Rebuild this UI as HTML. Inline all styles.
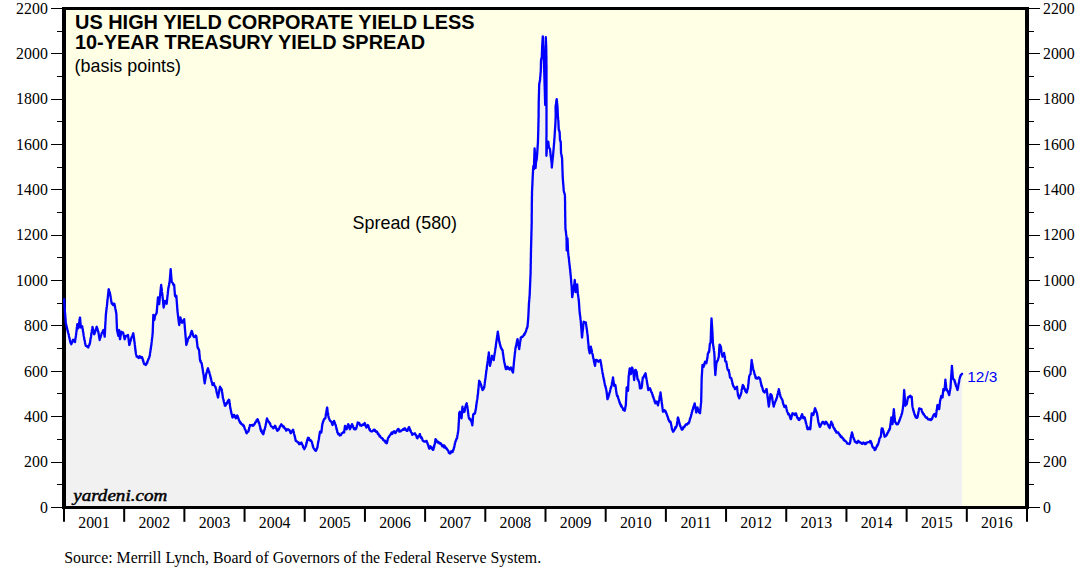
<!DOCTYPE html>
<html><head><meta charset="utf-8"><title>US High Yield Corporate Yield Less 10-Year Treasury Yield Spread</title>
<style>
html,body{margin:0;padding:0;background:#fff;}
body{width:1081px;height:571px;overflow:hidden;position:relative;}
svg text{font-kerning:normal;}
.ax{font-family:"Liberation Serif",serif;font-size:15.85px;fill:#000;}
.tt{font-family:"Liberation Sans",sans-serif;font-weight:bold;font-size:20.1px;fill:#000;}
.sub{font-family:"Liberation Sans",sans-serif;font-size:17.9px;fill:#000;}
.lab{font-family:"Liberation Sans",sans-serif;font-size:15.4px;fill:#0000ff;}
.yd{font-family:"Liberation Serif",serif;font-style:italic;font-weight:normal;font-size:15.8px;fill:#000;stroke:#000;stroke-width:0.45px;}
.src{font-family:"Liberation Serif",serif;font-size:15.85px;fill:#000;}
</style></head><body>
<svg width="1081" height="571" viewBox="0 0 1081 571" style="position:absolute;left:0;top:0">
<rect x="0" y="0" width="1081" height="571" fill="#fff"/>
<rect x="64" y="8.5" width="963" height="498.7" fill="#ffffe6"/>
<polygon points="64.2,507 64.2,299.2 64.2,299.6 64.2,300.1 64.3,301.1 64.3,301.2 64.3,302.3 64.4,302.7 64.4,303.1 64.4,304.1 64.5,304.3 64.5,305.2 64.5,305.5 64.6,306.1 64.6,307.0 64.6,308.0 64.7,308.3 64.7,308.6 64.8,309.3 64.8,310.3 64.9,311.1 64.9,311.4 64.9,311.8 65.0,313.0 65.0,312.7 65.1,314.1 65.1,314.1 65.2,314.6 65.2,315.2 65.3,316.0 65.3,317.0 65.4,317.0 65.4,318.0 65.5,318.7 65.5,319.0 65.6,319.8 65.6,319.9 65.6,320.5 65.7,321.3 65.7,322.3 65.8,322.7 65.8,323.3 66.0,323.7 66.1,324.6 66.3,325.0 66.4,325.5 66.6,326.6 66.7,327.1 66.9,327.2 67.0,328.1 67.2,328.7 67.3,329.7 67.5,330.1 67.6,330.1 67.7,331.5 67.9,331.1 68.0,332.1 68.2,333.0 68.3,333.3 68.5,333.5 68.6,334.5 68.8,334.6 68.9,335.9 69.0,336.6 69.2,337.0 69.3,337.9 69.5,337.9 69.6,338.9 69.8,339.4 69.9,340.0 70.0,340.4 70.2,341.5 70.3,341.7 70.6,342.9 70.8,342.9 71.1,343.8 71.3,344.2 71.6,342.9 71.8,343.1 72.0,342.4 72.3,342.2 72.5,341.4 72.8,340.0 73.0,339.7 73.4,339.9 73.8,340.9 74.2,340.2 74.6,341.5 75.0,342.0 75.1,341.1 75.2,340.4 75.2,339.8 75.3,339.9 75.4,338.6 75.5,338.1 75.6,337.7 75.7,337.6 75.8,336.2 75.8,335.9 75.9,335.4 76.0,335.2 76.1,334.5 76.2,334.0 76.2,332.8 76.3,332.3 76.4,331.7 76.5,331.6 76.6,331.1 76.7,330.0 76.7,329.0 76.8,328.4 76.9,327.8 77.0,327.1 77.0,326.7 77.1,326.2 77.2,325.2 77.3,324.3 77.3,324.2 77.5,324.7 77.6,325.2 77.8,326.0 77.9,327.1 78.0,327.4 78.2,327.8 78.3,328.3 78.4,327.9 78.5,327.3 78.6,326.1 78.7,326.3 78.8,325.6 78.9,325.1 79.0,324.4 79.1,323.4 79.2,322.8 79.3,321.9 79.4,321.9 79.4,320.7 79.5,320.1 79.6,319.6 79.7,319.0 79.8,318.5 79.9,317.6 80.0,317.5 80.1,317.7 80.1,318.4 80.2,319.0 80.2,319.9 80.3,320.2 80.3,321.6 80.4,322.0 80.4,322.2 80.5,322.9 80.5,323.6 80.6,324.2 80.6,324.6 80.7,325.9 80.7,326.7 80.8,326.8 80.8,327.5 81.5,326.9 82.2,326.3 82.3,326.5 82.4,327.1 82.5,328.0 82.6,328.5 82.7,329.7 82.8,329.6 82.9,330.0 83.0,331.6 83.1,331.8 83.2,332.0 83.3,333.0 83.4,333.0 83.5,334.2 83.6,335.2 83.7,335.7 83.8,336.1 83.9,336.3 84.0,337.0 84.1,337.4 84.2,338.3 84.3,339.3 84.4,339.6 84.6,340.5 84.7,340.6 84.9,341.1 85.0,342.4 85.1,343.3 85.3,343.7 85.4,344.3 85.6,344.9 85.7,345.5 85.8,345.8 86.3,345.6 86.8,346.5 87.3,346.5 87.8,346.2 88.3,347.5 88.5,346.3 88.8,346.0 89.0,345.3 89.2,345.2 89.4,345.0 89.6,343.7 89.8,343.7 90.0,342.5 90.1,342.4 90.2,341.8 90.3,340.6 90.4,339.8 90.5,339.2 90.6,338.6 90.7,338.0 90.8,337.9 90.9,337.6 91.0,336.9 91.1,335.9 91.2,335.5 91.2,335.1 91.3,333.7 91.4,333.7 91.5,333.4 91.6,332.7 91.7,332.0 91.8,331.2 91.9,330.2 92.0,330.3 92.1,329.2 92.2,329.1 92.3,328.7 92.4,327.5 92.5,327.0 92.6,327.5 92.8,328.7 92.9,329.0 93.1,329.0 93.2,329.6 93.3,330.2 93.5,331.6 93.6,332.1 93.8,332.0 93.9,333.3 94.0,334.1 94.2,334.2 94.5,333.8 94.8,332.7 95.0,332.4 95.3,331.7 95.5,330.6 95.7,329.8 95.8,330.4 96.0,329.3 96.2,328.6 96.3,328.4 96.5,327.2 96.7,326.7 96.9,327.8 97.1,328.3 97.3,328.2 97.5,328.8 97.7,329.5 97.9,330.1 98.1,331.2 98.3,331.7 98.4,332.0 98.5,332.8 98.6,333.1 98.7,334.5 98.8,334.5 98.9,335.2 99.0,335.9 99.1,336.8 99.2,336.9 99.3,338.1 99.4,338.2 99.5,338.8 99.6,339.4 99.7,340.0 99.8,338.8 100.0,338.7 100.2,337.8 100.4,337.0 100.6,337.3 100.8,336.0 100.9,335.7 101.1,335.4 101.3,334.6 101.5,333.7 101.7,333.3 102.0,332.8 102.3,332.3 102.7,332.1 103.0,330.5 103.3,330.7 103.7,330.0 103.8,330.3 103.8,331.0 103.9,332.1 104.0,332.4 104.1,333.1 104.2,333.9 104.3,334.7 104.4,334.8 104.5,335.6 104.6,336.1 104.7,336.7 104.7,336.1 104.7,335.6 104.8,334.8 104.8,334.3 104.8,333.6 104.9,333.4 104.9,332.6 104.9,332.2 105.0,331.6 105.0,330.4 105.0,330.1 105.1,329.8 105.1,329.1 105.1,327.9 105.2,327.3 105.2,327.0 105.2,326.1 105.2,325.6 105.3,324.9 105.3,324.8 105.3,324.3 105.4,323.8 105.4,322.5 105.4,322.4 105.5,321.8 105.5,320.7 105.5,320.8 105.6,320.2 105.6,319.0 105.6,319.0 105.7,317.9 105.7,317.4 105.7,317.2 105.8,316.5 105.8,315.3 105.8,315.0 105.9,314.3 106.0,313.8 106.1,313.0 106.1,312.2 106.2,311.7 106.3,311.5 106.3,310.2 106.4,310.1 106.5,309.3 106.6,308.3 106.6,308.0 106.7,307.6 106.8,306.9 106.9,305.8 106.9,306.1 107.0,305.0 107.1,304.7 107.1,304.2 107.2,302.8 107.3,302.3 107.3,301.5 107.4,301.6 107.4,300.5 107.5,299.8 107.6,299.4 107.6,299.3 107.7,298.6 107.8,297.5 107.8,296.7 107.9,296.9 108.0,295.9 108.0,295.4 108.1,294.3 108.2,293.6 108.2,293.6 108.3,292.7 108.3,291.8 108.4,292.0 108.5,291.1 108.5,290.7 108.6,289.4 108.7,289.2 108.9,290.2 109.0,289.8 109.2,291.4 109.4,291.5 109.6,291.9 109.8,292.8 110.0,293.3 110.1,294.4 110.2,294.3 110.3,294.8 110.4,295.8 110.5,296.1 110.6,296.6 110.7,297.2 110.8,297.7 110.9,298.5 111.0,299.2 111.1,299.8 111.2,300.9 111.3,301.0 111.4,301.8 111.5,302.1 111.6,302.9 111.7,303.7 112.1,303.2 112.6,304.1 113.0,305.0 113.4,303.7 113.9,304.5 114.3,303.7 114.5,304.3 114.6,304.5 114.7,305.5 114.8,306.6 115.0,306.3 115.1,307.6 115.2,307.8 115.3,308.5 115.5,309.5 115.6,309.6 115.7,310.3 115.8,311.1 116.0,312.1 116.1,312.0 116.2,313.1 116.3,313.3 116.4,314.1 116.4,314.7 116.4,315.1 116.4,315.7 116.5,316.0 116.5,316.7 116.5,317.3 116.5,318.5 116.6,318.7 116.6,319.2 116.6,319.8 116.6,321.0 116.7,321.7 116.7,322.1 116.7,322.4 116.7,323.0 116.8,323.6 116.8,324.4 116.8,324.8 116.8,325.6 116.9,326.1 116.9,327.3 116.9,327.9 116.9,328.2 117.0,328.5 117.0,329.8 117.0,330.0 117.1,330.4 117.3,331.1 117.4,331.4 117.6,332.5 117.7,333.2 117.9,333.9 118.0,334.2 118.2,335.2 118.3,335.8 118.4,334.7 118.5,334.3 118.6,333.5 118.7,333.1 118.8,332.1 118.9,331.5 119.0,331.1 119.1,330.4 119.2,330.0 119.2,330.7 119.3,331.2 119.3,332.1 119.4,332.6 119.4,333.3 119.5,334.0 119.6,334.2 119.6,334.7 119.7,336.0 119.7,335.8 119.8,336.9 119.8,337.5 119.9,337.5 119.9,338.9 120.0,339.2 120.1,339.0 120.2,338.1 120.3,337.5 120.4,337.0 120.6,335.7 120.7,335.4 120.8,334.8 120.9,334.5 121.0,333.9 121.1,333.3 121.2,332.4 121.3,331.7 121.9,332.8 122.4,332.6 123.0,332.5 123.2,333.3 123.3,333.4 123.5,333.8 123.6,334.5 123.8,335.4 123.9,335.7 124.1,337.1 124.2,337.4 124.4,338.1 124.5,338.7 124.7,339.2 124.9,338.7 125.1,337.8 125.4,336.5 125.6,336.9 125.8,335.8 126.6,336.1 127.3,335.3 128.0,335.0 128.1,335.7 128.2,336.4 128.2,336.4 128.3,337.7 128.4,337.9 128.5,338.3 128.6,339.1 128.7,340.2 128.8,340.3 128.8,341.5 128.9,342.4 129.0,342.5 129.1,343.0 129.2,343.7 129.2,344.6 129.3,345.0 129.5,344.7 129.7,343.9 129.9,343.4 130.1,342.1 130.2,341.5 130.4,341.1 130.6,341.1 130.8,339.9 131.0,339.6 131.2,338.3 131.3,338.3 131.6,337.1 131.8,336.8 132.1,336.7 132.3,336.1 132.6,335.4 132.8,334.3 133.1,334.0 133.3,333.3 133.4,333.9 133.5,334.5 133.6,334.8 133.7,336.2 133.8,336.2 133.8,337.6 133.9,338.1 134.0,337.8 134.1,338.9 134.2,339.9 134.2,340.7 134.3,340.8 134.4,341.2 134.5,341.8 134.6,343.2 134.7,343.3 134.7,343.7 134.8,344.7 134.9,344.9 135.0,345.9 135.0,346.9 135.1,346.7 135.2,348.0 135.2,348.3 135.3,349.3 135.4,349.8 135.5,349.9 135.5,351.2 135.6,351.4 135.7,351.6 135.8,352.2 135.8,353.3 136.0,354.0 136.2,354.6 136.3,355.1 136.5,355.6 136.7,356.7 137.3,356.5 137.9,356.7 138.5,358.0 139.2,357.5 139.7,356.2 140.3,357.5 140.8,356.7 141.4,357.9 141.9,357.1 142.5,358.3 142.7,359.4 142.8,359.8 143.0,360.6 143.2,360.4 143.3,361.1 143.5,361.7 143.7,363.0 143.8,363.1 144.0,363.4 144.2,364.2 144.7,364.3 145.3,364.2 145.8,365.0 146.1,363.8 146.4,363.3 146.7,363.8 146.9,362.5 147.2,362.9 147.5,361.7 147.7,360.8 147.9,360.2 148.2,359.9 148.4,358.9 148.6,358.6 148.8,358.8 149.0,358.1 149.2,357.4 149.4,356.6 149.7,355.8 149.8,355.7 149.9,355.1 149.9,354.1 150.0,353.7 150.1,352.4 150.2,352.5 150.3,351.6 150.4,351.3 150.5,350.6 150.6,349.6 150.7,348.7 150.8,349.1 150.9,347.6 151.0,347.4 151.1,346.6 151.1,346.0 151.2,345.8 151.3,345.0 151.4,344.9 151.5,343.5 151.5,343.3 151.6,342.3 151.7,342.0 151.8,341.2 151.8,340.4 151.9,339.8 152.0,339.2 152.0,339.3 152.1,338.2 152.2,337.4 152.2,337.4 152.3,336.9 152.4,335.7 152.5,334.8 152.5,334.3 152.6,333.5 152.7,333.3 152.7,332.6 152.7,331.8 152.7,331.3 152.8,330.7 152.8,330.3 152.8,330.0 152.8,329.3 152.8,328.4 152.9,327.8 152.9,327.2 152.9,326.5 152.9,325.9 153.0,325.0 153.0,324.6 153.0,324.6 153.0,323.2 153.0,322.9 153.1,322.4 153.1,322.0 153.1,320.9 153.1,320.3 153.2,319.7 153.2,319.2 153.2,318.6 153.2,318.4 153.2,317.7 153.3,317.2 153.3,315.8 153.3,315.2 153.3,315.0 153.4,315.8 153.5,316.7 153.6,316.8 153.8,317.6 153.9,317.6 154.0,318.6 154.1,319.8 154.2,320.0 154.3,319.7 154.5,319.2 154.6,318.7 154.8,317.2 154.9,316.4 155.0,315.9 155.2,315.7 155.3,315.0 155.7,314.6 156.0,314.4 156.3,313.5 156.7,312.5 156.7,312.0 156.8,311.5 156.8,310.7 156.9,310.1 156.9,309.1 157.0,309.2 157.0,308.0 157.1,308.1 157.1,307.2 157.2,306.3 157.3,305.6 157.3,305.1 157.4,304.8 157.4,304.3 157.5,303.1 157.5,302.5 157.6,302.3 157.6,301.8 157.7,301.0 157.7,300.2 157.8,300.0 157.8,298.8 157.9,298.5 157.9,298.1 158.0,297.5 158.1,298.6 158.2,298.9 158.3,299.7 158.4,299.9 158.5,300.2 158.6,300.9 158.7,302.2 158.8,302.6 159.0,302.7 159.1,303.1 159.2,304.2 159.2,303.5 159.3,303.1 159.4,302.2 159.4,301.4 159.5,301.1 159.6,300.7 159.6,299.4 159.7,298.6 159.7,298.2 159.8,297.7 159.9,297.3 159.9,296.2 160.0,295.8 160.1,295.5 160.1,294.9 160.2,294.0 160.3,293.1 160.3,293.3 160.4,292.0 160.5,291.9 160.5,290.8 160.6,290.1 160.6,290.1 160.7,289.0 160.8,289.0 160.8,288.0 160.9,287.1 161.0,286.5 161.0,286.1 161.1,285.8 161.2,285.0 161.2,286.0 161.3,285.9 161.4,286.7 161.5,287.1 161.5,288.5 161.6,288.3 161.7,288.8 161.8,289.4 161.8,290.3 161.9,291.4 162.0,292.0 162.1,292.5 162.1,293.3 162.2,293.9 162.3,293.9 162.4,294.3 162.4,295.7 162.5,295.8 162.6,296.7 162.6,296.6 162.7,297.8 162.7,298.2 162.8,298.8 162.9,299.4 162.9,299.8 163.0,300.3 163.1,301.1 163.1,301.8 163.2,303.0 163.2,302.8 163.3,304.3 163.4,304.2 163.4,304.9 163.5,306.0 163.5,306.6 163.6,306.8 163.7,307.5 163.8,306.4 163.9,306.3 164.0,305.5 164.2,305.5 164.3,304.1 164.4,303.7 164.5,303.7 164.6,302.1 164.8,301.9 164.9,301.8 165.0,300.8 165.3,301.8 165.7,301.2 166.0,301.8 166.3,302.4 166.7,303.7 166.7,303.5 166.8,302.2 166.9,302.1 166.9,301.6 167.0,300.4 167.1,299.8 167.1,299.8 167.2,298.9 167.3,297.9 167.3,297.7 167.4,296.7 167.5,296.1 167.5,295.2 167.6,295.3 167.7,294.9 167.7,294.0 167.8,293.7 167.9,292.2 167.9,291.8 168.0,291.4 168.1,291.2 168.1,290.6 168.2,289.5 168.3,288.7 168.3,288.3 168.5,287.7 168.6,287.1 168.7,287.0 168.8,285.6 168.9,285.6 169.1,285.0 169.2,284.4 169.3,283.8 169.4,283.0 169.5,282.1 169.7,281.7 169.7,280.9 169.8,280.3 169.8,280.1 169.9,278.8 169.9,278.3 170.0,278.2 170.0,277.1 170.1,276.3 170.1,275.6 170.2,275.5 170.2,274.6 170.3,274.6 170.3,273.9 170.4,273.4 170.4,272.1 170.5,271.3 170.5,270.7 170.6,270.4 170.6,270.0 170.7,269.2 170.7,269.7 170.8,270.2 170.8,271.0 170.9,271.8 170.9,272.5 171.0,273.1 171.0,273.9 171.1,274.3 171.1,274.4 171.2,275.7 171.2,275.9 171.3,276.7 171.3,277.2 171.4,278.1 171.4,278.3 171.5,278.9 171.5,279.6 171.6,280.1 171.6,281.4 171.7,281.7 172.1,282.4 172.5,282.5 172.9,283.2 173.3,284.7 173.8,284.5 174.2,285.0 174.2,285.4 174.3,286.5 174.3,286.9 174.4,287.9 174.4,287.6 174.4,288.6 174.5,289.5 174.5,290.1 174.6,290.8 174.6,290.6 174.7,291.4 174.7,291.9 174.8,292.5 174.8,293.9 174.9,294.1 174.9,295.0 175.0,295.1 175.0,295.8 175.7,296.7 176.3,295.8 176.4,296.4 176.4,296.8 176.5,297.9 176.5,298.7 176.6,298.5 176.6,299.6 176.6,300.2 176.7,300.4 176.7,301.2 176.8,301.6 176.8,302.3 176.9,302.9 176.9,303.8 177.0,304.5 177.0,304.7 177.1,305.1 177.1,306.0 177.1,307.0 177.2,307.1 177.2,307.8 177.3,308.4 177.3,309.5 177.4,309.9 177.4,310.0 177.5,310.7 177.5,311.7 177.6,312.2 177.7,312.9 177.7,313.6 177.8,313.7 177.9,314.4 178.0,315.5 178.0,315.8 178.1,316.3 178.2,316.9 178.3,318.2 178.3,318.1 178.4,319.0 178.5,319.4 178.6,320.1 178.6,321.1 178.7,321.9 178.8,321.8 178.9,322.3 178.9,323.4 179.0,323.5 179.1,323.9 179.2,325.0 179.3,324.8 179.4,323.7 179.5,323.5 179.6,322.4 179.7,322.3 179.8,321.2 179.8,320.3 179.9,319.5 180.0,319.4 180.1,318.9 180.2,318.5 180.3,317.5 180.5,317.6 180.7,318.9 180.8,319.2 181.0,320.0 181.2,320.2 181.3,321.0 181.5,321.9 181.7,322.5 182.1,322.7 182.5,320.7 182.9,320.8 183.3,320.8 183.8,320.5 184.2,319.2 184.2,319.5 184.3,320.1 184.3,321.4 184.4,322.1 184.4,322.2 184.5,322.4 184.5,323.9 184.6,324.0 184.6,325.1 184.7,325.4 184.7,326.2 184.8,326.2 184.8,327.4 184.9,327.5 184.9,328.3 185.0,329.3 185.0,329.9 185.1,330.0 185.1,330.6 185.2,331.4 185.2,332.1 185.3,332.6 185.3,333.3 185.4,333.6 185.4,334.3 185.5,335.4 185.5,336.2 185.6,336.0 185.6,337.1 185.7,337.9 185.8,337.8 185.8,339.2 185.9,339.1 185.9,340.2 186.0,340.7 186.0,341.4 186.1,341.7 186.1,342.5 186.2,343.2 186.2,343.7 186.3,344.5 186.3,345.0 186.5,344.4 186.7,343.8 186.8,342.7 187.0,342.8 187.2,342.1 187.3,341.2 187.5,341.2 187.7,340.7 187.8,339.7 188.0,339.2 188.4,338.1 188.8,338.1 189.2,337.0 189.6,336.5 190.0,336.7 190.2,336.0 190.3,335.0 190.5,334.8 190.7,334.3 190.8,333.2 191.0,333.3 191.2,332.1 191.3,332.3 191.5,331.8 191.7,330.8 191.9,331.5 192.1,331.5 192.3,332.7 192.5,333.2 192.7,334.5 192.9,334.1 193.1,335.7 193.3,335.8 193.9,337.1 194.5,336.6 195.1,336.9 195.7,335.5 196.3,336.3 196.4,337.4 196.5,337.5 196.5,338.6 196.6,339.2 196.7,339.0 196.7,340.3 196.8,341.0 196.9,340.8 197.0,341.7 197.0,342.7 197.1,342.7 197.2,344.0 197.2,344.0 197.3,345.2 197.4,345.1 197.4,346.1 197.5,346.7 197.7,347.8 198.0,347.5 198.2,348.1 198.5,349.1 198.7,349.4 198.9,349.6 199.2,350.8 199.2,351.1 199.3,351.7 199.3,353.1 199.4,353.4 199.4,354.3 199.5,354.2 199.6,355.4 199.6,355.4 199.7,356.4 199.7,357.1 199.8,357.4 199.8,358.5 199.9,358.8 199.9,359.5 200.0,360.0 200.3,361.1 200.6,360.5 200.8,362.4 201.1,362.4 201.4,362.6 201.7,363.3 201.8,364.3 201.9,364.3 202.0,365.7 202.1,365.9 202.2,366.3 202.3,367.4 202.4,367.6 202.5,368.0 202.6,369.2 202.7,369.1 202.8,370.5 202.9,370.6 203.0,371.6 203.1,372.6 203.2,372.8 203.3,373.3 203.4,374.1 203.5,374.4 203.6,374.7 203.7,375.4 203.8,376.1 203.8,377.2 203.9,377.6 204.0,378.3 204.1,379.4 204.2,379.2 204.2,379.9 204.3,381.0 204.4,381.0 204.5,381.6 204.6,382.6 204.7,383.3 204.8,382.3 204.9,381.9 205.0,381.2 205.1,380.9 205.2,380.3 205.3,379.3 205.4,379.1 205.5,378.3 205.6,377.3 205.7,377.5 205.8,376.2 205.9,375.5 206.0,374.8 206.1,374.7 206.2,374.3 206.3,373.3 206.5,373.1 206.8,372.0 207.0,371.2 207.2,370.2 207.4,370.4 207.6,369.7 207.8,368.8 208.0,368.3 208.2,369.1 208.4,369.5 208.5,370.7 208.7,371.0 208.9,371.1 209.1,372.5 209.3,372.0 209.5,373.2 209.6,373.7 209.8,374.1 210.0,375.0 210.1,375.1 210.3,376.5 210.4,376.2 210.6,377.4 210.7,378.5 210.9,378.1 211.0,378.8 211.2,379.8 211.3,380.3 211.5,381.0 211.6,381.8 211.8,381.7 211.9,382.4 212.1,383.0 212.2,383.3 212.4,384.9 212.5,385.0 212.9,384.9 213.3,384.2 213.7,383.3 213.9,383.2 214.1,384.9 214.4,385.3 214.6,385.5 214.9,386.4 215.1,386.6 215.4,386.8 215.6,387.2 215.8,388.3 216.0,388.6 216.1,389.0 216.3,390.0 216.4,391.1 216.6,391.6 216.7,392.4 216.8,392.9 217.0,393.0 217.1,393.9 217.3,394.4 217.4,395.4 217.6,395.7 217.7,396.0 217.9,397.1 218.0,397.5 218.1,397.4 218.2,396.0 218.3,396.1 218.4,394.6 218.6,394.2 218.7,393.6 218.8,393.5 218.9,393.2 219.0,392.3 219.1,391.3 219.2,391.3 219.3,390.1 219.4,389.4 219.6,389.5 219.7,388.6 219.8,388.1 219.9,387.4 220.0,386.7 220.3,387.9 220.7,387.6 221.0,388.7 221.3,389.0 221.7,389.2 221.8,390.1 221.8,390.3 221.9,391.2 222.0,391.7 222.1,392.0 222.2,392.5 222.3,393.6 222.4,393.6 222.5,395.1 222.6,394.9 222.6,395.4 222.7,396.1 222.8,397.5 222.9,397.6 223.0,398.3 223.2,398.5 223.3,399.0 223.5,399.7 223.7,401.1 223.8,401.6 224.0,402.3 224.2,403.0 224.3,402.8 224.5,404.1 224.7,404.4 224.8,405.6 225.0,405.8 225.3,405.8 225.7,405.3 226.0,403.5 226.3,404.2 226.7,403.7 227.0,402.5 227.4,402.8 227.9,400.8 228.3,400.5 228.7,399.8 229.2,400.0 229.3,400.1 229.3,401.5 229.4,402.1 229.5,402.5 229.6,403.3 229.7,403.7 229.8,404.0 229.8,404.4 229.9,405.0 230.0,406.2 230.1,406.2 230.2,407.0 230.2,407.7 230.3,408.3 230.5,408.4 230.6,409.3 230.8,409.9 230.9,411.0 231.1,411.2 231.2,411.8 231.3,413.1 231.5,413.2 231.6,414.2 231.8,414.6 231.9,414.5 232.1,415.6 232.2,416.2 232.4,417.2 232.5,417.5 232.8,416.7 233.2,416.8 233.5,416.1 233.8,415.0 234.2,415.0 234.4,416.1 234.7,415.5 235.0,417.1 235.3,416.7 235.6,417.0 235.8,418.3 236.2,417.3 236.5,417.8 236.8,417.6 237.2,415.5 237.5,415.8 237.7,416.4 237.9,417.1 238.1,418.1 238.3,417.9 238.5,419.0 238.8,419.4 239.0,420.6 239.2,420.8 239.6,421.0 240.0,422.7 240.4,422.1 240.8,422.6 241.3,424.0 241.7,424.2 242.2,424.7 242.7,424.4 243.2,425.9 243.7,425.4 244.2,426.7 244.4,427.7 244.6,428.1 244.8,428.9 245.1,429.3 245.3,429.5 245.5,430.2 245.8,430.8 246.0,432.0 246.2,431.6 246.4,433.2 246.7,433.3 247.2,431.9 247.8,431.7 248.3,431.7 248.5,430.8 248.6,430.9 248.8,429.8 248.9,429.1 249.1,429.1 249.2,427.7 249.4,427.4 249.5,426.9 249.7,426.5 249.8,425.9 250.0,425.0 250.6,425.5 251.2,425.1 251.9,425.2 252.5,425.8 253.0,424.7 253.5,425.5 254.0,424.6 254.5,424.3 255.0,423.3 255.3,422.3 255.6,422.2 255.9,422.2 256.2,421.4 256.6,420.1 256.9,420.1 257.2,420.3 257.5,419.2 257.7,419.4 258.0,419.9 258.2,420.7 258.5,421.8 258.7,422.6 258.9,422.3 259.2,423.3 259.3,423.5 259.5,424.3 259.6,424.9 259.8,425.8 259.9,426.0 260.1,426.8 260.2,427.2 260.4,428.7 260.5,429.1 260.7,428.9 260.8,430.0 261.1,431.2 261.5,430.4 261.8,431.4 262.1,432.8 262.4,433.1 262.7,433.5 263.0,433.5 263.3,434.2 263.5,433.2 263.7,433.1 263.8,431.8 264.0,431.3 264.2,430.9 264.3,429.9 264.5,429.7 264.7,429.5 264.8,428.8 265.0,427.9 265.2,427.4 265.3,426.7 265.5,426.0 265.6,425.1 265.7,425.0 265.8,424.2 265.9,424.0 266.0,423.5 266.2,422.4 266.3,422.0 266.4,421.6 266.5,420.6 266.6,419.8 266.8,419.8 266.9,419.3 267.0,418.3 267.3,419.3 267.6,419.8 267.9,420.6 268.2,421.0 268.5,421.5 268.9,421.8 269.2,422.5 269.5,422.7 269.8,423.7 270.1,423.4 270.4,424.5 270.7,425.5 271.0,426.0 271.4,426.3 271.7,426.7 272.2,426.8 272.8,427.6 273.3,428.3 273.7,427.8 274.0,427.5 274.3,426.7 274.7,426.6 275.0,425.8 275.3,427.0 275.6,426.5 275.8,427.7 276.1,428.5 276.4,428.4 276.7,429.2 276.9,430.4 277.2,429.6 277.5,430.8 277.8,430.4 278.2,429.3 278.5,429.8 278.8,429.6 279.2,428.3 279.5,427.8 279.8,426.5 280.1,426.7 280.4,426.0 280.7,425.7 281.0,424.8 281.3,424.2 281.7,424.9 282.1,425.7 282.5,425.6 283.0,425.9 283.4,427.3 283.8,426.5 284.2,427.5 284.6,428.3 285.0,428.3 285.4,429.4 285.8,428.7 286.2,430.7 286.7,430.3 287.3,429.9 287.9,429.2 288.5,429.6 289.2,430.0 289.4,430.4 289.7,430.4 290.0,431.5 290.3,432.1 290.6,433.1 290.8,433.3 291.1,432.6 291.5,431.9 291.8,431.3 292.1,431.6 292.4,431.4 292.7,430.2 293.0,429.7 293.2,429.9 293.3,431.3 293.5,431.4 293.7,431.8 293.8,432.3 294.0,433.7 294.2,434.4 294.3,434.8 294.5,435.2 294.7,435.8 294.8,436.5 295.0,436.8 295.1,438.2 295.2,438.2 295.4,439.1 295.5,439.9 295.7,440.6 295.8,440.8 296.4,441.2 296.9,441.3 297.5,442.2 298.0,442.5 298.6,442.4 299.1,444.2 299.7,444.2 300.2,443.3 300.8,443.7 301.3,442.5 301.6,442.8 301.8,443.5 302.0,444.0 302.3,444.8 302.5,445.0 302.8,445.4 303.0,446.7 303.3,447.6 303.7,447.6 304.0,448.2 304.3,449.2 304.6,448.3 304.8,448.0 305.1,447.4 305.3,447.1 305.6,446.6 305.8,445.8 306.0,445.1 306.1,445.1 306.3,444.4 306.4,442.9 306.6,443.2 306.7,442.7 306.9,441.9 307.0,440.6 307.2,440.8 307.3,439.9 307.5,439.2 308.1,437.8 308.7,438.3 309.0,438.0 309.3,440.1 309.7,440.1 310.0,439.9 310.3,440.8 311.0,440.4 311.7,441.7 311.8,441.8 312.0,442.5 312.2,443.8 312.3,443.8 312.5,444.2 312.7,445.7 312.8,446.1 313.0,445.9 313.2,447.4 313.3,447.5 313.7,448.2 314.1,448.9 314.5,449.2 314.9,450.1 315.2,450.4 315.6,450.9 316.0,450.8 316.2,449.8 316.4,449.9 316.6,449.1 316.9,448.8 317.1,447.8 317.3,447.8 317.5,446.7 317.6,446.1 317.7,445.2 317.8,444.6 317.9,443.9 318.0,443.6 318.1,442.6 318.2,442.4 318.3,441.4 318.5,441.2 318.6,440.6 318.7,440.0 318.8,439.4 318.9,439.2 319.0,437.7 319.0,438.0 319.1,437.0 319.2,436.5 319.3,436.0 319.4,435.6 319.5,434.5 319.6,434.0 319.7,433.9 319.8,432.4 319.9,432.4 320.0,431.7 320.7,432.4 321.3,432.5 321.4,431.4 321.5,431.3 321.6,430.8 321.6,430.4 321.7,429.1 321.8,429.1 321.9,428.0 321.9,427.4 322.0,427.1 322.1,425.6 322.2,425.7 322.3,424.9 322.3,424.2 322.5,423.4 322.7,423.4 322.9,422.2 323.1,421.8 323.3,421.2 323.5,420.9 323.7,420.0 324.2,418.9 324.8,418.8 325.3,418.3 325.4,417.6 325.5,417.1 325.6,416.7 325.7,415.5 325.8,415.4 325.9,414.3 326.0,413.8 326.1,412.9 326.2,412.5 326.3,411.9 326.4,411.8 326.5,410.8 326.7,410.3 326.8,409.2 326.9,408.5 327.0,407.9 327.2,407.5 327.2,408.2 327.3,408.8 327.4,409.6 327.5,409.4 327.6,410.7 327.7,411.5 327.8,411.7 327.8,411.8 327.9,412.7 328.0,413.0 328.1,413.7 328.2,415.1 328.2,415.3 328.3,415.8 328.5,416.6 328.7,417.4 328.9,418.1 329.1,418.4 329.3,419.0 329.5,419.6 329.7,420.0 330.2,420.9 330.8,421.3 331.3,421.7 331.6,422.6 331.8,422.6 332.0,423.9 332.3,424.3 332.5,425.0 332.7,424.7 332.9,423.3 333.1,422.8 333.4,422.0 333.6,422.4 333.8,422.0 334.0,420.8 334.2,421.7 334.5,421.9 334.7,423.1 334.9,423.7 335.1,424.0 335.4,424.3 335.6,424.9 335.8,425.8 336.0,426.3 336.1,426.8 336.3,427.6 336.4,428.4 336.6,429.4 336.7,428.9 336.9,430.2 337.0,430.1 337.2,430.8 337.3,432.3 337.5,432.5 337.9,433.1 338.2,434.2 338.6,433.9 338.9,433.7 339.3,434.8 339.7,435.5 340.2,435.1 340.7,435.2 341.2,434.7 341.7,433.3 342.3,433.1 342.9,432.7 343.5,431.8 344.2,432.5 344.2,432.0 344.3,431.0 344.4,430.3 344.5,429.6 344.5,429.0 344.6,429.0 344.7,427.9 344.8,428.1 344.8,426.6 344.9,426.8 345.0,425.8 345.3,425.8 345.6,426.2 345.8,427.8 346.1,427.7 346.4,429.0 346.7,429.2 346.9,428.1 347.1,427.3 347.3,427.6 347.5,426.9 347.7,426.5 347.9,425.7 348.1,424.3 348.3,424.2 348.5,425.0 348.8,425.7 349.0,426.0 349.2,427.2 349.4,427.0 349.6,428.5 349.8,428.8 350.0,429.2 350.2,427.9 350.5,427.3 350.8,427.5 351.0,427.1 351.2,425.5 351.5,425.2 351.8,425.1 352.0,424.2 352.2,424.3 352.5,425.8 352.7,425.8 353.0,425.8 353.2,426.8 353.4,427.6 353.7,428.0 353.9,428.9 354.2,429.2 354.9,428.1 355.6,429.3 356.3,428.3 356.5,427.5 356.6,427.2 356.8,426.5 356.9,425.6 357.1,425.0 357.2,424.8 357.4,424.3 357.5,423.5 357.7,422.5 358.2,423.0 358.7,422.9 359.2,422.9 359.7,424.2 360.2,425.5 360.8,425.2 361.4,425.7 362.0,425.3 362.5,424.5 363.1,424.6 363.6,424.9 364.1,424.1 364.7,423.0 364.9,423.8 365.1,424.0 365.4,424.8 365.6,426.1 365.9,426.1 366.1,427.1 366.3,427.5 366.7,427.0 367.1,426.9 367.5,426.1 367.8,425.0 368.1,425.3 368.3,425.5 368.6,426.5 368.8,427.3 369.0,428.1 369.3,429.0 369.5,429.7 369.8,429.1 370.0,430.3 370.6,431.2 371.2,431.3 371.9,431.5 372.5,430.8 373.0,430.7 373.6,429.8 374.1,430.7 374.7,429.7 375.1,430.7 375.5,430.9 375.9,431.8 376.3,431.3 376.7,432.0 377.1,431.8 377.5,433.1 377.9,434.0 378.3,433.5 378.8,434.9 379.2,435.0 379.6,436.3 380.0,435.7 380.4,436.8 380.8,437.5 381.2,437.7 381.7,438.3 382.2,438.2 382.7,438.6 383.2,440.0 383.7,440.5 384.2,440.3 384.6,440.8 385.0,440.6 385.4,442.4 385.8,442.8 386.2,442.4 386.7,443.3 386.8,442.8 387.0,442.6 387.2,442.1 387.3,441.0 387.5,440.4 387.7,439.9 387.8,438.9 388.0,438.3 388.2,437.7 388.3,437.5 388.8,437.3 389.2,436.2 389.6,435.9 390.0,435.1 390.4,434.8 390.8,434.2 391.3,433.1 391.8,432.4 392.3,433.8 392.8,432.2 393.3,432.0 394.0,431.2 394.6,432.6 395.2,433.0 395.8,432.5 396.2,431.4 396.5,431.5 396.8,430.6 397.2,430.3 397.5,429.7 398.1,428.9 398.8,429.2 399.4,431.6 400.0,430.8 400.6,431.4 401.2,430.4 401.9,430.4 402.5,430.0 403.0,429.2 403.5,429.9 404.0,428.8 404.5,429.6 405.0,428.3 405.5,429.3 406.0,429.9 406.5,430.7 407.0,429.9 407.5,430.8 407.8,429.6 408.1,429.2 408.3,428.5 408.6,427.8 408.9,427.1 409.2,427.2 409.4,427.9 409.6,428.9 409.9,429.0 410.1,430.3 410.4,430.9 410.6,430.4 410.8,431.7 411.2,432.4 411.5,432.7 411.8,432.9 412.2,434.8 412.5,434.7 413.1,433.8 413.8,434.1 414.4,434.0 415.0,433.3 415.3,434.6 415.6,434.7 415.8,434.8 416.1,435.5 416.4,435.6 416.7,437.4 416.9,437.9 417.2,437.4 417.5,438.3 417.8,437.0 418.1,436.8 418.4,436.3 418.7,436.6 419.0,436.0 419.4,435.3 419.7,434.2 420.0,434.1 420.2,435.8 420.5,436.3 420.8,436.8 421.1,437.8 421.4,437.1 421.7,438.3 422.1,438.3 422.5,439.9 422.9,440.7 423.3,440.9 423.7,440.8 424.2,441.7 424.9,441.6 425.6,441.7 426.3,440.8 426.6,440.9 426.8,441.8 427.1,442.4 427.3,442.8 427.6,443.9 427.8,444.1 428.1,444.9 428.3,445.8 428.5,446.1 428.8,447.5 429.0,447.4 429.2,448.7 429.6,448.5 430.0,447.1 430.4,446.3 430.8,446.7 431.3,447.9 431.7,447.2 432.1,448.9 432.5,449.3 432.9,449.9 433.3,449.7 433.5,448.6 433.6,448.4 433.8,447.4 433.9,447.7 434.1,447.0 434.2,446.1 434.4,445.3 434.5,444.6 434.7,444.2 434.8,443.9 434.9,442.9 435.0,442.4 435.1,441.3 435.2,440.7 435.3,440.0 435.4,440.0 435.5,439.2 435.8,439.8 436.2,439.7 436.5,441.4 436.8,441.0 437.2,441.8 437.5,442.5 438.1,441.8 438.8,442.2 439.4,443.6 440.0,443.0 440.4,443.2 440.8,443.3 441.2,444.4 441.7,444.6 442.1,446.1 442.5,445.8 443.1,445.2 443.8,447.3 444.4,445.5 445.0,446.7 445.4,447.9 445.8,448.1 446.2,447.8 446.7,448.9 447.1,449.1 447.5,450.0 447.8,450.1 448.2,450.5 448.5,451.3 448.8,452.8 449.2,452.5 449.8,453.5 450.5,453.3 451.2,451.3 451.8,451.6 452.5,452.0 452.7,451.9 453.0,450.1 453.2,450.4 453.5,449.2 453.7,449.4 453.9,447.5 454.2,447.5 454.3,447.2 454.4,446.0 454.6,445.2 454.7,444.4 454.8,444.6 454.9,443.6 455.1,442.6 455.2,442.2 455.3,441.7 455.6,441.7 455.9,440.1 456.2,440.1 456.4,438.9 456.7,438.4 457.0,438.3 457.1,438.0 457.2,437.4 457.3,436.2 457.4,435.5 457.5,434.9 457.6,434.9 457.7,434.2 457.8,433.3 457.9,432.7 458.0,432.5 458.0,432.0 458.1,431.5 458.2,430.7 458.3,430.0 458.4,429.1 458.4,428.4 458.4,428.4 458.5,427.5 458.5,427.2 458.6,426.0 458.6,426.1 458.6,425.0 458.7,424.9 458.7,424.3 458.7,423.4 458.8,422.3 458.8,422.5 458.9,421.6 458.9,421.3 458.9,420.2 459.0,419.5 459.0,419.2 459.0,418.8 459.0,417.8 459.1,417.0 459.1,416.6 459.1,416.1 459.1,415.0 459.1,414.8 459.1,414.1 459.2,413.6 459.2,412.9 459.8,411.7 460.4,412.1 460.5,412.9 460.6,413.7 460.7,414.3 460.9,414.4 461.0,415.4 461.1,415.7 461.2,416.7 461.3,416.6 461.4,418.1 461.5,418.3 461.6,418.1 461.6,417.1 461.7,416.5 461.7,415.9 461.8,415.3 461.8,414.2 461.9,414.5 461.9,413.2 462.0,412.5 462.0,411.8 462.1,411.3 462.1,411.3 462.2,409.9 462.2,409.4 462.3,409.3 462.3,408.2 462.4,407.4 462.4,407.4 462.5,406.7 462.6,407.4 462.7,407.9 462.8,408.7 462.9,408.6 463.1,410.1 463.2,410.5 463.3,410.4 463.4,411.1 463.5,412.1 464.6,411.7 464.7,411.0 464.8,410.4 464.9,409.6 465.0,408.8 465.1,408.4 465.2,407.5 465.3,407.4 465.4,406.7 465.7,406.5 465.9,404.9 466.2,404.8 466.4,404.3 466.7,403.3 466.8,403.6 466.9,404.9 467.0,405.6 467.1,405.6 467.3,406.2 467.4,407.3 467.5,407.5 467.6,408.2 467.7,408.6 467.7,409.8 467.8,410.3 467.9,410.5 468.0,411.0 468.0,411.7 468.1,412.4 468.2,413.6 468.3,414.1 468.4,414.8 468.4,415.3 468.5,416.0 468.6,415.8 468.7,416.9 468.8,417.5 469.4,419.0 470.0,418.8 470.3,420.0 470.6,419.4 470.9,420.2 471.2,420.8 471.4,421.6 471.6,422.0 471.7,422.8 471.9,423.0 472.0,424.0 472.2,424.8 472.3,425.4 472.4,424.4 472.4,423.9 472.5,424.0 472.5,423.3 472.6,422.8 472.6,421.9 472.7,421.5 472.7,421.0 472.8,420.4 472.8,419.0 472.8,418.9 472.9,418.0 472.9,417.8 473.0,416.8 473.0,416.4 473.1,416.2 473.1,415.3 473.2,414.6 473.8,413.7 474.4,413.8 475.0,413.3 475.1,412.7 475.2,412.6 475.3,411.3 475.4,410.7 475.6,410.5 475.7,409.3 475.8,409.2 475.9,409.0 476.0,407.9 476.1,407.3 476.2,406.5 476.2,406.1 476.3,405.5 476.4,404.5 476.5,403.9 476.6,403.3 476.7,402.8 476.8,402.3 476.8,401.6 476.9,401.0 477.0,400.2 477.1,400.0 477.2,399.4 477.3,399.0 477.4,398.2 477.5,397.5 477.5,396.9 477.6,395.8 477.7,395.7 477.8,394.8 477.9,394.2 478.0,393.6 478.0,393.1 478.1,392.3 478.1,391.6 478.2,390.9 478.3,390.3 478.3,389.9 478.4,389.2 478.4,388.8 478.5,387.6 478.5,387.4 478.6,387.2 478.7,386.0 478.7,385.7 478.8,385.1 478.8,384.3 478.9,384.3 478.9,383.1 479.0,382.9 479.1,381.7 479.1,381.0 479.2,380.8 479.4,381.9 479.7,381.9 480.0,381.9 480.3,382.9 480.6,383.5 480.8,384.2 481.0,385.0 481.2,384.9 481.3,385.6 481.5,387.1 481.7,387.4 481.8,387.2 482.0,388.1 482.2,388.7 482.3,389.6 482.5,390.0 482.8,389.7 483.2,389.6 483.5,389.0 483.8,388.0 484.2,387.5 484.2,387.1 484.3,386.6 484.4,386.0 484.5,385.1 484.6,384.8 484.6,384.1 484.7,383.7 484.8,382.4 484.9,382.5 485.0,381.1 485.0,381.2 485.1,380.4 485.2,379.8 485.3,379.6 485.4,378.6 485.4,377.9 485.5,377.7 485.6,377.2 485.7,376.3 485.8,375.5 485.8,375.0 485.9,374.3 486.0,373.7 486.1,373.3 486.2,372.3 486.2,371.8 486.3,371.3 486.4,370.5 486.5,369.8 486.6,369.7 486.7,369.1 486.8,368.1 486.8,367.4 486.9,366.6 487.0,366.1 487.1,365.3 487.2,365.0 487.2,364.5 487.3,363.9 487.4,362.8 487.5,363.0 487.6,361.8 487.6,361.8 487.7,361.2 487.8,360.7 487.9,359.3 488.0,359.0 488.0,358.9 488.1,357.4 488.2,356.8 488.3,356.7 488.4,356.1 488.4,355.9 488.5,355.2 488.6,354.3 488.7,354.2 488.8,353.1 488.8,352.5 488.9,353.1 488.9,353.9 489.0,354.2 489.0,354.8 489.1,355.6 489.2,356.0 489.2,357.2 489.3,357.5 489.3,358.0 489.4,358.2 489.4,359.0 489.5,359.7 489.5,360.4 489.6,361.1 489.6,361.9 489.7,362.6 489.7,362.8 489.8,363.4 489.8,364.1 489.9,365.1 489.9,365.1 490.0,365.8 490.1,365.2 490.2,364.9 490.4,363.6 490.5,363.1 490.6,363.2 490.8,362.4 490.9,361.5 491.0,360.4 491.1,360.6 491.2,359.8 491.4,359.3 491.5,358.9 491.6,358.1 491.8,357.0 491.9,356.1 492.0,355.8 492.2,356.1 492.5,357.0 492.7,357.6 493.0,357.8 493.2,358.4 493.4,359.6 493.7,360.0 493.8,359.5 493.9,358.6 493.9,358.7 494.0,357.7 494.1,356.5 494.2,356.3 494.3,356.1 494.4,355.0 494.5,354.8 494.6,353.5 494.7,353.2 494.8,353.1 494.9,352.3 495.0,351.7 495.1,350.7 495.1,350.4 495.2,349.8 495.3,349.2 495.4,348.3 495.5,348.1 495.6,347.4 495.7,347.3 495.8,346.2 495.9,345.5 495.9,344.6 496.0,344.0 496.1,344.0 496.2,342.7 496.3,342.1 496.4,341.6 496.5,341.3 496.5,341.0 496.6,340.2 496.7,339.8 496.8,338.5 496.9,337.8 497.0,338.0 497.1,336.9 497.1,336.7 497.2,335.7 497.3,335.0 497.4,334.4 497.5,333.7 497.6,333.9 497.7,333.0 497.7,332.1 497.8,331.7 497.9,332.2 498.0,332.8 498.1,333.0 498.2,334.5 498.3,334.8 498.4,335.8 498.5,335.9 498.5,336.7 498.6,336.9 498.7,337.3 498.8,338.8 498.9,339.4 499.0,339.4 499.1,340.6 499.2,340.8 499.3,341.8 499.5,341.8 499.6,342.8 499.8,343.8 499.9,343.9 500.1,345.0 500.2,344.8 500.4,345.6 500.5,346.5 500.7,346.6 500.8,347.5 501.2,347.7 501.5,349.1 501.8,349.0 502.2,350.0 502.5,350.0 502.6,350.4 502.7,350.9 502.8,351.7 502.9,352.1 502.9,353.5 503.0,353.5 503.1,354.4 503.2,354.5 503.3,355.6 503.4,356.0 503.5,356.7 503.6,356.9 503.6,357.6 503.7,358.9 503.8,359.1 503.9,359.6 504.0,360.1 504.1,360.8 504.2,361.7 504.3,362.0 504.4,362.4 504.6,363.7 504.7,364.0 504.9,364.4 505.0,365.6 505.1,365.6 505.3,366.4 505.4,367.7 505.6,367.5 505.7,368.5 505.8,369.2 506.2,369.2 506.5,368.7 506.8,367.1 507.2,366.9 507.5,366.7 507.8,367.5 508.2,367.5 508.5,368.9 508.8,368.2 509.2,369.2 509.7,369.5 510.3,368.1 510.8,367.5 511.1,367.7 511.3,368.5 511.6,368.7 511.8,370.0 512.0,369.9 512.3,371.4 512.5,371.5 512.8,371.8 513.0,372.5 513.1,371.6 513.1,371.4 513.2,370.4 513.2,370.4 513.3,369.0 513.4,368.8 513.4,368.2 513.5,367.3 513.5,367.1 513.6,366.1 513.6,365.8 513.7,365.1 513.8,364.2 513.8,363.6 513.9,362.7 513.9,362.2 514.0,362.2 514.0,361.1 514.1,360.8 514.2,360.0 514.2,359.0 514.3,358.9 514.4,358.1 514.4,357.6 514.5,356.8 514.6,356.0 514.6,355.6 514.7,354.9 514.8,354.2 514.8,354.2 514.9,353.2 514.9,352.7 515.0,352.6 515.1,351.8 515.1,351.3 515.2,350.7 515.3,349.4 515.3,349.2 515.5,348.3 515.6,347.5 515.7,347.6 515.8,347.0 516.0,346.1 516.1,345.5 516.2,345.2 516.4,344.7 516.5,343.6 516.6,343.7 516.7,342.5 516.9,342.3 517.0,341.2 517.1,340.5 517.2,340.8 517.4,340.0 517.5,339.2 517.6,340.0 517.7,339.9 517.8,340.6 517.9,341.3 518.0,342.0 518.1,342.7 518.2,343.4 518.3,343.7 518.4,344.6 518.5,345.6 518.6,345.7 518.8,347.0 518.9,347.4 519.0,348.1 519.1,348.3 519.2,349.2 519.3,348.5 519.3,348.1 519.4,347.2 519.5,346.2 519.6,346.4 519.7,345.8 519.8,344.7 519.9,343.8 520.0,344.0 520.0,343.1 520.1,342.0 520.2,341.5 520.3,340.8 520.4,340.9 520.5,339.7 520.6,339.8 520.7,339.0 520.7,337.7 520.8,337.5 521.3,337.6 521.8,336.6 522.3,337.0 522.8,336.8 523.3,335.8 523.7,334.9 524.0,334.1 524.3,334.9 524.7,333.5 525.0,333.7 525.3,332.5 525.6,332.2 525.8,331.6 526.0,331.2 526.2,330.3 526.4,329.5 526.6,328.4 526.9,328.7 527.1,327.7 527.3,327.3 527.5,326.7 527.6,326.4 527.6,325.1 527.7,325.0 527.7,323.7 527.8,323.7 527.8,323.2 527.9,322.1 527.9,321.7 528.0,321.5 528.0,320.5 528.1,319.8 528.1,318.9 528.2,318.1 528.2,317.8 528.3,317.2 528.3,316.7 528.4,315.8 528.4,315.3 528.4,314.5 528.4,314.4 528.5,313.7 528.5,312.8 528.5,312.1 528.6,311.8 528.6,311.1 528.6,310.9 528.6,309.8 528.7,309.1 528.7,309.0 528.7,307.8 528.8,307.5 528.8,306.7 528.8,306.5 528.8,305.7 528.9,305.2 528.9,304.4 528.9,303.5 529.0,303.3 529.0,302.6 529.1,301.9 529.1,301.5 529.2,301.0 529.2,299.7 529.3,299.2 529.4,298.6 529.4,297.9 529.5,297.1 529.5,296.7 529.6,296.0 529.6,295.8 529.7,295.0 529.7,294.4 529.7,293.5 529.7,293.0 529.8,292.6 529.8,291.9 529.8,291.1 529.8,290.4 529.9,289.8 529.9,290.0 529.9,289.2 529.9,288.0 530.0,288.0 530.0,287.6 530.0,286.7 530.0,285.7 530.1,285.4 530.1,284.7 530.1,283.9 530.1,283.6 530.2,282.6 530.2,282.8 530.2,281.9 530.2,281.3 530.3,281.0 530.3,280.1 530.3,279.2 530.3,278.6 530.4,277.9 530.4,277.2 530.4,277.2 530.4,276.7 530.5,275.6 530.5,274.9 530.5,274.7 530.5,274.3 530.6,273.8 530.6,272.5 530.6,272.2 530.6,271.8 530.6,271.3 530.6,270.6 530.6,269.7 530.7,268.9 530.7,268.9 530.7,267.9 530.7,267.3 530.7,266.8 530.7,266.1 530.7,265.9 530.7,264.8 530.7,264.0 530.8,263.9 530.8,263.3 530.8,262.9 530.8,262.2 530.8,261.7 530.8,261.2 530.8,260.2 530.8,259.6 530.8,258.7 530.8,258.2 530.9,257.9 530.9,256.9 530.9,256.8 530.9,255.7 530.9,255.4 530.9,255.2 530.9,253.9 530.9,253.2 530.9,252.9 531.0,252.1 531.0,252.0 531.0,250.8 531.0,250.9 531.0,250.0 531.0,249.7 531.0,249.0 531.0,248.1 531.1,247.4 531.1,247.1 531.1,246.3 531.1,245.6 531.1,244.9 531.1,244.4 531.2,244.0 531.2,243.5 531.2,243.0 531.2,241.7 531.2,241.2 531.2,240.7 531.3,240.2 531.3,239.4 531.3,238.7 531.3,238.3 531.3,237.3 531.3,236.9 531.3,236.4 531.4,236.2 531.4,235.6 531.4,234.9 531.4,234.4 531.4,233.8 531.4,232.9 531.4,232.4 531.5,231.2 531.5,231.1 531.5,230.4 531.5,229.5 531.5,229.1 531.5,228.8 531.6,227.8 531.6,227.4 531.6,226.4 531.6,225.9 531.6,225.7 531.6,224.4 531.6,223.9 531.7,223.7 531.7,222.9 531.7,222.0 531.7,221.7 531.7,221.2 531.7,220.4 531.7,219.9 531.7,219.2 531.7,218.6 531.7,218.0 531.7,217.3 531.7,216.4 531.7,215.9 531.7,215.8 531.7,214.9 531.7,214.0 531.7,214.0 531.8,212.8 531.8,212.1 531.8,211.8 531.8,211.0 531.8,210.6 531.8,210.0 531.8,209.1 531.8,208.8 531.8,207.8 531.8,207.5 531.8,206.9 531.8,205.9 531.8,205.5 531.8,205.0 531.8,204.0 531.8,203.7 531.8,203.5 531.8,202.6 531.9,202.1 531.9,201.5 531.9,200.4 531.9,200.5 531.9,199.6 531.9,198.5 531.9,198.5 531.9,197.5 531.9,196.7 531.9,196.8 532.0,195.8 532.0,195.4 532.0,194.2 532.0,194.1 532.0,193.3 532.0,192.3 532.0,191.8 532.1,191.3 532.1,190.4 532.1,190.3 532.1,189.3 532.2,188.8 532.2,188.5 532.2,187.6 532.2,187.4 532.3,186.5 532.3,186.1 532.3,185.2 532.4,184.9 532.4,184.2 532.4,183.0 532.4,182.9 532.5,181.9 532.5,181.7 532.5,180.8 532.5,180.3 532.6,179.9 532.6,178.6 532.6,178.2 532.7,177.9 532.7,177.5 532.7,176.7 532.8,175.5 532.8,175.4 532.8,174.3 532.8,174.1 532.9,173.7 532.9,172.5 532.9,172.6 533.0,171.8 533.0,171.0 533.0,170.1 533.1,169.5 533.1,169.1 533.2,168.8 533.2,168.0 533.3,166.9 533.4,166.2 533.4,166.0 533.5,166.2 533.6,167.5 533.8,167.5 533.9,168.5 534.0,169.0 534.0,168.2 534.0,168.0 534.0,167.1 534.1,166.3 534.1,166.3 534.1,165.4 534.1,165.0 534.1,164.5 534.1,164.0 534.1,162.6 534.1,162.3 534.2,161.5 534.2,161.2 534.2,160.9 534.2,160.0 534.2,159.6 534.2,158.4 534.3,157.9 534.3,157.8 534.3,157.1 534.3,156.2 534.3,155.7 534.4,154.8 534.4,154.8 534.4,153.8 534.4,153.5 534.5,152.7 534.5,151.6 534.5,151.2 534.5,150.5 534.5,150.5 534.6,149.6 534.6,148.5 534.6,148.3 534.6,148.6 534.7,149.4 534.7,150.1 534.7,150.8 534.8,151.3 534.8,151.9 534.8,152.2 534.9,153.3 534.9,153.7 534.9,154.0 534.9,155.0 535.0,156.1 535.0,155.9 535.0,156.6 535.1,157.7 535.1,158.0 535.1,158.6 535.2,159.4 535.2,160.0 535.2,160.4 535.3,161.3 535.3,161.9 535.3,162.9 535.4,163.5 535.4,163.3 535.4,164.4 535.4,165.2 535.5,165.9 535.5,166.4 535.5,166.9 535.6,167.5 535.6,168.0 535.6,167.3 535.7,166.6 535.7,166.5 535.8,165.9 535.8,165.4 535.8,164.6 535.9,163.6 535.9,163.4 536.0,162.8 536.0,162.0 536.2,161.3 536.4,160.8 536.6,160.0 536.7,159.2 536.7,158.8 536.8,158.0 536.9,157.1 536.9,156.7 537.0,156.1 537.0,156.1 537.1,155.0 537.1,154.4 537.2,153.6 537.2,152.9 537.3,152.3 537.3,151.7 537.3,150.9 537.4,150.2 537.4,150.3 537.5,149.3 537.5,148.7 537.5,148.2 537.6,147.3 537.6,146.6 537.7,145.9 537.7,145.4 537.7,144.8 537.8,144.6 537.8,143.8 537.9,143.5 537.9,142.5 537.9,141.7 537.9,141.6 538.0,140.7 538.0,139.6 538.0,139.1 538.0,138.8 538.0,138.5 538.1,137.4 538.1,137.1 538.1,136.2 538.1,135.9 538.1,134.6 538.2,134.4 538.2,134.1 538.2,132.9 538.2,132.3 538.2,131.5 538.3,131.0 538.3,130.4 538.3,130.0 538.3,129.6 538.3,128.6 538.3,128.1 538.3,127.3 538.4,127.1 538.4,126.7 538.4,125.9 538.4,124.9 538.4,124.8 538.4,124.4 538.4,123.5 538.4,122.4 538.5,122.5 538.5,121.9 538.5,120.9 538.5,120.1 538.5,119.5 538.5,119.2 538.5,118.9 538.5,118.1 538.6,117.8 538.6,116.6 538.6,116.1 538.6,115.8 538.6,115.0 538.6,114.5 538.6,113.7 538.6,113.3 538.6,112.4 538.6,111.6 538.6,111.2 538.6,110.3 538.6,110.2 538.6,109.3 538.7,108.8 538.7,108.3 538.7,107.4 538.7,107.0 538.7,106.0 538.7,106.1 538.7,105.2 538.7,104.9 538.7,103.6 538.7,103.3 538.7,102.8 538.7,102.3 538.7,101.3 538.8,100.5 538.8,100.0 538.8,99.4 538.8,99.3 538.8,98.1 538.8,98.1 538.9,97.2 538.9,96.7 538.9,96.1 538.9,95.5 538.9,95.0 538.9,94.3 539.0,93.5 539.0,93.3 539.0,92.2 539.0,92.0 539.0,91.5 539.0,90.9 539.0,89.9 539.1,89.7 539.1,89.2 539.1,88.2 539.1,87.4 539.1,87.0 539.1,86.8 539.2,85.5 539.2,84.8 539.2,84.6 539.2,84.0 539.3,83.5 539.5,83.0 539.6,81.8 539.7,81.9 539.9,80.4 540.0,80.0 540.1,79.6 540.1,78.4 540.2,77.8 540.2,77.3 540.3,76.6 540.3,76.4 540.4,75.9 540.4,74.9 540.5,75.0 540.5,73.9 540.6,73.1 540.6,72.5 540.7,72.4 540.7,72.0 540.8,71.0 540.8,70.1 540.8,69.4 540.8,69.4 540.8,68.3 540.9,68.3 540.9,67.3 540.9,66.8 540.9,66.0 540.9,65.8 540.9,64.9 540.9,64.1 540.9,64.0 540.9,62.7 541.0,62.6 541.0,61.5 541.0,61.3 541.0,60.5 541.0,60.0 541.2,59.8 541.4,58.2 541.6,58.2 541.8,57.5 541.8,56.8 541.8,56.6 541.9,56.0 541.9,55.1 541.9,54.2 541.9,53.6 541.9,53.0 542.0,52.5 542.0,51.7 542.0,51.1 542.0,50.9 542.1,50.2 542.1,49.3 542.1,49.3 542.1,48.0 542.1,47.7 542.2,46.7 542.2,46.7 542.2,45.8 542.2,45.5 542.3,44.3 542.3,44.1 542.4,43.6 542.4,42.4 542.4,41.8 542.5,41.4 542.5,41.1 542.6,39.8 542.6,39.6 542.6,38.9 542.7,38.2 542.7,37.6 542.8,37.3 542.8,36.3 542.8,36.7 542.9,37.8 542.9,38.0 542.9,39.0 542.9,39.6 543.0,39.6 543.0,40.8 543.0,41.6 543.0,41.6 543.1,41.9 543.1,42.6 543.1,44.0 543.1,43.7 543.2,45.1 543.2,45.0 543.2,46.2 543.2,46.2 543.3,46.9 543.3,47.9 543.3,48.0 543.3,48.8 543.4,49.9 543.4,50.4 543.4,51.1 543.4,51.8 543.5,51.6 543.5,52.4 543.5,53.4 543.5,54.0 543.6,54.0 543.6,55.0 543.6,55.6 543.6,56.0 543.7,56.7 543.7,57.1 543.7,57.6 543.7,59.0 543.8,59.0 543.8,60.1 543.8,60.1 543.8,61.0 543.9,61.3 543.9,62.1 543.9,62.5 543.9,63.6 544.0,63.7 544.0,64.8 544.0,65.2 544.0,65.5 544.1,66.3 544.1,67.0 544.1,68.0 544.1,68.1 544.2,68.6 544.2,69.8 544.2,70.0 544.2,70.9 544.2,71.4 544.3,71.6 544.3,72.1 544.3,72.8 544.3,73.3 544.3,73.8 544.3,74.8 544.4,75.4 544.4,76.1 544.4,76.5 544.4,76.8 544.4,78.0 544.4,78.6 544.5,79.1 544.5,79.7 544.5,80.4 544.5,81.3 544.5,81.8 544.5,82.3 544.6,82.6 544.6,83.1 544.6,83.8 544.6,84.9 544.6,85.0 544.6,85.6 544.7,86.2 544.7,86.6 544.7,87.9 544.7,87.7 544.7,88.8 544.8,89.7 544.8,89.7 544.8,90.6 544.8,91.0 544.8,91.5 544.8,92.1 544.9,92.6 544.9,93.8 544.9,94.4 544.9,95.1 544.9,95.0 544.9,96.1 545.0,96.4 545.0,97.3 545.0,97.8 545.0,98.2 545.0,99.4 545.0,99.1 545.1,100.4 545.1,101.1 545.1,101.4 545.1,102.1 545.1,103.0 545.1,103.0 545.2,103.9 545.2,104.6 545.2,105.0 545.2,104.3 545.2,104.0 545.2,103.1 545.2,102.6 545.2,102.1 545.2,101.5 545.2,100.6 545.3,100.3 545.3,99.6 545.3,98.7 545.3,98.5 545.3,97.6 545.3,97.5 545.3,96.5 545.3,96.1 545.3,95.4 545.3,94.7 545.3,93.9 545.3,93.2 545.3,93.3 545.3,92.4 545.4,91.7 545.4,91.1 545.4,90.8 545.4,89.7 545.4,89.0 545.4,89.0 545.4,88.1 545.4,87.6 545.4,87.2 545.4,86.6 545.4,86.0 545.4,84.7 545.4,84.4 545.4,84.2 545.4,83.5 545.5,82.4 545.5,81.8 545.5,81.3 545.5,80.5 545.5,80.1 545.5,79.9 545.5,79.1 545.5,78.4 545.5,77.5 545.5,77.2 545.5,77.0 545.5,76.2 545.5,75.4 545.5,74.8 545.6,74.5 545.6,73.8 545.6,72.7 545.6,72.6 545.6,71.7 545.6,71.2 545.6,70.4 545.6,70.0 545.6,69.3 545.6,68.7 545.6,68.1 545.6,67.2 545.6,66.7 545.6,66.4 545.6,65.4 545.6,64.9 545.6,64.7 545.6,63.7 545.6,63.2 545.6,62.5 545.6,62.4 545.7,61.2 545.7,61.0 545.7,60.6 545.7,59.4 545.7,59.0 545.7,58.7 545.7,57.9 545.7,57.1 545.7,56.3 545.7,56.0 545.7,55.3 545.7,55.0 545.7,54.0 545.7,53.5 545.7,53.1 545.7,52.6 545.7,51.7 545.7,51.1 545.7,50.6 545.7,50.3 545.7,49.1 545.7,49.1 545.7,48.3 545.7,47.4 545.7,47.1 545.7,46.2 545.7,45.4 545.8,45.3 545.8,44.4 545.8,43.9 545.8,43.3 545.8,43.0 545.8,42.3 545.8,41.1 545.8,40.9 545.8,40.2 545.8,39.6 545.8,39.3 545.8,38.3 545.8,37.8 545.8,37.2 545.8,38.2 545.9,38.4 545.9,39.1 545.9,39.7 545.9,40.6 546.0,41.1 546.0,41.8 546.0,42.2 546.0,42.5 546.1,43.7 546.1,44.2 546.1,45.0 546.1,45.7 546.2,45.7 546.2,46.7 546.2,47.1 546.2,47.6 546.2,48.8 546.2,48.8 546.3,49.4 546.3,50.6 546.3,51.0 546.3,51.2 546.3,52.3 546.3,53.0 546.3,53.4 546.3,53.7 546.3,54.8 546.3,55.2 546.4,55.9 546.4,56.9 546.4,57.3 546.4,58.0 546.4,58.3 546.4,58.6 546.4,59.4 546.4,60.2 546.4,60.4 546.4,61.8 546.4,61.9 546.4,62.5 546.4,63.1 546.4,63.7 546.4,64.8 546.5,65.2 546.5,65.8 546.5,66.3 546.5,66.7 546.5,67.5 546.5,68.6 546.5,69.1 546.5,69.8 546.5,69.9 546.5,70.5 546.5,71.0 546.5,72.0 546.5,72.6 546.5,73.1 546.5,73.8 546.5,74.4 546.5,75.1 546.5,75.5 546.5,76.4 546.5,76.6 546.5,77.7 546.5,78.0 546.5,78.2 546.5,79.1 546.5,79.8 546.5,80.3 546.5,81.1 546.5,81.5 546.5,82.0 546.5,83.0 546.5,83.2 546.5,84.2 546.5,84.8 546.5,85.3 546.5,85.8 546.5,86.8 546.5,87.0 546.5,87.9 546.5,87.8 546.5,88.7 546.5,89.5 546.5,89.6 546.5,90.9 546.5,90.9 546.5,91.9 546.5,92.1 546.5,93.3 546.5,93.6 546.5,94.4 546.5,94.8 546.5,95.5 546.5,96.1 546.5,96.4 546.5,97.0 546.5,98.1 546.5,98.1 546.5,99.3 546.5,99.4 546.5,99.9 546.5,100.5 546.5,101.6 546.5,102.4 546.5,102.5 546.5,103.3 546.5,103.6 546.5,104.7 546.5,105.1 546.5,105.3 546.5,105.8 546.5,107.0 546.5,107.0 546.5,108.3 546.5,108.4 546.5,109.0 546.5,109.9 546.5,110.3 546.5,111.0 546.5,111.3 546.5,112.5 546.5,112.7 546.5,113.7 546.5,113.7 546.5,114.8 546.5,115.6 546.5,115.7 546.5,116.0 546.5,117.0 546.5,117.5 546.5,118.3 546.5,118.6 546.5,119.5 546.5,119.7 546.5,120.6 546.5,121.4 546.5,121.8 546.5,122.6 546.5,122.8 546.5,123.9 546.5,124.0 546.5,125.2 546.5,125.9 546.5,126.4 546.5,126.7 546.5,127.1 546.5,127.8 546.5,128.7 546.5,129.1 546.5,130.1 546.5,130.0 546.5,130.9 546.5,131.8 546.5,132.2 546.5,132.8 546.5,133.0 546.5,133.7 546.5,134.4 546.5,135.5 546.5,136.1 546.5,136.2 546.4,137.3 546.4,137.2 546.4,138.3 546.4,139.2 546.4,139.3 546.4,140.4 546.4,140.8 546.4,140.9 546.4,141.7 546.4,142.4 546.4,142.9 546.4,143.9 546.4,144.0 546.4,145.1 546.4,145.3 546.4,145.8 546.4,146.8 546.4,147.0 546.4,148.0 546.4,148.8 546.4,149.2 546.4,149.7 546.4,150.0 546.4,151.0 546.4,151.2 546.4,152.3 546.4,152.5 546.4,153.4 546.4,153.9 546.4,154.5 546.4,155.3 546.4,155.8 546.4,154.9 546.5,154.3 546.5,154.4 546.6,153.2 546.6,153.0 546.6,152.5 546.7,151.5 546.7,150.6 546.8,149.9 546.8,150.0 546.8,148.7 546.9,148.4 546.9,147.9 546.9,146.9 547.0,146.6 547.0,145.7 547.1,145.4 547.1,144.8 547.1,144.0 547.2,143.3 547.2,142.8 547.3,142.0 547.3,141.7 548.3,141.7 548.4,142.0 548.4,142.7 548.5,143.9 548.5,144.2 548.6,145.2 548.7,145.0 548.7,146.5 548.8,146.7 549.1,147.3 549.4,148.4 549.7,148.7 550.0,149.2 550.1,150.0 550.1,150.2 550.2,151.3 550.3,151.4 550.3,152.1 550.4,152.5 550.5,153.5 550.5,154.2 550.6,154.6 550.7,155.8 550.7,155.7 550.8,156.7 550.9,157.4 551.0,157.7 551.1,158.7 551.2,159.5 551.2,160.1 551.3,160.0 551.4,160.9 551.5,161.8 551.6,162.9 551.7,163.0 551.7,163.3 551.7,164.4 551.7,165.1 551.8,165.8 551.8,166.1 551.8,167.1 551.8,167.5 551.9,166.9 551.9,166.7 552.0,165.2 552.0,165.5 552.1,164.4 552.2,163.8 552.2,162.9 552.3,162.5 552.3,162.3 552.4,161.7 552.5,160.6 552.5,160.2 552.6,159.4 552.7,158.8 552.7,158.2 552.8,157.7 552.8,157.8 552.9,156.7 553.0,156.5 553.0,155.7 553.1,154.8 553.1,154.2 553.2,153.8 553.2,153.3 553.3,152.6 553.3,151.8 553.4,150.8 553.5,150.6 553.5,150.1 553.6,149.5 553.6,148.2 553.7,148.2 553.7,147.2 553.8,146.7 553.8,145.8 553.9,145.9 553.9,145.0 554.0,144.5 554.0,143.3 554.1,143.4 554.1,142.9 554.2,142.2 554.2,141.5 554.2,140.9 554.3,140.3 554.3,139.5 554.4,138.8 554.4,138.5 554.5,137.9 554.5,137.4 554.6,136.2 554.6,135.8 554.6,135.6 554.7,134.6 554.7,134.3 554.8,133.0 554.8,133.1 554.8,132.3 554.9,131.2 554.9,131.1 555.0,129.9 555.0,129.3 555.0,128.9 555.1,128.1 555.1,127.7 555.2,127.4 555.2,126.6 555.2,126.0 555.3,125.1 555.3,124.8 555.4,124.2 555.4,123.3 555.4,122.8 555.4,122.4 555.5,121.7 555.5,120.7 555.5,119.8 555.5,119.6 555.6,119.1 555.6,118.1 555.6,117.6 555.6,117.2 555.7,116.5 555.7,115.2 555.7,115.0 555.7,114.4 555.7,113.3 555.7,112.8 555.7,112.7 555.7,111.7 555.7,111.3 555.6,110.5 555.6,109.8 555.6,109.0 555.6,108.5 555.6,108.3 555.6,107.4 555.6,106.7 555.7,105.9 555.8,105.0 555.9,104.6 556.0,104.4 556.1,103.5 556.2,103.1 556.2,102.6 556.3,101.3 556.4,101.3 556.5,100.0 556.6,100.2 556.7,99.2 556.8,99.5 556.8,100.2 556.9,101.5 557.0,101.6 557.0,102.1 557.1,103.3 557.2,103.7 557.2,104.6 557.3,104.7 557.4,105.4 557.4,106.5 557.5,106.7 557.5,107.3 557.5,108.3 557.6,108.2 557.6,109.4 557.6,109.4 557.6,110.4 557.7,110.5 557.7,111.3 557.7,112.5 557.7,112.7 557.8,113.6 557.8,113.8 557.8,114.4 557.8,114.8 557.9,115.8 557.9,116.7 557.9,117.0 558.0,117.6 558.1,118.1 558.1,119.2 558.2,119.8 558.3,120.0 558.3,120.8 558.4,120.9 558.4,122.0 558.4,122.5 558.5,123.5 558.5,123.6 558.5,124.5 558.5,125.1 558.6,125.5 558.6,126.3 558.6,127.0 558.7,127.9 558.7,128.1 558.7,128.6 558.8,129.8 558.8,130.0 559.1,129.9 559.3,131.6 559.6,131.7 559.6,132.5 559.7,133.0 559.7,133.6 559.7,134.5 559.8,135.2 559.8,135.7 559.8,136.4 559.8,136.4 559.9,137.3 559.9,137.8 559.9,139.1 560.0,139.7 560.0,140.0 560.2,140.2 560.4,141.4 560.6,142.0 560.8,142.5 560.8,142.7 560.8,143.7 560.8,144.6 560.8,145.1 560.9,145.4 560.9,146.5 560.9,146.7 560.9,147.5 560.9,148.1 560.9,149.1 560.9,149.5 561.0,150.3 561.0,150.8 561.0,151.2 561.0,152.3 561.0,152.5 561.1,153.4 561.2,154.0 561.4,154.2 561.5,154.7 561.6,155.8 561.7,156.7 561.9,157.3 562.0,157.5 562.1,158.3 562.1,158.6 562.1,159.5 562.2,160.4 562.2,160.4 562.2,161.5 562.2,161.7 562.2,162.4 562.2,162.8 562.3,163.6 562.3,164.3 562.3,165.0 562.3,166.0 562.3,166.6 562.4,166.6 562.4,167.3 562.4,168.5 562.4,168.4 562.4,169.2 562.5,169.9 562.5,170.2 562.5,171.0 562.5,171.7 562.6,172.3 562.6,173.4 562.6,173.4 562.6,174.0 562.6,175.2 562.7,175.4 562.7,176.4 562.7,176.7 562.7,177.5 562.8,178.2 562.8,178.4 562.9,178.9 562.9,180.1 563.0,180.5 563.0,181.2 563.1,182.0 563.1,182.7 563.2,182.9 563.2,183.6 563.3,184.7 563.3,185.0 563.4,185.7 563.4,186.1 563.5,187.1 563.5,187.4 563.6,188.5 563.6,188.4 563.7,189.8 563.7,190.2 563.8,190.8 563.9,191.3 564.1,192.6 564.2,192.4 564.4,193.0 564.5,193.4 564.7,194.6 564.9,195.5 565.0,195.8 565.0,196.5 565.0,196.9 565.0,197.9 565.0,197.9 565.0,198.6 565.0,199.5 565.0,200.4 565.0,200.7 565.1,201.4 565.1,202.0 565.1,202.3 565.1,203.4 565.1,203.8 565.1,204.1 565.1,204.7 565.1,205.7 565.1,206.0 565.1,206.5 565.1,206.9 565.1,208.1 565.1,208.4 565.1,209.0 565.1,209.8 565.2,210.6 565.2,210.5 565.2,211.3 565.2,211.7 565.2,212.6 565.2,213.2 565.2,214.1 565.2,214.6 565.2,215.1 565.2,215.6 565.2,216.3 565.2,216.7 565.3,217.7 565.3,218.3 565.3,218.9 565.3,219.0 565.3,220.0 565.3,220.7 565.3,221.1 565.3,222.0 565.3,222.6 565.3,223.1 565.3,223.7 565.3,224.2 565.4,225.0 565.4,225.0 565.4,226.1 565.4,226.7 565.4,227.2 565.4,227.5 565.4,228.3 565.5,228.5 565.6,229.6 565.6,230.4 565.7,230.5 565.8,231.0 565.9,231.6 566.0,232.1 566.0,233.3 566.1,234.2 566.2,234.6 566.3,234.8 566.3,235.7 566.4,235.7 566.5,236.7 566.5,237.6 566.5,237.8 566.5,238.2 566.5,239.3 566.5,239.5 566.6,240.3 566.6,240.7 566.6,241.6 566.6,242.3 566.6,243.2 566.6,243.2 566.6,244.4 566.6,244.5 566.6,245.2 566.6,246.1 566.6,246.5 566.7,247.1 566.7,248.0 566.7,248.3 566.7,249.4 566.7,249.5 566.7,250.4 566.7,250.1 566.8,249.5 566.8,248.6 566.9,247.6 566.9,247.6 566.9,246.3 567.0,246.2 567.0,245.5 567.1,244.6 567.1,244.5 567.1,243.9 567.2,243.2 567.2,242.4 567.3,241.9 567.3,241.4 567.3,240.5 567.4,240.4 567.4,240.0 567.5,239.2 567.5,238.3 567.5,239.3 567.5,239.4 567.6,240.5 567.6,240.3 567.6,241.3 567.6,241.6 567.7,242.5 567.7,243.3 567.7,243.9 567.7,244.3 567.8,244.8 567.8,245.3 567.8,246.1 567.8,246.6 567.9,247.1 567.9,248.2 567.9,248.6 567.9,249.1 568.0,249.5 568.0,250.6 568.0,251.0 568.1,251.3 568.1,252.0 568.2,252.9 568.3,253.6 568.3,254.5 568.4,254.9 568.5,255.7 568.6,256.3 568.6,256.7 568.7,257.3 568.8,257.3 568.8,258.0 568.9,258.9 569.0,259.0 569.0,260.5 569.1,261.0 569.2,261.5 569.2,261.8 569.3,262.5 569.4,262.9 569.4,264.0 569.5,265.0 569.6,264.9 569.6,265.3 569.7,266.0 569.8,266.8 569.9,268.0 569.9,268.5 570.0,268.8 570.1,269.1 570.1,269.7 570.2,270.3 570.3,271.6 570.3,271.9 570.4,273.0 570.5,273.6 570.5,274.1 570.6,274.4 570.6,275.0 570.7,275.9 570.8,275.9 570.8,276.5 570.9,277.5 570.9,278.1 571.0,278.4 571.0,279.0 571.1,279.4 571.1,280.9 571.2,281.3 571.2,282.1 571.2,282.8 571.3,282.9 571.4,283.8 571.4,284.0 571.5,285.0 571.5,285.7 571.6,285.6 571.6,286.1 571.7,286.9 571.7,287.8 571.7,288.5 571.8,288.9 571.8,289.2 571.8,290.6 571.9,291.2 571.9,291.5 571.9,291.8 572.0,293.2 572.0,293.5 572.0,293.7 572.1,294.5 572.1,295.4 572.1,296.3 572.2,296.6 572.2,297.2 572.3,296.7 572.4,295.7 572.5,295.1 572.6,295.2 572.7,294.0 572.8,293.1 572.9,293.0 573.0,291.9 573.1,291.3 573.2,291.0 573.3,290.5 573.4,289.9 573.5,289.4 573.6,288.5 573.7,287.5 573.8,287.6 573.9,286.7 574.0,285.6 574.1,285.5 574.1,284.8 574.2,284.4 574.3,283.9 574.4,282.8 574.5,282.6 574.6,282.0 574.6,281.2 574.7,280.2 574.8,280.0 574.8,281.0 574.9,281.3 574.9,281.4 575.0,282.2 575.0,283.5 575.0,283.4 575.1,284.2 575.1,285.1 575.2,285.8 575.2,286.2 575.2,286.9 575.3,286.9 575.3,287.6 575.4,289.0 575.4,289.4 575.4,289.3 575.5,290.0 575.5,290.7 575.6,292.0 575.6,292.2 575.7,291.3 575.8,291.2 576.0,290.9 576.1,290.0 576.2,289.7 576.3,288.3 576.5,287.6 576.6,286.9 576.7,287.1 576.8,285.8 577.0,286.1 577.1,285.2 577.2,284.4 577.2,284.8 577.3,285.9 577.3,286.0 577.4,287.0 577.4,287.2 577.5,288.5 577.5,289.2 577.5,289.9 577.6,289.7 577.6,291.1 577.7,291.4 577.7,292.3 577.8,292.7 577.8,293.3 577.9,294.0 578.0,294.6 578.1,295.4 578.1,295.3 578.2,295.8 578.3,296.9 578.4,297.3 578.5,298.0 578.6,298.2 578.6,299.5 578.7,299.4 578.8,300.8 578.9,301.1 578.9,302.0 579.0,302.3 579.0,302.6 579.0,303.7 579.1,303.9 579.1,304.7 579.2,305.1 579.2,306.5 579.2,306.7 579.3,307.2 579.3,307.5 579.4,308.7 579.4,309.5 579.4,310.1 579.5,310.0 579.5,311.0 579.6,311.5 579.7,312.1 579.7,313.1 579.8,313.2 579.9,314.2 580.0,315.2 580.0,315.7 580.1,315.5 580.2,316.2 580.3,316.9 580.4,318.1 580.4,318.6 580.5,319.2 580.6,319.7 580.7,320.3 580.8,321.1 580.8,321.7 580.9,322.4 580.9,323.3 581.0,323.7 581.0,324.4 581.1,325.1 581.1,325.6 581.1,326.1 581.2,326.1 581.2,327.3 581.3,328.1 581.3,328.3 581.4,329.3 581.4,329.3 581.5,330.6 581.5,330.7 581.6,331.6 581.6,331.8 581.6,332.4 581.7,333.1 581.7,333.7 581.8,334.1 581.8,335.0 581.9,336.1 581.9,336.4 582.0,337.3 582.0,337.5 582.1,337.1 582.1,336.6 582.2,336.1 582.3,335.3 582.3,334.2 582.4,333.6 582.4,333.2 582.5,332.2 582.6,331.8 582.6,331.8 582.7,331.2 582.8,330.0 582.8,329.8 582.9,329.2 583.0,328.7 583.0,328.0 583.1,327.2 583.2,326.2 583.2,326.2 583.3,325.1 583.3,324.8 583.4,324.0 583.5,323.5 583.5,323.3 583.6,321.9 583.7,321.7 584.4,322.0 585.1,322.6 585.8,322.5 585.9,323.2 586.0,324.2 586.1,324.2 586.2,325.4 586.3,325.8 586.4,326.7 586.4,326.4 586.5,327.1 586.6,327.8 586.7,329.1 586.8,328.8 586.9,329.6 587.0,330.7 587.1,331.6 587.1,331.4 587.2,332.3 587.3,333.1 587.4,333.7 587.5,334.2 587.6,335.0 587.6,335.6 587.7,335.7 587.7,336.3 587.8,336.7 587.8,337.9 587.9,338.1 587.9,338.7 588.0,340.0 588.0,340.3 588.1,340.9 588.1,341.5 588.2,342.1 588.2,342.7 588.3,343.0 588.4,343.4 588.4,344.0 588.5,344.5 588.5,345.4 588.6,345.8 588.6,346.4 588.7,347.4 588.7,348.4 588.8,348.7 588.8,349.2 589.0,349.5 589.1,350.7 589.2,350.6 589.3,351.1 589.4,351.9 589.5,352.6 589.7,353.3 589.8,352.9 589.9,352.1 590.0,351.8 590.1,350.5 590.2,350.8 590.3,349.5 590.4,349.4 590.5,348.0 590.6,348.2 590.7,347.0 590.8,346.7 591.0,347.7 591.1,348.3 591.2,348.7 591.4,348.9 591.5,349.2 591.7,350.1 591.8,351.5 591.9,351.3 592.1,352.5 592.2,353.0 592.4,353.7 592.5,354.2 592.6,354.4 592.8,355.0 592.9,355.6 593.0,357.2 593.2,357.1 593.3,358.0 593.4,358.5 593.6,358.8 593.7,359.2 593.8,359.8 593.9,361.3 594.1,361.1 594.2,362.7 594.3,362.6 594.5,363.6 594.6,363.6 594.7,364.9 594.9,364.9 595.0,365.8 595.1,365.0 595.2,364.6 595.3,363.5 595.4,363.0 595.5,362.9 595.6,361.7 595.6,361.2 595.7,360.9 595.8,360.0 596.3,359.8 596.8,360.0 597.3,360.4 597.8,361.1 598.3,361.7 598.8,361.0 599.3,361.1 599.8,360.4 600.3,360.0 600.4,361.0 600.5,360.7 600.6,362.0 600.7,362.7 600.8,362.7 601.0,363.1 601.1,364.1 601.2,364.4 601.3,365.3 601.4,366.2 601.5,366.1 601.6,366.7 601.7,367.7 601.8,368.0 601.9,368.6 602.0,369.5 602.1,369.7 602.2,370.3 602.3,371.2 602.4,371.9 602.5,372.5 602.6,373.6 602.7,373.8 602.9,373.8 603.0,374.6 603.1,375.7 603.2,376.1 603.3,377.1 603.5,377.8 603.6,378.3 603.7,378.0 603.8,379.5 603.9,379.7 604.0,380.0 604.2,380.5 604.3,381.8 604.4,381.7 604.5,382.2 604.6,383.0 604.8,384.3 604.9,384.4 605.0,385.0 605.2,385.9 605.3,385.7 605.5,386.8 605.7,387.3 605.8,387.8 606.0,388.9 606.2,389.2 606.3,390.0 606.4,390.2 606.5,391.7 606.6,391.8 606.6,392.1 606.7,392.6 606.8,393.8 606.9,394.3 607.0,394.4 607.0,395.5 607.1,396.4 607.2,396.8 607.3,397.1 607.3,397.9 607.4,398.7 607.5,399.2 607.7,398.8 607.9,397.5 608.1,397.7 608.3,397.3 608.5,396.4 608.7,396.0 608.9,394.8 609.1,394.8 609.3,393.3 609.5,392.8 609.7,392.5 609.8,392.0 610.0,391.7 610.2,390.1 610.3,389.7 610.5,388.8 610.7,388.7 610.8,387.7 611.0,387.1 611.2,387.2 611.3,386.3 611.5,386.1 611.7,385.0 611.8,384.3 611.9,383.9 612.0,382.6 612.1,383.0 612.2,381.6 612.3,381.2 612.4,380.6 612.6,380.5 612.7,379.4 612.8,379.3 612.9,378.3 613.0,377.5 613.1,377.8 613.2,379.0 613.2,379.0 613.3,380.4 613.4,380.4 613.5,380.8 613.6,382.1 613.7,382.1 613.8,382.8 613.8,383.3 613.9,384.2 614.0,384.2 614.1,385.1 614.2,385.8 614.8,384.7 615.3,385.0 615.4,385.9 615.5,385.7 615.6,386.9 615.7,387.2 615.8,388.0 615.9,388.7 616.0,389.5 616.0,389.5 616.1,390.2 616.2,390.7 616.3,392.2 616.4,392.0 616.5,392.6 616.6,393.6 616.7,394.2 616.9,394.9 617.1,395.9 617.4,395.3 617.6,396.2 617.9,396.7 618.1,397.9 618.3,398.3 618.5,398.9 618.8,399.5 619.0,400.7 619.2,401.0 619.4,401.9 619.6,402.7 619.8,402.4 620.0,403.3 620.3,404.6 620.6,404.4 620.9,404.5 621.1,406.3 621.4,405.7 621.7,406.2 622.0,407.5 622.4,407.6 622.8,408.1 623.1,409.7 623.5,410.0 623.9,409.7 624.3,410.4 624.7,410.8 624.8,410.6 624.9,409.9 625.1,409.1 625.2,408.3 625.3,407.2 625.4,406.7 625.6,406.5 625.7,405.7 625.8,405.0 625.9,404.7 625.9,404.1 625.9,403.6 625.9,402.3 626.0,401.6 626.0,401.7 626.0,400.8 626.1,399.9 626.1,399.7 626.1,398.8 626.1,398.1 626.2,397.6 626.2,397.2 626.2,396.7 626.3,395.6 626.3,395.6 626.3,394.9 626.4,394.1 626.4,393.7 626.4,393.2 626.4,391.9 626.5,391.7 626.5,391.3 626.5,390.7 626.6,390.0 626.6,389.0 626.6,389.1 626.6,388.4 626.7,387.5 626.9,387.8 627.2,388.7 627.5,390.1 627.7,389.8 628.0,390.8 628.0,390.1 628.1,390.0 628.1,389.3 628.1,388.1 628.1,388.0 628.2,387.0 628.2,386.7 628.2,386.1 628.3,385.0 628.3,384.4 628.3,383.8 628.3,383.2 628.4,382.4 628.4,381.9 628.4,381.5 628.5,380.9 628.5,380.0 628.5,379.8 628.6,379.5 628.6,378.6 628.6,377.8 628.6,377.5 628.7,376.7 628.7,376.0 628.8,375.1 628.9,374.7 629.0,373.6 629.1,373.6 629.1,372.5 629.2,372.1 629.3,372.0 629.4,371.2 629.4,370.6 629.5,369.8 629.6,369.1 629.7,368.3 629.8,369.2 629.9,370.1 630.1,369.9 630.2,371.2 630.3,371.4 630.4,372.0 630.6,373.2 630.7,373.6 630.8,374.2 630.9,373.9 631.0,373.4 631.2,372.4 631.3,371.4 631.4,370.6 631.5,370.6 631.6,370.2 631.7,369.1 631.8,368.3 631.9,367.6 632.0,367.5 632.2,367.7 632.4,368.9 632.6,368.7 632.8,369.5 633.0,370.2 633.1,371.3 633.3,371.7 633.4,372.8 633.5,372.5 633.5,373.2 633.6,374.6 633.7,375.3 633.7,375.2 633.8,376.0 633.8,376.8 633.9,377.3 634.0,378.0 634.0,378.7 634.1,379.1 634.2,380.0 634.2,378.9 634.3,378.3 634.4,377.8 634.5,377.1 634.5,377.0 634.6,376.4 634.7,375.4 634.8,375.3 634.8,374.6 634.9,373.6 635.0,373.1 635.0,372.2 635.1,372.3 635.2,371.3 635.3,370.2 635.3,370.0 635.8,370.0 636.2,371.4 636.7,371.7 636.7,372.2 636.8,373.1 636.9,373.3 636.9,374.5 637.0,375.1 637.1,375.0 637.2,376.1 637.2,376.4 637.3,377.5 637.4,378.2 637.4,378.8 637.5,379.2 637.8,379.2 638.2,379.5 638.5,380.9 638.8,381.3 639.2,381.7 639.2,381.9 639.3,382.6 639.4,383.6 639.5,383.7 639.5,384.8 639.6,385.0 639.7,385.7 639.8,386.4 639.8,387.2 639.9,387.9 640.0,388.3 640.6,387.1 641.1,388.3 641.7,387.5 641.7,386.6 641.8,386.0 641.9,385.8 642.0,385.2 642.0,384.5 642.1,384.1 642.2,382.8 642.2,382.3 642.3,382.0 642.4,381.0 642.5,380.3 642.5,379.7 642.6,379.6 642.7,379.1 642.8,378.3 642.8,377.5 643.3,377.7 643.7,376.9 644.2,375.8 644.5,374.9 644.8,374.3 645.2,374.3 645.5,373.3 645.6,373.5 645.7,374.7 645.8,374.7 645.9,375.3 646.0,376.4 646.1,376.6 646.2,378.0 646.3,378.6 646.5,378.7 646.6,379.1 646.7,380.0 646.8,380.2 646.9,381.3 647.0,381.9 647.1,382.4 647.2,383.4 647.3,383.8 647.4,384.7 647.5,384.6 647.6,385.2 647.7,386.1 647.8,386.9 647.9,387.2 648.0,388.3 648.1,388.5 648.2,389.2 648.3,390.0 648.9,389.4 649.4,389.3 650.0,388.3 650.2,389.3 650.5,389.3 650.7,390.0 651.0,391.3 651.2,391.9 651.4,392.1 651.7,392.5 651.9,392.6 652.1,393.6 652.3,394.4 652.5,394.5 652.7,394.8 652.9,396.6 653.1,397.1 653.3,396.7 653.5,397.7 653.7,398.3 653.9,399.1 654.1,399.3 654.3,399.7 654.5,401.2 654.7,401.8 654.9,402.0 655.1,402.2 655.3,403.3 655.8,402.6 656.2,401.5 656.7,401.7 656.9,402.9 657.1,402.3 657.3,403.2 657.6,404.5 657.8,404.2 658.0,405.3 658.1,404.3 658.3,403.7 658.4,403.2 658.5,403.0 658.6,402.7 658.8,401.4 658.9,400.8 659.0,400.9 659.2,400.0 659.3,399.3 659.4,398.6 659.5,397.7 659.6,397.2 659.7,397.4 659.8,395.8 659.9,395.4 660.1,395.3 660.2,394.8 660.3,394.2 660.4,393.1 660.5,392.5 660.6,393.6 660.7,393.8 660.7,394.1 660.8,394.9 660.9,395.8 661.0,396.4 661.0,396.4 661.1,397.1 661.2,398.5 661.3,398.2 661.4,399.5 661.4,399.7 661.5,400.2 661.6,400.8 661.7,401.7 661.8,402.3 661.8,403.4 661.9,403.2 662.0,404.5 662.1,404.6 662.2,405.1 662.2,406.3 662.3,406.5 662.4,407.0 662.5,407.8 662.6,408.9 662.7,409.5 662.8,409.9 662.8,409.9 662.9,411.3 663.0,411.7 663.4,411.3 663.8,411.2 664.2,410.0 664.7,411.4 665.3,410.8 665.8,411.7 666.0,412.7 666.2,413.3 666.5,413.2 666.7,414.0 666.9,414.6 667.1,415.2 667.3,415.9 667.5,416.7 667.7,416.7 668.0,417.5 668.2,419.0 668.5,418.9 668.7,419.8 668.9,420.8 669.2,420.8 669.7,421.9 670.3,421.5 670.8,422.5 670.9,423.6 671.0,424.0 671.2,424.8 671.3,425.2 671.4,425.8 671.5,426.5 671.6,426.5 671.7,427.5 671.8,427.8 671.9,428.9 672.0,429.2 672.2,429.3 672.5,430.5 672.8,430.8 673.0,431.7 673.3,431.6 673.7,430.3 674.0,430.5 674.3,430.0 674.7,429.5 675.0,428.3 675.3,427.2 675.7,428.0 676.0,427.2 676.3,426.6 676.7,425.8 676.8,425.4 676.9,424.2 677.0,424.4 677.0,423.5 677.1,422.8 677.2,422.1 677.3,422.0 677.4,421.4 677.5,420.9 677.6,419.6 677.7,419.1 677.8,418.4 677.9,417.7 678.0,417.5 678.2,417.9 678.3,418.2 678.5,419.7 678.6,419.6 678.8,420.0 678.9,420.6 679.1,422.0 679.2,422.0 679.4,422.9 679.5,423.4 679.7,424.2 679.9,425.2 680.2,426.0 680.4,425.7 680.7,426.8 681.0,427.8 681.2,427.8 681.5,429.0 681.7,429.4 682.0,429.7 682.4,428.8 682.7,429.3 683.1,428.3 683.4,427.0 683.8,427.3 684.2,426.7 684.6,426.8 685.0,425.7 685.5,425.1 685.9,424.5 686.3,424.2 686.9,424.8 687.5,424.1 688.1,422.9 688.7,423.3 688.9,422.6 689.1,421.9 689.3,422.1 689.5,421.2 689.7,419.8 689.8,420.2 690.0,418.5 690.2,418.6 690.4,417.8 690.6,417.5 690.8,416.7 691.0,416.0 691.1,415.0 691.3,414.9 691.4,414.6 691.6,414.0 691.7,412.9 691.9,412.1 692.0,412.1 692.2,411.6 692.3,410.3 692.5,410.0 692.7,409.9 692.9,409.4 693.1,408.1 693.3,407.4 693.5,407.2 693.7,406.9 693.9,405.4 694.1,404.9 694.3,404.3 694.5,404.2 694.7,403.3 694.8,403.6 694.9,404.6 695.0,405.2 695.1,406.0 695.2,406.0 695.3,407.5 695.4,408.1 695.6,408.3 695.7,409.1 695.8,409.1 695.9,410.5 696.0,410.7 696.1,411.6 696.2,412.3 696.3,412.5 696.5,411.7 696.6,411.7 696.8,410.3 696.9,409.5 697.1,409.4 697.2,409.2 697.4,408.6 697.5,407.5 697.7,408.7 697.9,408.8 698.1,409.9 698.3,410.1 698.5,410.2 698.8,411.4 699.0,412.3 699.2,412.5 700.0,413.3 700.1,412.6 700.1,412.2 700.2,411.3 700.2,410.7 700.3,410.2 700.4,409.7 700.4,409.0 700.5,408.0 700.6,407.3 700.6,407.0 700.7,406.8 700.7,406.2 700.8,405.1 700.9,404.5 700.9,404.1 701.0,403.2 701.0,403.0 701.1,402.7 701.2,401.7 701.2,400.8 701.2,400.5 701.2,400.0 701.2,399.4 701.2,398.8 701.2,398.2 701.3,397.2 701.3,397.0 701.3,396.5 701.3,395.2 701.3,395.3 701.3,394.3 701.3,393.3 701.4,392.7 701.4,392.7 701.4,392.0 701.4,390.9 701.4,390.6 701.4,390.1 701.4,389.8 701.4,388.6 701.5,388.4 701.5,387.3 701.5,386.7 701.5,386.0 701.5,385.6 701.5,385.2 701.5,384.3 701.5,383.6 701.6,383.0 701.6,382.3 701.6,381.8 701.6,381.2 701.6,380.8 701.6,379.9 701.6,379.5 701.7,378.9 701.7,378.3 701.7,378.2 701.7,377.1 701.8,376.9 701.8,375.9 701.9,375.0 701.9,374.8 701.9,373.8 702.0,373.2 702.0,372.5 702.0,372.5 702.1,372.1 702.1,371.0 702.2,370.3 702.2,369.8 702.2,369.1 702.3,368.8 702.3,367.9 702.3,367.1 702.4,367.1 702.4,366.3 702.5,365.2 702.5,365.0 702.9,366.1 703.3,366.5 703.7,366.7 703.8,365.9 704.0,365.6 704.2,365.3 704.3,364.0 704.5,363.5 704.7,362.7 704.8,362.4 705.0,361.7 705.4,362.5 705.9,363.2 706.3,363.3 706.4,363.2 706.5,361.7 706.7,361.4 706.8,361.3 706.9,360.6 707.0,359.8 707.1,359.3 707.2,358.3 707.3,358.4 707.4,357.3 707.5,356.7 707.6,355.9 707.7,355.0 707.8,354.3 707.8,354.4 707.9,353.3 708.3,353.3 708.8,351.4 709.2,351.7 709.2,350.9 709.3,350.4 709.3,349.8 709.4,349.0 709.4,348.9 709.5,347.8 709.6,347.3 709.6,347.1 709.7,346.2 709.7,345.4 709.8,344.6 709.8,344.2 710.0,343.4 710.2,343.1 710.5,342.7 710.7,341.7 710.7,340.9 710.7,340.4 710.7,339.8 710.7,339.1 710.8,339.0 710.8,338.1 710.8,337.3 710.8,336.7 710.8,336.5 710.9,335.4 710.9,335.2 710.9,334.0 710.9,333.6 710.9,332.9 710.9,332.9 711.0,331.7 711.0,331.2 711.0,330.8 711.0,329.8 711.0,329.4 711.1,329.2 711.1,328.5 711.1,328.1 711.1,327.5 711.2,326.5 711.2,326.2 711.2,324.9 711.2,325.0 711.3,323.9 711.3,323.1 711.3,322.9 711.4,322.4 711.4,321.4 711.4,320.5 711.4,320.5 711.5,319.8 711.5,319.0 711.5,318.3 711.5,319.4 711.6,319.2 711.6,319.8 711.7,320.5 711.7,321.0 711.8,322.3 711.8,322.8 711.8,323.0 711.9,323.7 711.9,324.3 712.0,325.3 712.0,326.0 712.0,326.9 712.1,327.0 712.1,328.1 712.2,328.3 712.2,328.9 712.2,329.4 712.3,330.0 712.3,330.8 712.4,331.9 712.4,332.5 712.4,332.9 712.5,333.0 712.5,333.7 712.5,334.3 712.5,335.1 712.6,336.0 712.6,336.1 712.6,337.1 712.7,337.9 712.7,337.9 712.7,338.9 712.7,339.8 712.8,340.3 712.8,340.8 712.8,341.8 712.9,342.2 712.9,342.6 712.9,343.3 713.0,343.8 713.1,345.0 713.2,345.5 713.3,346.1 713.4,346.4 713.5,346.5 713.5,347.2 713.6,348.0 713.7,348.9 713.8,348.8 713.9,350.2 714.0,350.8 714.1,351.1 714.2,351.7 714.2,351.8 714.3,353.1 714.3,353.4 714.4,354.2 714.4,354.7 714.4,355.5 714.5,355.8 714.5,356.9 714.6,357.1 714.6,358.1 714.6,358.7 714.6,359.1 714.6,359.4 714.6,360.1 714.6,360.6 714.6,361.8 714.6,362.3 714.7,362.9 714.7,363.3 714.7,364.2 714.7,365.0 714.8,365.3 714.8,365.6 714.8,366.6 714.9,366.8 714.9,367.7 714.9,367.9 715.0,369.2 715.0,369.5 715.1,369.9 715.1,371.1 715.1,370.9 715.2,372.3 715.2,372.8 715.2,372.8 715.3,374.0 715.3,374.5 715.3,375.0 715.4,374.8 715.4,373.9 715.5,373.1 715.5,372.9 715.6,371.5 715.6,371.6 715.7,370.3 715.8,369.9 715.8,369.1 715.9,369.2 715.9,368.2 716.0,367.8 716.0,366.8 716.1,366.6 716.1,365.9 716.2,364.8 716.2,364.6 716.3,364.2 716.3,363.3 716.6,362.3 716.8,362.4 717.0,361.2 717.3,360.8 717.5,360.9 717.8,360.4 718.0,359.2 718.2,359.1 718.5,357.7 718.8,357.1 718.8,356.5 718.8,356.1 718.9,355.4 718.9,354.5 718.9,354.2 719.0,353.1 719.0,353.0 719.1,351.9 719.1,350.9 719.1,350.9 719.2,350.0 719.2,349.1 719.3,349.0 719.3,347.8 719.4,348.0 719.4,347.0 719.4,346.6 719.5,345.4 719.5,345.3 719.6,344.6 719.9,344.9 720.2,345.2 720.5,346.6 720.8,346.7 720.9,346.8 721.0,347.9 721.1,348.1 721.1,349.4 721.2,350.1 721.3,349.8 721.4,350.9 721.4,351.5 721.5,352.3 721.6,353.0 721.7,353.3 721.8,353.8 722.0,355.2 722.2,355.0 722.3,355.6 722.5,356.7 722.8,356.5 723.0,354.9 723.2,354.4 723.5,354.2 723.8,353.3 724.0,352.9 724.1,353.1 724.3,354.6 724.4,354.7 724.6,355.6 724.7,355.6 724.9,357.0 725.0,357.1 725.0,357.6 725.0,358.9 725.0,359.4 725.0,360.0 725.4,361.4 725.9,361.6 726.3,361.7 726.4,362.4 726.5,363.0 726.6,363.9 726.7,364.1 726.8,364.4 726.9,365.8 727.0,366.4 727.1,366.9 727.2,367.5 727.3,367.6 727.4,368.5 727.5,369.2 728.2,370.3 728.8,370.0 728.9,371.1 729.0,371.7 729.1,371.5 729.2,372.7 729.3,373.2 729.4,373.7 729.5,374.0 729.6,374.6 729.7,375.6 729.8,376.2 729.9,376.6 730.0,377.5 730.7,377.6 731.3,378.3 731.5,379.0 731.6,379.9 731.8,380.3 731.9,380.4 732.1,381.8 732.2,381.8 732.4,383.1 732.5,383.7 732.7,383.4 732.8,384.5 733.0,385.0 733.3,386.3 733.6,386.0 733.9,386.9 734.1,387.1 734.4,387.3 734.7,388.1 735.0,389.2 735.4,388.0 735.8,387.8 736.2,387.9 736.6,387.3 737.0,386.7 737.1,387.7 737.2,388.1 737.2,388.5 737.3,389.7 737.4,390.0 737.5,390.6 737.5,391.5 737.6,392.0 737.7,392.3 737.8,393.2 737.8,393.5 737.9,394.8 738.0,395.0 738.2,395.3 738.5,396.9 738.7,396.4 738.9,397.0 739.2,398.3 739.4,397.8 739.6,396.7 739.9,396.6 740.1,395.4 740.4,395.8 740.6,395.0 740.8,394.2 741.0,393.8 741.1,393.4 741.2,392.9 741.4,391.9 741.5,391.4 741.6,389.9 741.8,389.4 741.9,389.2 742.0,389.2 742.2,387.8 742.3,387.5 742.4,386.3 742.6,386.1 742.7,386.1 742.8,385.0 743.1,385.7 743.4,386.6 743.6,386.1 743.9,387.0 744.1,387.5 744.4,389.0 744.7,389.2 745.0,389.1 745.3,391.0 745.7,390.5 746.0,392.0 746.3,392.0 746.7,392.5 746.8,391.7 747.0,391.8 747.2,390.5 747.3,390.2 747.5,388.9 747.7,389.1 747.8,388.7 748.0,387.5 748.1,386.5 748.1,386.5 748.2,385.5 748.3,384.8 748.3,384.4 748.4,384.0 748.5,383.7 748.5,383.2 748.6,382.6 748.6,381.6 748.7,381.0 748.8,380.0 748.8,379.9 748.9,379.1 749.0,378.3 749.0,378.3 749.1,377.0 749.2,376.7 749.5,375.5 749.8,374.9 750.2,374.3 750.5,374.2 750.6,373.6 750.6,373.2 750.7,372.0 750.7,371.7 750.8,371.2 750.8,370.5 750.9,369.8 750.9,369.3 751.0,368.2 751.0,367.6 751.1,367.3 751.1,366.5 751.2,366.4 751.2,365.3 751.3,365.2 751.3,364.1 751.4,363.3 751.4,363.1 751.5,362.4 751.5,361.7 751.6,361.5 751.6,360.4 751.7,360.0 751.8,360.8 751.9,361.5 752.0,361.7 752.0,362.4 752.1,363.4 752.2,363.7 752.3,363.8 752.4,364.3 752.5,364.9 752.6,365.8 752.7,366.1 752.8,367.3 752.9,367.7 753.0,368.3 753.2,368.7 753.3,369.5 753.5,370.6 753.7,370.4 753.8,370.9 754.0,371.7 754.2,372.5 754.3,372.9 754.5,374.2 754.7,374.5 754.8,374.7 755.0,375.0 755.2,375.4 755.3,376.1 755.5,377.6 755.7,377.9 755.8,378.3 756.6,377.5 757.3,378.6 758.0,378.3 758.7,377.3 759.3,378.3 760.0,378.3 760.1,378.8 760.2,379.1 760.4,380.4 760.5,381.0 760.6,381.4 760.7,381.6 760.8,382.8 761.0,383.1 761.1,384.0 761.2,383.9 761.3,385.0 761.5,386.1 761.8,385.6 762.0,386.5 762.2,387.4 762.4,387.7 762.6,388.2 762.8,389.6 763.0,390.0 763.3,391.3 763.7,390.7 764.0,391.1 764.3,392.3 764.7,392.5 765.0,391.5 765.3,391.2 765.7,391.1 766.0,390.2 766.3,389.2 766.7,389.2 766.7,389.3 766.8,390.4 766.9,391.5 767.0,392.0 767.0,391.8 767.1,392.8 767.2,393.4 767.3,393.7 767.3,394.8 767.4,395.2 767.5,396.1 767.6,396.2 767.6,397.4 767.7,397.9 767.8,398.2 767.9,398.4 767.9,399.4 768.0,400.0 768.1,400.2 768.2,401.4 768.2,402.0 768.3,402.5 768.4,403.5 768.5,403.2 768.5,404.5 768.6,405.1 768.7,405.1 768.8,405.9 768.8,406.7 768.9,405.6 769.0,405.6 769.1,405.1 769.2,404.1 769.2,403.9 769.3,403.0 769.4,402.7 769.5,401.7 769.5,401.8 769.6,400.7 769.7,399.6 769.8,399.1 769.9,399.2 769.9,398.7 770.0,397.9 770.1,396.8 770.2,396.9 770.3,396.2 770.3,395.0 770.4,394.6 770.5,394.2 770.9,395.1 771.2,394.6 771.6,395.3 772.0,396.7 772.1,397.1 772.2,398.3 772.3,399.1 772.4,399.0 772.5,400.2 772.6,400.7 772.7,401.4 772.8,401.8 772.9,402.8 773.0,403.1 773.1,404.0 773.2,404.2 773.4,404.5 773.5,405.4 773.6,406.0 773.7,406.7 773.9,405.9 774.0,405.3 774.2,404.9 774.4,404.4 774.6,403.3 774.8,402.8 775.0,402.5 775.2,401.9 775.5,401.3 775.7,400.6 776.0,400.3 776.2,399.1 776.4,399.0 776.7,398.3 776.8,397.5 777.0,397.4 777.1,396.7 777.2,396.2 777.4,395.3 777.5,394.4 777.7,394.5 777.8,393.5 778.0,392.7 778.1,392.0 778.3,391.5 778.4,391.2 778.5,390.8 778.7,389.8 778.8,389.2 779.0,390.0 779.1,390.1 779.2,390.9 779.4,391.4 779.5,392.0 779.7,392.6 779.8,393.7 779.9,394.3 780.1,394.3 780.2,394.9 780.3,395.8 780.6,396.8 780.9,397.2 781.2,397.8 781.4,398.3 781.7,398.9 782.0,399.2 782.2,399.5 782.3,399.8 782.5,400.7 782.7,400.9 782.8,402.6 783.0,402.7 783.2,403.4 783.3,404.4 783.5,404.7 783.7,404.6 783.8,405.3 784.0,405.6 784.2,406.7 784.7,407.0 785.3,406.6 785.8,405.8 786.0,406.4 786.1,406.9 786.3,407.4 786.4,408.2 786.6,409.1 786.7,409.9 786.9,410.5 787.0,411.1 787.2,411.2 787.3,411.8 787.5,412.5 787.9,412.8 788.2,414.4 788.6,413.7 788.9,414.2 789.3,414.9 789.7,415.8 789.9,417.0 790.1,417.6 790.4,417.6 790.6,419.0 790.8,419.2 791.0,419.1 791.2,417.9 791.3,417.0 791.5,417.2 791.7,416.1 791.8,415.2 792.0,415.6 792.2,414.4 792.3,413.8 792.5,413.3 793.0,413.9 793.6,413.7 794.1,413.6 794.7,415.0 795.1,414.3 795.4,413.7 795.8,413.3 796.0,413.3 796.2,414.4 796.5,415.5 796.7,415.6 796.9,416.7 797.1,417.2 797.3,417.3 797.5,418.3 798.1,418.0 798.6,419.8 799.2,420.0 799.5,419.7 799.8,418.7 800.2,418.0 800.5,418.6 800.8,417.5 801.1,417.4 801.3,415.8 801.5,415.6 801.8,414.9 802.0,414.2 802.2,414.5 802.4,414.8 802.6,415.7 802.8,416.7 803.0,417.3 803.1,417.8 803.3,418.3 804.0,417.1 804.7,417.5 804.8,417.8 805.0,418.5 805.1,419.2 805.3,419.8 805.4,421.0 805.6,420.7 805.7,422.3 805.9,422.0 806.0,423.4 806.2,423.3 806.3,424.2 806.5,424.9 806.6,425.3 806.8,425.5 806.9,427.0 807.1,427.6 807.2,427.7 807.4,428.9 807.5,429.2 808.1,428.6 808.6,429.0 809.2,427.5 809.6,427.3 809.9,428.4 810.3,429.2 810.4,428.3 810.4,428.1 810.5,427.6 810.5,427.0 810.6,426.2 810.6,425.4 810.7,425.2 810.7,423.9 810.8,423.5 810.8,423.3 810.9,422.4 810.9,422.3 811.0,420.9 811.1,420.6 811.1,419.8 811.2,419.0 811.2,418.4 811.3,417.8 811.3,417.5 811.4,416.9 811.4,416.4 811.5,415.6 811.5,415.3 811.6,414.6 811.6,414.4 811.7,413.3 812.2,413.3 812.8,414.5 813.3,415.0 813.5,414.4 813.6,413.6 813.8,413.6 813.9,412.2 814.1,412.4 814.2,411.2 814.4,410.6 814.5,410.3 814.7,409.6 814.8,408.7 815.0,408.3 815.2,408.4 815.5,410.2 815.8,410.0 816.0,410.3 816.2,411.7 816.5,412.1 816.8,412.5 817.0,413.3 817.1,413.7 817.2,414.9 817.3,415.0 817.4,415.6 817.5,416.8 817.6,416.8 817.7,417.4 817.8,417.7 817.9,418.9 818.0,419.5 818.0,419.8 818.1,420.4 818.2,420.8 818.3,421.7 818.5,422.6 818.7,422.9 818.8,423.9 819.0,424.0 819.2,425.1 819.3,424.9 819.5,425.7 819.7,426.7 820.0,426.9 820.3,426.0 820.7,425.5 821.0,424.7 821.3,424.2 821.7,423.6 822.0,422.7 822.3,422.1 822.7,422.4 823.0,421.7 823.3,422.5 823.7,422.3 824.0,423.4 824.3,423.1 824.7,424.2 825.0,423.7 825.2,422.4 825.5,422.3 825.8,421.7 826.2,421.9 826.5,422.7 826.8,422.6 827.2,423.6 827.5,424.2 827.8,424.9 828.1,424.7 828.4,425.5 828.7,426.6 829.0,427.0 829.4,427.6 829.7,428.0 829.8,427.7 830.0,426.8 830.2,425.8 830.3,425.4 830.5,425.2 830.7,424.3 830.8,423.9 831.0,422.8 831.2,422.2 831.3,421.7 831.6,422.9 831.8,423.3 832.0,423.7 832.3,423.5 832.5,424.8 832.8,424.6 833.0,425.8 833.3,427.1 833.6,427.7 833.9,428.0 834.1,427.9 834.4,429.3 834.7,428.9 835.0,430.0 835.3,431.0 835.7,431.0 836.0,430.7 836.3,432.6 836.7,432.5 837.5,432.4 838.3,432.5 838.7,433.6 839.0,433.9 839.3,434.2 839.7,435.3 840.0,434.8 840.3,435.8 840.8,437.0 841.2,436.5 841.6,436.5 842.1,437.5 842.5,438.3 842.9,438.1 843.4,438.6 843.8,440.1 844.2,439.7 844.7,440.8 845.2,440.6 845.7,441.3 846.2,441.7 846.7,442.5 847.3,443.6 848.0,443.6 848.7,443.6 849.3,444.0 850.0,443.0 850.1,442.3 850.2,442.1 850.3,440.9 850.4,441.0 850.5,440.3 850.6,439.6 850.6,438.4 850.7,437.7 850.8,437.5 851.0,437.4 851.1,436.3 851.3,435.8 851.4,435.4 851.6,434.0 851.7,434.0 851.9,433.1 852.0,432.5 852.2,433.5 852.3,433.7 852.5,434.0 852.7,435.5 852.8,435.4 853.0,436.5 853.2,437.3 853.3,437.5 853.6,437.8 853.8,439.0 854.0,439.1 854.3,439.5 854.5,440.1 854.8,441.7 855.0,441.7 855.5,441.7 856.0,442.4 856.5,442.7 857.0,443.0 857.3,441.7 857.7,442.3 858.0,441.8 858.3,440.8 858.9,442.1 859.4,441.7 860.0,442.5 860.6,442.4 861.1,443.1 861.7,443.8 862.2,443.8 862.8,443.3 863.3,442.5 863.9,442.9 864.4,443.7 865.0,444.2 865.6,443.0 866.1,443.8 866.7,442.5 867.5,442.3 868.3,442.2 869.0,442.0 869.6,442.4 870.2,440.9 870.8,441.3 871.0,442.2 871.2,442.3 871.4,443.5 871.6,443.2 871.8,444.0 871.9,445.1 872.1,445.5 872.3,445.9 872.5,446.7 872.9,447.4 873.3,447.3 873.8,448.2 874.2,448.0 874.6,450.0 875.0,450.0 875.3,449.1 875.6,449.4 875.8,448.4 876.1,447.9 876.4,447.4 876.7,446.7 876.9,445.6 877.2,446.0 877.5,444.7 877.8,445.0 878.1,444.3 878.3,443.3 878.5,442.9 878.7,442.5 878.8,441.4 879.0,441.0 879.2,440.7 879.3,439.2 879.5,438.5 879.7,438.3 880.1,437.6 880.4,437.2 880.8,436.7 880.9,435.7 881.0,435.1 881.0,435.1 881.1,434.0 881.2,433.1 881.2,432.5 881.3,432.3 881.3,431.2 881.4,430.9 881.5,430.3 881.5,429.6 881.6,429.0 881.7,428.3 882.1,429.5 882.6,428.6 883.0,430.0 883.2,431.1 883.3,430.9 883.5,431.3 883.6,432.7 883.8,433.1 883.9,433.7 884.1,433.9 884.2,435.2 884.4,435.2 884.5,436.3 884.7,436.7 885.2,435.7 885.7,436.0 886.2,435.7 886.7,435.0 886.9,434.3 887.2,433.9 887.5,432.7 887.8,433.0 888.1,432.5 888.3,431.7 888.6,430.6 888.9,430.6 889.2,430.3 889.4,428.9 889.7,429.4 890.0,428.3 890.1,428.1 890.1,426.7 890.2,426.3 890.3,425.5 890.4,425.1 890.4,424.3 890.5,424.1 890.6,423.3 890.7,422.7 890.7,422.3 890.8,421.6 890.9,421.4 891.0,420.7 891.0,419.5 891.1,419.0 891.2,418.2 891.3,417.9 891.3,417.5 891.4,417.7 891.5,418.9 891.7,419.6 891.8,420.5 891.9,420.2 892.0,420.6 892.1,422.0 892.2,422.3 892.3,423.4 892.4,423.4 892.5,424.2 892.6,423.4 892.6,422.6 892.7,422.8 892.7,421.8 892.8,421.1 892.8,420.5 892.9,420.2 892.9,419.7 893.0,418.7 893.0,417.9 893.1,417.5 893.1,417.3 893.2,416.3 893.2,415.9 893.3,415.2 893.4,414.5 893.4,414.0 893.5,413.1 893.5,412.8 893.6,412.5 893.6,411.2 893.7,410.8 893.7,410.7 893.8,410.2 893.8,409.2 893.9,409.3 894.0,410.5 894.0,411.2 894.1,412.0 894.1,412.3 894.2,412.6 894.2,413.4 894.3,414.4 894.4,415.0 894.4,415.1 894.5,416.2 894.5,416.8 894.6,417.4 894.6,417.5 894.7,418.5 894.8,419.0 894.8,419.9 894.9,420.3 894.9,420.7 895.0,421.7 895.3,422.4 895.7,422.3 896.0,423.6 896.3,423.3 896.7,424.2 897.2,424.0 897.8,424.3 898.3,423.3 898.6,422.2 898.8,422.4 899.1,420.9 899.3,421.4 899.6,419.6 899.8,419.9 900.1,418.8 900.3,418.3 900.5,417.3 900.8,416.9 901.0,416.5 901.2,415.7 901.4,414.7 901.6,414.6 901.8,413.7 902.0,413.3 902.1,413.2 902.2,412.0 902.3,411.5 902.4,410.7 902.5,410.8 902.6,409.6 902.7,409.3 902.8,408.9 902.9,407.9 903.0,407.6 903.0,406.6 903.1,405.8 903.2,405.1 903.3,405.0 903.4,404.4 903.4,404.1 903.4,402.9 903.5,402.5 903.5,402.2 903.5,401.2 903.6,400.5 903.6,400.2 903.6,399.5 903.7,399.4 903.7,398.8 903.7,397.6 903.8,397.3 903.8,396.5 903.8,395.6 903.9,395.4 903.9,395.2 903.9,394.0 904.0,393.7 904.0,393.2 904.0,392.0 904.1,392.2 904.1,390.9 904.1,390.4 904.2,390.0 904.2,390.8 904.3,390.8 904.3,391.7 904.3,392.1 904.4,393.0 904.4,393.2 904.5,393.9 904.5,394.6 904.6,395.1 904.6,395.7 904.7,396.4 904.7,397.3 904.8,397.6 904.8,398.8 904.8,399.1 904.9,399.5 904.9,400.1 905.0,401.3 905.0,401.2 905.1,402.4 905.1,402.4 905.2,403.8 905.2,403.9 905.2,404.7 905.3,405.6 905.3,405.8 905.8,404.6 906.2,404.0 906.7,404.2 906.8,403.8 906.9,403.1 907.0,402.6 907.2,401.5 907.3,401.1 907.4,400.2 907.5,399.9 907.6,399.1 907.8,398.8 907.9,397.9 908.0,397.5 908.6,396.7 909.1,397.2 909.7,396.7 910.3,395.7 911.0,397.4 911.7,396.7 911.7,397.3 911.8,397.7 911.8,398.2 911.9,399.2 911.9,399.8 912.0,400.6 912.0,400.9 912.1,401.6 912.1,402.7 912.2,402.7 912.2,404.0 912.3,404.5 912.3,405.2 912.4,405.8 912.4,405.8 912.5,406.7 912.7,407.6 912.8,408.0 913.0,408.1 913.1,409.7 913.3,409.9 913.4,410.7 913.6,411.0 913.7,411.0 913.9,412.5 914.0,412.3 914.2,413.3 914.4,413.6 914.6,414.7 914.9,414.7 915.1,415.7 915.4,416.6 915.6,416.4 915.8,417.5 916.7,417.9 917.5,417.5 917.6,416.5 917.7,416.3 917.8,415.8 917.9,415.3 918.1,414.0 918.2,413.5 918.3,413.7 918.4,412.5 918.5,411.9 918.6,411.3 918.7,411.0 918.8,410.4 918.9,409.7 919.1,408.8 919.2,408.3 919.9,408.8 920.6,408.9 921.3,409.2 921.6,409.3 921.8,411.0 922.0,411.6 922.3,411.9 922.5,412.8 922.8,412.7 923.0,413.3 923.4,414.4 923.8,413.9 924.2,415.3 924.6,415.7 925.0,415.8 925.5,417.2 926.0,417.5 926.5,418.0 927.0,417.4 927.5,418.3 928.1,419.3 928.6,419.2 929.2,419.7 929.8,419.1 930.4,419.1 931.0,420.0 931.7,419.2 931.9,419.1 932.2,418.6 932.5,417.7 932.8,416.5 933.1,415.9 933.3,415.9 933.6,414.9 933.9,414.5 934.2,414.2 934.5,414.0 934.8,414.6 935.2,416.0 935.5,415.7 935.8,416.7 935.9,416.4 936.0,415.3 936.1,415.2 936.2,414.0 936.3,413.4 936.4,412.9 936.4,411.9 936.5,411.7 936.6,411.0 936.7,410.0 936.8,410.3 936.9,409.2 937.0,408.2 937.1,408.5 937.1,407.2 937.2,406.6 937.3,405.7 937.4,405.2 937.5,405.0 937.7,405.9 938.0,406.3 938.2,406.8 938.5,407.0 938.7,407.7 938.9,409.2 939.2,409.2 939.2,408.4 939.3,408.4 939.4,407.7 939.4,406.3 939.5,406.4 939.6,405.0 939.7,405.0 939.7,404.5 939.8,403.7 939.9,403.0 939.9,402.6 940.0,401.7 940.1,400.6 940.3,400.4 940.4,399.5 940.6,399.0 940.7,398.1 940.8,398.0 941.0,397.2 941.1,396.8 941.2,395.8 941.7,396.6 942.1,397.1 942.5,397.5 942.6,397.3 942.6,396.5 942.7,395.6 942.8,394.8 942.8,394.7 942.9,393.5 942.9,392.6 943.0,392.2 943.1,391.9 943.1,391.5 943.2,390.6 943.3,390.0 943.3,389.2 944.0,390.5 944.6,390.0 944.6,389.6 944.7,388.7 944.7,388.1 944.8,387.8 944.8,386.8 944.9,386.0 944.9,385.8 945.0,385.4 945.0,384.3 945.1,384.0 945.1,383.6 945.2,382.3 945.2,381.7 945.3,381.4 945.3,380.7 945.4,380.6 945.4,379.6 945.5,380.7 945.5,380.8 945.6,381.7 945.7,382.2 945.7,382.4 945.8,383.8 945.8,383.7 945.9,384.2 946.0,385.2 946.0,385.4 946.1,386.4 946.1,387.0 946.2,388.1 946.2,388.3 946.6,388.8 946.9,390.1 947.2,390.6 947.5,390.8 947.7,391.5 948.0,391.7 948.2,392.4 948.5,393.2 948.7,393.7 948.9,394.6 949.2,395.0 949.3,394.4 949.4,393.6 949.5,393.3 949.6,393.1 949.7,391.6 949.8,391.2 950.0,390.2 950.1,389.7 950.2,389.1 950.3,388.9 950.4,388.3 950.5,388.0 950.5,387.3 950.5,386.9 950.6,386.1 950.6,385.3 950.7,384.7 950.7,383.5 950.8,383.2 950.8,382.5 950.8,382.2 950.9,381.1 950.9,380.9 951.0,380.1 951.0,379.6 951.0,378.9 951.1,378.0 951.1,377.9 951.2,377.4 951.2,376.5 951.2,375.8 951.3,374.9 951.3,374.7 951.4,374.3 951.4,373.8 951.5,372.9 951.5,371.7 951.5,371.8 951.6,371.0 951.6,370.0 951.7,370.0 951.7,369.3 951.8,368.7 951.8,367.5 951.8,367.2 951.9,366.3 951.9,365.8 952.0,366.3 952.0,367.3 952.1,367.8 952.1,368.2 952.2,369.0 952.2,370.0 952.3,370.3 952.3,371.2 952.4,371.5 952.4,372.5 952.5,372.3 952.5,373.3 952.6,374.0 952.6,374.8 952.7,375.6 952.7,375.9 952.8,376.4 952.8,377.2 952.9,377.7 952.9,378.3 953.5,379.3 954.2,379.6 954.4,380.7 954.5,380.2 954.7,381.2 954.9,382.5 955.1,382.0 955.3,383.6 955.5,383.2 955.6,384.6 955.8,385.0 956.0,386.0 956.2,385.9 956.5,386.7 956.7,387.2 956.9,388.4 957.1,388.8 957.3,389.5 957.5,390.0 957.6,389.2 957.7,388.9 957.8,388.7 958.0,387.9 958.1,387.5 958.2,386.1 958.3,385.8 958.4,385.0 958.5,384.4 958.6,384.3 958.8,383.3 958.9,382.4 959.0,382.1 959.1,381.7 959.2,381.3 959.3,379.7 959.4,379.3 959.5,379.0 959.6,378.3 959.8,378.2 960.1,376.6 960.3,376.8 960.6,375.5 960.8,375.0 961.5,374.5 962.1,373.8 962.1,507" fill="#f1f1f1"/>
<g fill="#000" shape-rendering="crispEdges"><rect x="62" y="7" width="4" height="502"/><rect x="1025" y="7" width="4" height="502"/><rect x="62" y="7" width="967" height="3"/><rect x="62" y="506" width="967" height="3"/></g>
<polyline points="64.2,299.2 64.2,299.6 64.2,300.1 64.3,301.1 64.3,301.2 64.3,302.3 64.4,302.7 64.4,303.1 64.4,304.1 64.5,304.3 64.5,305.2 64.5,305.5 64.6,306.1 64.6,307.0 64.6,308.0 64.7,308.3 64.7,308.6 64.8,309.3 64.8,310.3 64.9,311.1 64.9,311.4 64.9,311.8 65.0,313.0 65.0,312.7 65.1,314.1 65.1,314.1 65.2,314.6 65.2,315.2 65.3,316.0 65.3,317.0 65.4,317.0 65.4,318.0 65.5,318.7 65.5,319.0 65.6,319.8 65.6,319.9 65.6,320.5 65.7,321.3 65.7,322.3 65.8,322.7 65.8,323.3 66.0,323.7 66.1,324.6 66.3,325.0 66.4,325.5 66.6,326.6 66.7,327.1 66.9,327.2 67.0,328.1 67.2,328.7 67.3,329.7 67.5,330.1 67.6,330.1 67.7,331.5 67.9,331.1 68.0,332.1 68.2,333.0 68.3,333.3 68.5,333.5 68.6,334.5 68.8,334.6 68.9,335.9 69.0,336.6 69.2,337.0 69.3,337.9 69.5,337.9 69.6,338.9 69.8,339.4 69.9,340.0 70.0,340.4 70.2,341.5 70.3,341.7 70.6,342.9 70.8,342.9 71.1,343.8 71.3,344.2 71.6,342.9 71.8,343.1 72.0,342.4 72.3,342.2 72.5,341.4 72.8,340.0 73.0,339.7 73.4,339.9 73.8,340.9 74.2,340.2 74.6,341.5 75.0,342.0 75.1,341.1 75.2,340.4 75.2,339.8 75.3,339.9 75.4,338.6 75.5,338.1 75.6,337.7 75.7,337.6 75.8,336.2 75.8,335.9 75.9,335.4 76.0,335.2 76.1,334.5 76.2,334.0 76.2,332.8 76.3,332.3 76.4,331.7 76.5,331.6 76.6,331.1 76.7,330.0 76.7,329.0 76.8,328.4 76.9,327.8 77.0,327.1 77.0,326.7 77.1,326.2 77.2,325.2 77.3,324.3 77.3,324.2 77.5,324.7 77.6,325.2 77.8,326.0 77.9,327.1 78.0,327.4 78.2,327.8 78.3,328.3 78.4,327.9 78.5,327.3 78.6,326.1 78.7,326.3 78.8,325.6 78.9,325.1 79.0,324.4 79.1,323.4 79.2,322.8 79.3,321.9 79.4,321.9 79.4,320.7 79.5,320.1 79.6,319.6 79.7,319.0 79.8,318.5 79.9,317.6 80.0,317.5 80.1,317.7 80.1,318.4 80.2,319.0 80.2,319.9 80.3,320.2 80.3,321.6 80.4,322.0 80.4,322.2 80.5,322.9 80.5,323.6 80.6,324.2 80.6,324.6 80.7,325.9 80.7,326.7 80.8,326.8 80.8,327.5 81.5,326.9 82.2,326.3 82.3,326.5 82.4,327.1 82.5,328.0 82.6,328.5 82.7,329.7 82.8,329.6 82.9,330.0 83.0,331.6 83.1,331.8 83.2,332.0 83.3,333.0 83.4,333.0 83.5,334.2 83.6,335.2 83.7,335.7 83.8,336.1 83.9,336.3 84.0,337.0 84.1,337.4 84.2,338.3 84.3,339.3 84.4,339.6 84.6,340.5 84.7,340.6 84.9,341.1 85.0,342.4 85.1,343.3 85.3,343.7 85.4,344.3 85.6,344.9 85.7,345.5 85.8,345.8 86.3,345.6 86.8,346.5 87.3,346.5 87.8,346.2 88.3,347.5 88.5,346.3 88.8,346.0 89.0,345.3 89.2,345.2 89.4,345.0 89.6,343.7 89.8,343.7 90.0,342.5 90.1,342.4 90.2,341.8 90.3,340.6 90.4,339.8 90.5,339.2 90.6,338.6 90.7,338.0 90.8,337.9 90.9,337.6 91.0,336.9 91.1,335.9 91.2,335.5 91.2,335.1 91.3,333.7 91.4,333.7 91.5,333.4 91.6,332.7 91.7,332.0 91.8,331.2 91.9,330.2 92.0,330.3 92.1,329.2 92.2,329.1 92.3,328.7 92.4,327.5 92.5,327.0 92.6,327.5 92.8,328.7 92.9,329.0 93.1,329.0 93.2,329.6 93.3,330.2 93.5,331.6 93.6,332.1 93.8,332.0 93.9,333.3 94.0,334.1 94.2,334.2 94.5,333.8 94.8,332.7 95.0,332.4 95.3,331.7 95.5,330.6 95.7,329.8 95.8,330.4 96.0,329.3 96.2,328.6 96.3,328.4 96.5,327.2 96.7,326.7 96.9,327.8 97.1,328.3 97.3,328.2 97.5,328.8 97.7,329.5 97.9,330.1 98.1,331.2 98.3,331.7 98.4,332.0 98.5,332.8 98.6,333.1 98.7,334.5 98.8,334.5 98.9,335.2 99.0,335.9 99.1,336.8 99.2,336.9 99.3,338.1 99.4,338.2 99.5,338.8 99.6,339.4 99.7,340.0 99.8,338.8 100.0,338.7 100.2,337.8 100.4,337.0 100.6,337.3 100.8,336.0 100.9,335.7 101.1,335.4 101.3,334.6 101.5,333.7 101.7,333.3 102.0,332.8 102.3,332.3 102.7,332.1 103.0,330.5 103.3,330.7 103.7,330.0 103.8,330.3 103.8,331.0 103.9,332.1 104.0,332.4 104.1,333.1 104.2,333.9 104.3,334.7 104.4,334.8 104.5,335.6 104.6,336.1 104.7,336.7 104.7,336.1 104.7,335.6 104.8,334.8 104.8,334.3 104.8,333.6 104.9,333.4 104.9,332.6 104.9,332.2 105.0,331.6 105.0,330.4 105.0,330.1 105.1,329.8 105.1,329.1 105.1,327.9 105.2,327.3 105.2,327.0 105.2,326.1 105.2,325.6 105.3,324.9 105.3,324.8 105.3,324.3 105.4,323.8 105.4,322.5 105.4,322.4 105.5,321.8 105.5,320.7 105.5,320.8 105.6,320.2 105.6,319.0 105.6,319.0 105.7,317.9 105.7,317.4 105.7,317.2 105.8,316.5 105.8,315.3 105.8,315.0 105.9,314.3 106.0,313.8 106.1,313.0 106.1,312.2 106.2,311.7 106.3,311.5 106.3,310.2 106.4,310.1 106.5,309.3 106.6,308.3 106.6,308.0 106.7,307.6 106.8,306.9 106.9,305.8 106.9,306.1 107.0,305.0 107.1,304.7 107.1,304.2 107.2,302.8 107.3,302.3 107.3,301.5 107.4,301.6 107.4,300.5 107.5,299.8 107.6,299.4 107.6,299.3 107.7,298.6 107.8,297.5 107.8,296.7 107.9,296.9 108.0,295.9 108.0,295.4 108.1,294.3 108.2,293.6 108.2,293.6 108.3,292.7 108.3,291.8 108.4,292.0 108.5,291.1 108.5,290.7 108.6,289.4 108.7,289.2 108.9,290.2 109.0,289.8 109.2,291.4 109.4,291.5 109.6,291.9 109.8,292.8 110.0,293.3 110.1,294.4 110.2,294.3 110.3,294.8 110.4,295.8 110.5,296.1 110.6,296.6 110.7,297.2 110.8,297.7 110.9,298.5 111.0,299.2 111.1,299.8 111.2,300.9 111.3,301.0 111.4,301.8 111.5,302.1 111.6,302.9 111.7,303.7 112.1,303.2 112.6,304.1 113.0,305.0 113.4,303.7 113.9,304.5 114.3,303.7 114.5,304.3 114.6,304.5 114.7,305.5 114.8,306.6 115.0,306.3 115.1,307.6 115.2,307.8 115.3,308.5 115.5,309.5 115.6,309.6 115.7,310.3 115.8,311.1 116.0,312.1 116.1,312.0 116.2,313.1 116.3,313.3 116.4,314.1 116.4,314.7 116.4,315.1 116.4,315.7 116.5,316.0 116.5,316.7 116.5,317.3 116.5,318.5 116.6,318.7 116.6,319.2 116.6,319.8 116.6,321.0 116.7,321.7 116.7,322.1 116.7,322.4 116.7,323.0 116.8,323.6 116.8,324.4 116.8,324.8 116.8,325.6 116.9,326.1 116.9,327.3 116.9,327.9 116.9,328.2 117.0,328.5 117.0,329.8 117.0,330.0 117.1,330.4 117.3,331.1 117.4,331.4 117.6,332.5 117.7,333.2 117.9,333.9 118.0,334.2 118.2,335.2 118.3,335.8 118.4,334.7 118.5,334.3 118.6,333.5 118.7,333.1 118.8,332.1 118.9,331.5 119.0,331.1 119.1,330.4 119.2,330.0 119.2,330.7 119.3,331.2 119.3,332.1 119.4,332.6 119.4,333.3 119.5,334.0 119.6,334.2 119.6,334.7 119.7,336.0 119.7,335.8 119.8,336.9 119.8,337.5 119.9,337.5 119.9,338.9 120.0,339.2 120.1,339.0 120.2,338.1 120.3,337.5 120.4,337.0 120.6,335.7 120.7,335.4 120.8,334.8 120.9,334.5 121.0,333.9 121.1,333.3 121.2,332.4 121.3,331.7 121.9,332.8 122.4,332.6 123.0,332.5 123.2,333.3 123.3,333.4 123.5,333.8 123.6,334.5 123.8,335.4 123.9,335.7 124.1,337.1 124.2,337.4 124.4,338.1 124.5,338.7 124.7,339.2 124.9,338.7 125.1,337.8 125.4,336.5 125.6,336.9 125.8,335.8 126.6,336.1 127.3,335.3 128.0,335.0 128.1,335.7 128.2,336.4 128.2,336.4 128.3,337.7 128.4,337.9 128.5,338.3 128.6,339.1 128.7,340.2 128.8,340.3 128.8,341.5 128.9,342.4 129.0,342.5 129.1,343.0 129.2,343.7 129.2,344.6 129.3,345.0 129.5,344.7 129.7,343.9 129.9,343.4 130.1,342.1 130.2,341.5 130.4,341.1 130.6,341.1 130.8,339.9 131.0,339.6 131.2,338.3 131.3,338.3 131.6,337.1 131.8,336.8 132.1,336.7 132.3,336.1 132.6,335.4 132.8,334.3 133.1,334.0 133.3,333.3 133.4,333.9 133.5,334.5 133.6,334.8 133.7,336.2 133.8,336.2 133.8,337.6 133.9,338.1 134.0,337.8 134.1,338.9 134.2,339.9 134.2,340.7 134.3,340.8 134.4,341.2 134.5,341.8 134.6,343.2 134.7,343.3 134.7,343.7 134.8,344.7 134.9,344.9 135.0,345.9 135.0,346.9 135.1,346.7 135.2,348.0 135.2,348.3 135.3,349.3 135.4,349.8 135.5,349.9 135.5,351.2 135.6,351.4 135.7,351.6 135.8,352.2 135.8,353.3 136.0,354.0 136.2,354.6 136.3,355.1 136.5,355.6 136.7,356.7 137.3,356.5 137.9,356.7 138.5,358.0 139.2,357.5 139.7,356.2 140.3,357.5 140.8,356.7 141.4,357.9 141.9,357.1 142.5,358.3 142.7,359.4 142.8,359.8 143.0,360.6 143.2,360.4 143.3,361.1 143.5,361.7 143.7,363.0 143.8,363.1 144.0,363.4 144.2,364.2 144.7,364.3 145.3,364.2 145.8,365.0 146.1,363.8 146.4,363.3 146.7,363.8 146.9,362.5 147.2,362.9 147.5,361.7 147.7,360.8 147.9,360.2 148.2,359.9 148.4,358.9 148.6,358.6 148.8,358.8 149.0,358.1 149.2,357.4 149.4,356.6 149.7,355.8 149.8,355.7 149.9,355.1 149.9,354.1 150.0,353.7 150.1,352.4 150.2,352.5 150.3,351.6 150.4,351.3 150.5,350.6 150.6,349.6 150.7,348.7 150.8,349.1 150.9,347.6 151.0,347.4 151.1,346.6 151.1,346.0 151.2,345.8 151.3,345.0 151.4,344.9 151.5,343.5 151.5,343.3 151.6,342.3 151.7,342.0 151.8,341.2 151.8,340.4 151.9,339.8 152.0,339.2 152.0,339.3 152.1,338.2 152.2,337.4 152.2,337.4 152.3,336.9 152.4,335.7 152.5,334.8 152.5,334.3 152.6,333.5 152.7,333.3 152.7,332.6 152.7,331.8 152.7,331.3 152.8,330.7 152.8,330.3 152.8,330.0 152.8,329.3 152.8,328.4 152.9,327.8 152.9,327.2 152.9,326.5 152.9,325.9 153.0,325.0 153.0,324.6 153.0,324.6 153.0,323.2 153.0,322.9 153.1,322.4 153.1,322.0 153.1,320.9 153.1,320.3 153.2,319.7 153.2,319.2 153.2,318.6 153.2,318.4 153.2,317.7 153.3,317.2 153.3,315.8 153.3,315.2 153.3,315.0 153.4,315.8 153.5,316.7 153.6,316.8 153.8,317.6 153.9,317.6 154.0,318.6 154.1,319.8 154.2,320.0 154.3,319.7 154.5,319.2 154.6,318.7 154.8,317.2 154.9,316.4 155.0,315.9 155.2,315.7 155.3,315.0 155.7,314.6 156.0,314.4 156.3,313.5 156.7,312.5 156.7,312.0 156.8,311.5 156.8,310.7 156.9,310.1 156.9,309.1 157.0,309.2 157.0,308.0 157.1,308.1 157.1,307.2 157.2,306.3 157.3,305.6 157.3,305.1 157.4,304.8 157.4,304.3 157.5,303.1 157.5,302.5 157.6,302.3 157.6,301.8 157.7,301.0 157.7,300.2 157.8,300.0 157.8,298.8 157.9,298.5 157.9,298.1 158.0,297.5 158.1,298.6 158.2,298.9 158.3,299.7 158.4,299.9 158.5,300.2 158.6,300.9 158.7,302.2 158.8,302.6 159.0,302.7 159.1,303.1 159.2,304.2 159.2,303.5 159.3,303.1 159.4,302.2 159.4,301.4 159.5,301.1 159.6,300.7 159.6,299.4 159.7,298.6 159.7,298.2 159.8,297.7 159.9,297.3 159.9,296.2 160.0,295.8 160.1,295.5 160.1,294.9 160.2,294.0 160.3,293.1 160.3,293.3 160.4,292.0 160.5,291.9 160.5,290.8 160.6,290.1 160.6,290.1 160.7,289.0 160.8,289.0 160.8,288.0 160.9,287.1 161.0,286.5 161.0,286.1 161.1,285.8 161.2,285.0 161.2,286.0 161.3,285.9 161.4,286.7 161.5,287.1 161.5,288.5 161.6,288.3 161.7,288.8 161.8,289.4 161.8,290.3 161.9,291.4 162.0,292.0 162.1,292.5 162.1,293.3 162.2,293.9 162.3,293.9 162.4,294.3 162.4,295.7 162.5,295.8 162.6,296.7 162.6,296.6 162.7,297.8 162.7,298.2 162.8,298.8 162.9,299.4 162.9,299.8 163.0,300.3 163.1,301.1 163.1,301.8 163.2,303.0 163.2,302.8 163.3,304.3 163.4,304.2 163.4,304.9 163.5,306.0 163.5,306.6 163.6,306.8 163.7,307.5 163.8,306.4 163.9,306.3 164.0,305.5 164.2,305.5 164.3,304.1 164.4,303.7 164.5,303.7 164.6,302.1 164.8,301.9 164.9,301.8 165.0,300.8 165.3,301.8 165.7,301.2 166.0,301.8 166.3,302.4 166.7,303.7 166.7,303.5 166.8,302.2 166.9,302.1 166.9,301.6 167.0,300.4 167.1,299.8 167.1,299.8 167.2,298.9 167.3,297.9 167.3,297.7 167.4,296.7 167.5,296.1 167.5,295.2 167.6,295.3 167.7,294.9 167.7,294.0 167.8,293.7 167.9,292.2 167.9,291.8 168.0,291.4 168.1,291.2 168.1,290.6 168.2,289.5 168.3,288.7 168.3,288.3 168.5,287.7 168.6,287.1 168.7,287.0 168.8,285.6 168.9,285.6 169.1,285.0 169.2,284.4 169.3,283.8 169.4,283.0 169.5,282.1 169.7,281.7 169.7,280.9 169.8,280.3 169.8,280.1 169.9,278.8 169.9,278.3 170.0,278.2 170.0,277.1 170.1,276.3 170.1,275.6 170.2,275.5 170.2,274.6 170.3,274.6 170.3,273.9 170.4,273.4 170.4,272.1 170.5,271.3 170.5,270.7 170.6,270.4 170.6,270.0 170.7,269.2 170.7,269.7 170.8,270.2 170.8,271.0 170.9,271.8 170.9,272.5 171.0,273.1 171.0,273.9 171.1,274.3 171.1,274.4 171.2,275.7 171.2,275.9 171.3,276.7 171.3,277.2 171.4,278.1 171.4,278.3 171.5,278.9 171.5,279.6 171.6,280.1 171.6,281.4 171.7,281.7 172.1,282.4 172.5,282.5 172.9,283.2 173.3,284.7 173.8,284.5 174.2,285.0 174.2,285.4 174.3,286.5 174.3,286.9 174.4,287.9 174.4,287.6 174.4,288.6 174.5,289.5 174.5,290.1 174.6,290.8 174.6,290.6 174.7,291.4 174.7,291.9 174.8,292.5 174.8,293.9 174.9,294.1 174.9,295.0 175.0,295.1 175.0,295.8 175.7,296.7 176.3,295.8 176.4,296.4 176.4,296.8 176.5,297.9 176.5,298.7 176.6,298.5 176.6,299.6 176.6,300.2 176.7,300.4 176.7,301.2 176.8,301.6 176.8,302.3 176.9,302.9 176.9,303.8 177.0,304.5 177.0,304.7 177.1,305.1 177.1,306.0 177.1,307.0 177.2,307.1 177.2,307.8 177.3,308.4 177.3,309.5 177.4,309.9 177.4,310.0 177.5,310.7 177.5,311.7 177.6,312.2 177.7,312.9 177.7,313.6 177.8,313.7 177.9,314.4 178.0,315.5 178.0,315.8 178.1,316.3 178.2,316.9 178.3,318.2 178.3,318.1 178.4,319.0 178.5,319.4 178.6,320.1 178.6,321.1 178.7,321.9 178.8,321.8 178.9,322.3 178.9,323.4 179.0,323.5 179.1,323.9 179.2,325.0 179.3,324.8 179.4,323.7 179.5,323.5 179.6,322.4 179.7,322.3 179.8,321.2 179.8,320.3 179.9,319.5 180.0,319.4 180.1,318.9 180.2,318.5 180.3,317.5 180.5,317.6 180.7,318.9 180.8,319.2 181.0,320.0 181.2,320.2 181.3,321.0 181.5,321.9 181.7,322.5 182.1,322.7 182.5,320.7 182.9,320.8 183.3,320.8 183.8,320.5 184.2,319.2 184.2,319.5 184.3,320.1 184.3,321.4 184.4,322.1 184.4,322.2 184.5,322.4 184.5,323.9 184.6,324.0 184.6,325.1 184.7,325.4 184.7,326.2 184.8,326.2 184.8,327.4 184.9,327.5 184.9,328.3 185.0,329.3 185.0,329.9 185.1,330.0 185.1,330.6 185.2,331.4 185.2,332.1 185.3,332.6 185.3,333.3 185.4,333.6 185.4,334.3 185.5,335.4 185.5,336.2 185.6,336.0 185.6,337.1 185.7,337.9 185.8,337.8 185.8,339.2 185.9,339.1 185.9,340.2 186.0,340.7 186.0,341.4 186.1,341.7 186.1,342.5 186.2,343.2 186.2,343.7 186.3,344.5 186.3,345.0 186.5,344.4 186.7,343.8 186.8,342.7 187.0,342.8 187.2,342.1 187.3,341.2 187.5,341.2 187.7,340.7 187.8,339.7 188.0,339.2 188.4,338.1 188.8,338.1 189.2,337.0 189.6,336.5 190.0,336.7 190.2,336.0 190.3,335.0 190.5,334.8 190.7,334.3 190.8,333.2 191.0,333.3 191.2,332.1 191.3,332.3 191.5,331.8 191.7,330.8 191.9,331.5 192.1,331.5 192.3,332.7 192.5,333.2 192.7,334.5 192.9,334.1 193.1,335.7 193.3,335.8 193.9,337.1 194.5,336.6 195.1,336.9 195.7,335.5 196.3,336.3 196.4,337.4 196.5,337.5 196.5,338.6 196.6,339.2 196.7,339.0 196.7,340.3 196.8,341.0 196.9,340.8 197.0,341.7 197.0,342.7 197.1,342.7 197.2,344.0 197.2,344.0 197.3,345.2 197.4,345.1 197.4,346.1 197.5,346.7 197.7,347.8 198.0,347.5 198.2,348.1 198.5,349.1 198.7,349.4 198.9,349.6 199.2,350.8 199.2,351.1 199.3,351.7 199.3,353.1 199.4,353.4 199.4,354.3 199.5,354.2 199.6,355.4 199.6,355.4 199.7,356.4 199.7,357.1 199.8,357.4 199.8,358.5 199.9,358.8 199.9,359.5 200.0,360.0 200.3,361.1 200.6,360.5 200.8,362.4 201.1,362.4 201.4,362.6 201.7,363.3 201.8,364.3 201.9,364.3 202.0,365.7 202.1,365.9 202.2,366.3 202.3,367.4 202.4,367.6 202.5,368.0 202.6,369.2 202.7,369.1 202.8,370.5 202.9,370.6 203.0,371.6 203.1,372.6 203.2,372.8 203.3,373.3 203.4,374.1 203.5,374.4 203.6,374.7 203.7,375.4 203.8,376.1 203.8,377.2 203.9,377.6 204.0,378.3 204.1,379.4 204.2,379.2 204.2,379.9 204.3,381.0 204.4,381.0 204.5,381.6 204.6,382.6 204.7,383.3 204.8,382.3 204.9,381.9 205.0,381.2 205.1,380.9 205.2,380.3 205.3,379.3 205.4,379.1 205.5,378.3 205.6,377.3 205.7,377.5 205.8,376.2 205.9,375.5 206.0,374.8 206.1,374.7 206.2,374.3 206.3,373.3 206.5,373.1 206.8,372.0 207.0,371.2 207.2,370.2 207.4,370.4 207.6,369.7 207.8,368.8 208.0,368.3 208.2,369.1 208.4,369.5 208.5,370.7 208.7,371.0 208.9,371.1 209.1,372.5 209.3,372.0 209.5,373.2 209.6,373.7 209.8,374.1 210.0,375.0 210.1,375.1 210.3,376.5 210.4,376.2 210.6,377.4 210.7,378.5 210.9,378.1 211.0,378.8 211.2,379.8 211.3,380.3 211.5,381.0 211.6,381.8 211.8,381.7 211.9,382.4 212.1,383.0 212.2,383.3 212.4,384.9 212.5,385.0 212.9,384.9 213.3,384.2 213.7,383.3 213.9,383.2 214.1,384.9 214.4,385.3 214.6,385.5 214.9,386.4 215.1,386.6 215.4,386.8 215.6,387.2 215.8,388.3 216.0,388.6 216.1,389.0 216.3,390.0 216.4,391.1 216.6,391.6 216.7,392.4 216.8,392.9 217.0,393.0 217.1,393.9 217.3,394.4 217.4,395.4 217.6,395.7 217.7,396.0 217.9,397.1 218.0,397.5 218.1,397.4 218.2,396.0 218.3,396.1 218.4,394.6 218.6,394.2 218.7,393.6 218.8,393.5 218.9,393.2 219.0,392.3 219.1,391.3 219.2,391.3 219.3,390.1 219.4,389.4 219.6,389.5 219.7,388.6 219.8,388.1 219.9,387.4 220.0,386.7 220.3,387.9 220.7,387.6 221.0,388.7 221.3,389.0 221.7,389.2 221.8,390.1 221.8,390.3 221.9,391.2 222.0,391.7 222.1,392.0 222.2,392.5 222.3,393.6 222.4,393.6 222.5,395.1 222.6,394.9 222.6,395.4 222.7,396.1 222.8,397.5 222.9,397.6 223.0,398.3 223.2,398.5 223.3,399.0 223.5,399.7 223.7,401.1 223.8,401.6 224.0,402.3 224.2,403.0 224.3,402.8 224.5,404.1 224.7,404.4 224.8,405.6 225.0,405.8 225.3,405.8 225.7,405.3 226.0,403.5 226.3,404.2 226.7,403.7 227.0,402.5 227.4,402.8 227.9,400.8 228.3,400.5 228.7,399.8 229.2,400.0 229.3,400.1 229.3,401.5 229.4,402.1 229.5,402.5 229.6,403.3 229.7,403.7 229.8,404.0 229.8,404.4 229.9,405.0 230.0,406.2 230.1,406.2 230.2,407.0 230.2,407.7 230.3,408.3 230.5,408.4 230.6,409.3 230.8,409.9 230.9,411.0 231.1,411.2 231.2,411.8 231.3,413.1 231.5,413.2 231.6,414.2 231.8,414.6 231.9,414.5 232.1,415.6 232.2,416.2 232.4,417.2 232.5,417.5 232.8,416.7 233.2,416.8 233.5,416.1 233.8,415.0 234.2,415.0 234.4,416.1 234.7,415.5 235.0,417.1 235.3,416.7 235.6,417.0 235.8,418.3 236.2,417.3 236.5,417.8 236.8,417.6 237.2,415.5 237.5,415.8 237.7,416.4 237.9,417.1 238.1,418.1 238.3,417.9 238.5,419.0 238.8,419.4 239.0,420.6 239.2,420.8 239.6,421.0 240.0,422.7 240.4,422.1 240.8,422.6 241.3,424.0 241.7,424.2 242.2,424.7 242.7,424.4 243.2,425.9 243.7,425.4 244.2,426.7 244.4,427.7 244.6,428.1 244.8,428.9 245.1,429.3 245.3,429.5 245.5,430.2 245.8,430.8 246.0,432.0 246.2,431.6 246.4,433.2 246.7,433.3 247.2,431.9 247.8,431.7 248.3,431.7 248.5,430.8 248.6,430.9 248.8,429.8 248.9,429.1 249.1,429.1 249.2,427.7 249.4,427.4 249.5,426.9 249.7,426.5 249.8,425.9 250.0,425.0 250.6,425.5 251.2,425.1 251.9,425.2 252.5,425.8 253.0,424.7 253.5,425.5 254.0,424.6 254.5,424.3 255.0,423.3 255.3,422.3 255.6,422.2 255.9,422.2 256.2,421.4 256.6,420.1 256.9,420.1 257.2,420.3 257.5,419.2 257.7,419.4 258.0,419.9 258.2,420.7 258.5,421.8 258.7,422.6 258.9,422.3 259.2,423.3 259.3,423.5 259.5,424.3 259.6,424.9 259.8,425.8 259.9,426.0 260.1,426.8 260.2,427.2 260.4,428.7 260.5,429.1 260.7,428.9 260.8,430.0 261.1,431.2 261.5,430.4 261.8,431.4 262.1,432.8 262.4,433.1 262.7,433.5 263.0,433.5 263.3,434.2 263.5,433.2 263.7,433.1 263.8,431.8 264.0,431.3 264.2,430.9 264.3,429.9 264.5,429.7 264.7,429.5 264.8,428.8 265.0,427.9 265.2,427.4 265.3,426.7 265.5,426.0 265.6,425.1 265.7,425.0 265.8,424.2 265.9,424.0 266.0,423.5 266.2,422.4 266.3,422.0 266.4,421.6 266.5,420.6 266.6,419.8 266.8,419.8 266.9,419.3 267.0,418.3 267.3,419.3 267.6,419.8 267.9,420.6 268.2,421.0 268.5,421.5 268.9,421.8 269.2,422.5 269.5,422.7 269.8,423.7 270.1,423.4 270.4,424.5 270.7,425.5 271.0,426.0 271.4,426.3 271.7,426.7 272.2,426.8 272.8,427.6 273.3,428.3 273.7,427.8 274.0,427.5 274.3,426.7 274.7,426.6 275.0,425.8 275.3,427.0 275.6,426.5 275.8,427.7 276.1,428.5 276.4,428.4 276.7,429.2 276.9,430.4 277.2,429.6 277.5,430.8 277.8,430.4 278.2,429.3 278.5,429.8 278.8,429.6 279.2,428.3 279.5,427.8 279.8,426.5 280.1,426.7 280.4,426.0 280.7,425.7 281.0,424.8 281.3,424.2 281.7,424.9 282.1,425.7 282.5,425.6 283.0,425.9 283.4,427.3 283.8,426.5 284.2,427.5 284.6,428.3 285.0,428.3 285.4,429.4 285.8,428.7 286.2,430.7 286.7,430.3 287.3,429.9 287.9,429.2 288.5,429.6 289.2,430.0 289.4,430.4 289.7,430.4 290.0,431.5 290.3,432.1 290.6,433.1 290.8,433.3 291.1,432.6 291.5,431.9 291.8,431.3 292.1,431.6 292.4,431.4 292.7,430.2 293.0,429.7 293.2,429.9 293.3,431.3 293.5,431.4 293.7,431.8 293.8,432.3 294.0,433.7 294.2,434.4 294.3,434.8 294.5,435.2 294.7,435.8 294.8,436.5 295.0,436.8 295.1,438.2 295.2,438.2 295.4,439.1 295.5,439.9 295.7,440.6 295.8,440.8 296.4,441.2 296.9,441.3 297.5,442.2 298.0,442.5 298.6,442.4 299.1,444.2 299.7,444.2 300.2,443.3 300.8,443.7 301.3,442.5 301.6,442.8 301.8,443.5 302.0,444.0 302.3,444.8 302.5,445.0 302.8,445.4 303.0,446.7 303.3,447.6 303.7,447.6 304.0,448.2 304.3,449.2 304.6,448.3 304.8,448.0 305.1,447.4 305.3,447.1 305.6,446.6 305.8,445.8 306.0,445.1 306.1,445.1 306.3,444.4 306.4,442.9 306.6,443.2 306.7,442.7 306.9,441.9 307.0,440.6 307.2,440.8 307.3,439.9 307.5,439.2 308.1,437.8 308.7,438.3 309.0,438.0 309.3,440.1 309.7,440.1 310.0,439.9 310.3,440.8 311.0,440.4 311.7,441.7 311.8,441.8 312.0,442.5 312.2,443.8 312.3,443.8 312.5,444.2 312.7,445.7 312.8,446.1 313.0,445.9 313.2,447.4 313.3,447.5 313.7,448.2 314.1,448.9 314.5,449.2 314.9,450.1 315.2,450.4 315.6,450.9 316.0,450.8 316.2,449.8 316.4,449.9 316.6,449.1 316.9,448.8 317.1,447.8 317.3,447.8 317.5,446.7 317.6,446.1 317.7,445.2 317.8,444.6 317.9,443.9 318.0,443.6 318.1,442.6 318.2,442.4 318.3,441.4 318.5,441.2 318.6,440.6 318.7,440.0 318.8,439.4 318.9,439.2 319.0,437.7 319.0,438.0 319.1,437.0 319.2,436.5 319.3,436.0 319.4,435.6 319.5,434.5 319.6,434.0 319.7,433.9 319.8,432.4 319.9,432.4 320.0,431.7 320.7,432.4 321.3,432.5 321.4,431.4 321.5,431.3 321.6,430.8 321.6,430.4 321.7,429.1 321.8,429.1 321.9,428.0 321.9,427.4 322.0,427.1 322.1,425.6 322.2,425.7 322.3,424.9 322.3,424.2 322.5,423.4 322.7,423.4 322.9,422.2 323.1,421.8 323.3,421.2 323.5,420.9 323.7,420.0 324.2,418.9 324.8,418.8 325.3,418.3 325.4,417.6 325.5,417.1 325.6,416.7 325.7,415.5 325.8,415.4 325.9,414.3 326.0,413.8 326.1,412.9 326.2,412.5 326.3,411.9 326.4,411.8 326.5,410.8 326.7,410.3 326.8,409.2 326.9,408.5 327.0,407.9 327.2,407.5 327.2,408.2 327.3,408.8 327.4,409.6 327.5,409.4 327.6,410.7 327.7,411.5 327.8,411.7 327.8,411.8 327.9,412.7 328.0,413.0 328.1,413.7 328.2,415.1 328.2,415.3 328.3,415.8 328.5,416.6 328.7,417.4 328.9,418.1 329.1,418.4 329.3,419.0 329.5,419.6 329.7,420.0 330.2,420.9 330.8,421.3 331.3,421.7 331.6,422.6 331.8,422.6 332.0,423.9 332.3,424.3 332.5,425.0 332.7,424.7 332.9,423.3 333.1,422.8 333.4,422.0 333.6,422.4 333.8,422.0 334.0,420.8 334.2,421.7 334.5,421.9 334.7,423.1 334.9,423.7 335.1,424.0 335.4,424.3 335.6,424.9 335.8,425.8 336.0,426.3 336.1,426.8 336.3,427.6 336.4,428.4 336.6,429.4 336.7,428.9 336.9,430.2 337.0,430.1 337.2,430.8 337.3,432.3 337.5,432.5 337.9,433.1 338.2,434.2 338.6,433.9 338.9,433.7 339.3,434.8 339.7,435.5 340.2,435.1 340.7,435.2 341.2,434.7 341.7,433.3 342.3,433.1 342.9,432.7 343.5,431.8 344.2,432.5 344.2,432.0 344.3,431.0 344.4,430.3 344.5,429.6 344.5,429.0 344.6,429.0 344.7,427.9 344.8,428.1 344.8,426.6 344.9,426.8 345.0,425.8 345.3,425.8 345.6,426.2 345.8,427.8 346.1,427.7 346.4,429.0 346.7,429.2 346.9,428.1 347.1,427.3 347.3,427.6 347.5,426.9 347.7,426.5 347.9,425.7 348.1,424.3 348.3,424.2 348.5,425.0 348.8,425.7 349.0,426.0 349.2,427.2 349.4,427.0 349.6,428.5 349.8,428.8 350.0,429.2 350.2,427.9 350.5,427.3 350.8,427.5 351.0,427.1 351.2,425.5 351.5,425.2 351.8,425.1 352.0,424.2 352.2,424.3 352.5,425.8 352.7,425.8 353.0,425.8 353.2,426.8 353.4,427.6 353.7,428.0 353.9,428.9 354.2,429.2 354.9,428.1 355.6,429.3 356.3,428.3 356.5,427.5 356.6,427.2 356.8,426.5 356.9,425.6 357.1,425.0 357.2,424.8 357.4,424.3 357.5,423.5 357.7,422.5 358.2,423.0 358.7,422.9 359.2,422.9 359.7,424.2 360.2,425.5 360.8,425.2 361.4,425.7 362.0,425.3 362.5,424.5 363.1,424.6 363.6,424.9 364.1,424.1 364.7,423.0 364.9,423.8 365.1,424.0 365.4,424.8 365.6,426.1 365.9,426.1 366.1,427.1 366.3,427.5 366.7,427.0 367.1,426.9 367.5,426.1 367.8,425.0 368.1,425.3 368.3,425.5 368.6,426.5 368.8,427.3 369.0,428.1 369.3,429.0 369.5,429.7 369.8,429.1 370.0,430.3 370.6,431.2 371.2,431.3 371.9,431.5 372.5,430.8 373.0,430.7 373.6,429.8 374.1,430.7 374.7,429.7 375.1,430.7 375.5,430.9 375.9,431.8 376.3,431.3 376.7,432.0 377.1,431.8 377.5,433.1 377.9,434.0 378.3,433.5 378.8,434.9 379.2,435.0 379.6,436.3 380.0,435.7 380.4,436.8 380.8,437.5 381.2,437.7 381.7,438.3 382.2,438.2 382.7,438.6 383.2,440.0 383.7,440.5 384.2,440.3 384.6,440.8 385.0,440.6 385.4,442.4 385.8,442.8 386.2,442.4 386.7,443.3 386.8,442.8 387.0,442.6 387.2,442.1 387.3,441.0 387.5,440.4 387.7,439.9 387.8,438.9 388.0,438.3 388.2,437.7 388.3,437.5 388.8,437.3 389.2,436.2 389.6,435.9 390.0,435.1 390.4,434.8 390.8,434.2 391.3,433.1 391.8,432.4 392.3,433.8 392.8,432.2 393.3,432.0 394.0,431.2 394.6,432.6 395.2,433.0 395.8,432.5 396.2,431.4 396.5,431.5 396.8,430.6 397.2,430.3 397.5,429.7 398.1,428.9 398.8,429.2 399.4,431.6 400.0,430.8 400.6,431.4 401.2,430.4 401.9,430.4 402.5,430.0 403.0,429.2 403.5,429.9 404.0,428.8 404.5,429.6 405.0,428.3 405.5,429.3 406.0,429.9 406.5,430.7 407.0,429.9 407.5,430.8 407.8,429.6 408.1,429.2 408.3,428.5 408.6,427.8 408.9,427.1 409.2,427.2 409.4,427.9 409.6,428.9 409.9,429.0 410.1,430.3 410.4,430.9 410.6,430.4 410.8,431.7 411.2,432.4 411.5,432.7 411.8,432.9 412.2,434.8 412.5,434.7 413.1,433.8 413.8,434.1 414.4,434.0 415.0,433.3 415.3,434.6 415.6,434.7 415.8,434.8 416.1,435.5 416.4,435.6 416.7,437.4 416.9,437.9 417.2,437.4 417.5,438.3 417.8,437.0 418.1,436.8 418.4,436.3 418.7,436.6 419.0,436.0 419.4,435.3 419.7,434.2 420.0,434.1 420.2,435.8 420.5,436.3 420.8,436.8 421.1,437.8 421.4,437.1 421.7,438.3 422.1,438.3 422.5,439.9 422.9,440.7 423.3,440.9 423.7,440.8 424.2,441.7 424.9,441.6 425.6,441.7 426.3,440.8 426.6,440.9 426.8,441.8 427.1,442.4 427.3,442.8 427.6,443.9 427.8,444.1 428.1,444.9 428.3,445.8 428.5,446.1 428.8,447.5 429.0,447.4 429.2,448.7 429.6,448.5 430.0,447.1 430.4,446.3 430.8,446.7 431.3,447.9 431.7,447.2 432.1,448.9 432.5,449.3 432.9,449.9 433.3,449.7 433.5,448.6 433.6,448.4 433.8,447.4 433.9,447.7 434.1,447.0 434.2,446.1 434.4,445.3 434.5,444.6 434.7,444.2 434.8,443.9 434.9,442.9 435.0,442.4 435.1,441.3 435.2,440.7 435.3,440.0 435.4,440.0 435.5,439.2 435.8,439.8 436.2,439.7 436.5,441.4 436.8,441.0 437.2,441.8 437.5,442.5 438.1,441.8 438.8,442.2 439.4,443.6 440.0,443.0 440.4,443.2 440.8,443.3 441.2,444.4 441.7,444.6 442.1,446.1 442.5,445.8 443.1,445.2 443.8,447.3 444.4,445.5 445.0,446.7 445.4,447.9 445.8,448.1 446.2,447.8 446.7,448.9 447.1,449.1 447.5,450.0 447.8,450.1 448.2,450.5 448.5,451.3 448.8,452.8 449.2,452.5 449.8,453.5 450.5,453.3 451.2,451.3 451.8,451.6 452.5,452.0 452.7,451.9 453.0,450.1 453.2,450.4 453.5,449.2 453.7,449.4 453.9,447.5 454.2,447.5 454.3,447.2 454.4,446.0 454.6,445.2 454.7,444.4 454.8,444.6 454.9,443.6 455.1,442.6 455.2,442.2 455.3,441.7 455.6,441.7 455.9,440.1 456.2,440.1 456.4,438.9 456.7,438.4 457.0,438.3 457.1,438.0 457.2,437.4 457.3,436.2 457.4,435.5 457.5,434.9 457.6,434.9 457.7,434.2 457.8,433.3 457.9,432.7 458.0,432.5 458.0,432.0 458.1,431.5 458.2,430.7 458.3,430.0 458.4,429.1 458.4,428.4 458.4,428.4 458.5,427.5 458.5,427.2 458.6,426.0 458.6,426.1 458.6,425.0 458.7,424.9 458.7,424.3 458.7,423.4 458.8,422.3 458.8,422.5 458.9,421.6 458.9,421.3 458.9,420.2 459.0,419.5 459.0,419.2 459.0,418.8 459.0,417.8 459.1,417.0 459.1,416.6 459.1,416.1 459.1,415.0 459.1,414.8 459.1,414.1 459.2,413.6 459.2,412.9 459.8,411.7 460.4,412.1 460.5,412.9 460.6,413.7 460.7,414.3 460.9,414.4 461.0,415.4 461.1,415.7 461.2,416.7 461.3,416.6 461.4,418.1 461.5,418.3 461.6,418.1 461.6,417.1 461.7,416.5 461.7,415.9 461.8,415.3 461.8,414.2 461.9,414.5 461.9,413.2 462.0,412.5 462.0,411.8 462.1,411.3 462.1,411.3 462.2,409.9 462.2,409.4 462.3,409.3 462.3,408.2 462.4,407.4 462.4,407.4 462.5,406.7 462.6,407.4 462.7,407.9 462.8,408.7 462.9,408.6 463.1,410.1 463.2,410.5 463.3,410.4 463.4,411.1 463.5,412.1 464.6,411.7 464.7,411.0 464.8,410.4 464.9,409.6 465.0,408.8 465.1,408.4 465.2,407.5 465.3,407.4 465.4,406.7 465.7,406.5 465.9,404.9 466.2,404.8 466.4,404.3 466.7,403.3 466.8,403.6 466.9,404.9 467.0,405.6 467.1,405.6 467.3,406.2 467.4,407.3 467.5,407.5 467.6,408.2 467.7,408.6 467.7,409.8 467.8,410.3 467.9,410.5 468.0,411.0 468.0,411.7 468.1,412.4 468.2,413.6 468.3,414.1 468.4,414.8 468.4,415.3 468.5,416.0 468.6,415.8 468.7,416.9 468.8,417.5 469.4,419.0 470.0,418.8 470.3,420.0 470.6,419.4 470.9,420.2 471.2,420.8 471.4,421.6 471.6,422.0 471.7,422.8 471.9,423.0 472.0,424.0 472.2,424.8 472.3,425.4 472.4,424.4 472.4,423.9 472.5,424.0 472.5,423.3 472.6,422.8 472.6,421.9 472.7,421.5 472.7,421.0 472.8,420.4 472.8,419.0 472.8,418.9 472.9,418.0 472.9,417.8 473.0,416.8 473.0,416.4 473.1,416.2 473.1,415.3 473.2,414.6 473.8,413.7 474.4,413.8 475.0,413.3 475.1,412.7 475.2,412.6 475.3,411.3 475.4,410.7 475.6,410.5 475.7,409.3 475.8,409.2 475.9,409.0 476.0,407.9 476.1,407.3 476.2,406.5 476.2,406.1 476.3,405.5 476.4,404.5 476.5,403.9 476.6,403.3 476.7,402.8 476.8,402.3 476.8,401.6 476.9,401.0 477.0,400.2 477.1,400.0 477.2,399.4 477.3,399.0 477.4,398.2 477.5,397.5 477.5,396.9 477.6,395.8 477.7,395.7 477.8,394.8 477.9,394.2 478.0,393.6 478.0,393.1 478.1,392.3 478.1,391.6 478.2,390.9 478.3,390.3 478.3,389.9 478.4,389.2 478.4,388.8 478.5,387.6 478.5,387.4 478.6,387.2 478.7,386.0 478.7,385.7 478.8,385.1 478.8,384.3 478.9,384.3 478.9,383.1 479.0,382.9 479.1,381.7 479.1,381.0 479.2,380.8 479.4,381.9 479.7,381.9 480.0,381.9 480.3,382.9 480.6,383.5 480.8,384.2 481.0,385.0 481.2,384.9 481.3,385.6 481.5,387.1 481.7,387.4 481.8,387.2 482.0,388.1 482.2,388.7 482.3,389.6 482.5,390.0 482.8,389.7 483.2,389.6 483.5,389.0 483.8,388.0 484.2,387.5 484.2,387.1 484.3,386.6 484.4,386.0 484.5,385.1 484.6,384.8 484.6,384.1 484.7,383.7 484.8,382.4 484.9,382.5 485.0,381.1 485.0,381.2 485.1,380.4 485.2,379.8 485.3,379.6 485.4,378.6 485.4,377.9 485.5,377.7 485.6,377.2 485.7,376.3 485.8,375.5 485.8,375.0 485.9,374.3 486.0,373.7 486.1,373.3 486.2,372.3 486.2,371.8 486.3,371.3 486.4,370.5 486.5,369.8 486.6,369.7 486.7,369.1 486.8,368.1 486.8,367.4 486.9,366.6 487.0,366.1 487.1,365.3 487.2,365.0 487.2,364.5 487.3,363.9 487.4,362.8 487.5,363.0 487.6,361.8 487.6,361.8 487.7,361.2 487.8,360.7 487.9,359.3 488.0,359.0 488.0,358.9 488.1,357.4 488.2,356.8 488.3,356.7 488.4,356.1 488.4,355.9 488.5,355.2 488.6,354.3 488.7,354.2 488.8,353.1 488.8,352.5 488.9,353.1 488.9,353.9 489.0,354.2 489.0,354.8 489.1,355.6 489.2,356.0 489.2,357.2 489.3,357.5 489.3,358.0 489.4,358.2 489.4,359.0 489.5,359.7 489.5,360.4 489.6,361.1 489.6,361.9 489.7,362.6 489.7,362.8 489.8,363.4 489.8,364.1 489.9,365.1 489.9,365.1 490.0,365.8 490.1,365.2 490.2,364.9 490.4,363.6 490.5,363.1 490.6,363.2 490.8,362.4 490.9,361.5 491.0,360.4 491.1,360.6 491.2,359.8 491.4,359.3 491.5,358.9 491.6,358.1 491.8,357.0 491.9,356.1 492.0,355.8 492.2,356.1 492.5,357.0 492.7,357.6 493.0,357.8 493.2,358.4 493.4,359.6 493.7,360.0 493.8,359.5 493.9,358.6 493.9,358.7 494.0,357.7 494.1,356.5 494.2,356.3 494.3,356.1 494.4,355.0 494.5,354.8 494.6,353.5 494.7,353.2 494.8,353.1 494.9,352.3 495.0,351.7 495.1,350.7 495.1,350.4 495.2,349.8 495.3,349.2 495.4,348.3 495.5,348.1 495.6,347.4 495.7,347.3 495.8,346.2 495.9,345.5 495.9,344.6 496.0,344.0 496.1,344.0 496.2,342.7 496.3,342.1 496.4,341.6 496.5,341.3 496.5,341.0 496.6,340.2 496.7,339.8 496.8,338.5 496.9,337.8 497.0,338.0 497.1,336.9 497.1,336.7 497.2,335.7 497.3,335.0 497.4,334.4 497.5,333.7 497.6,333.9 497.7,333.0 497.7,332.1 497.8,331.7 497.9,332.2 498.0,332.8 498.1,333.0 498.2,334.5 498.3,334.8 498.4,335.8 498.5,335.9 498.5,336.7 498.6,336.9 498.7,337.3 498.8,338.8 498.9,339.4 499.0,339.4 499.1,340.6 499.2,340.8 499.3,341.8 499.5,341.8 499.6,342.8 499.8,343.8 499.9,343.9 500.1,345.0 500.2,344.8 500.4,345.6 500.5,346.5 500.7,346.6 500.8,347.5 501.2,347.7 501.5,349.1 501.8,349.0 502.2,350.0 502.5,350.0 502.6,350.4 502.7,350.9 502.8,351.7 502.9,352.1 502.9,353.5 503.0,353.5 503.1,354.4 503.2,354.5 503.3,355.6 503.4,356.0 503.5,356.7 503.6,356.9 503.6,357.6 503.7,358.9 503.8,359.1 503.9,359.6 504.0,360.1 504.1,360.8 504.2,361.7 504.3,362.0 504.4,362.4 504.6,363.7 504.7,364.0 504.9,364.4 505.0,365.6 505.1,365.6 505.3,366.4 505.4,367.7 505.6,367.5 505.7,368.5 505.8,369.2 506.2,369.2 506.5,368.7 506.8,367.1 507.2,366.9 507.5,366.7 507.8,367.5 508.2,367.5 508.5,368.9 508.8,368.2 509.2,369.2 509.7,369.5 510.3,368.1 510.8,367.5 511.1,367.7 511.3,368.5 511.6,368.7 511.8,370.0 512.0,369.9 512.3,371.4 512.5,371.5 512.8,371.8 513.0,372.5 513.1,371.6 513.1,371.4 513.2,370.4 513.2,370.4 513.3,369.0 513.4,368.8 513.4,368.2 513.5,367.3 513.5,367.1 513.6,366.1 513.6,365.8 513.7,365.1 513.8,364.2 513.8,363.6 513.9,362.7 513.9,362.2 514.0,362.2 514.0,361.1 514.1,360.8 514.2,360.0 514.2,359.0 514.3,358.9 514.4,358.1 514.4,357.6 514.5,356.8 514.6,356.0 514.6,355.6 514.7,354.9 514.8,354.2 514.8,354.2 514.9,353.2 514.9,352.7 515.0,352.6 515.1,351.8 515.1,351.3 515.2,350.7 515.3,349.4 515.3,349.2 515.5,348.3 515.6,347.5 515.7,347.6 515.8,347.0 516.0,346.1 516.1,345.5 516.2,345.2 516.4,344.7 516.5,343.6 516.6,343.7 516.7,342.5 516.9,342.3 517.0,341.2 517.1,340.5 517.2,340.8 517.4,340.0 517.5,339.2 517.6,340.0 517.7,339.9 517.8,340.6 517.9,341.3 518.0,342.0 518.1,342.7 518.2,343.4 518.3,343.7 518.4,344.6 518.5,345.6 518.6,345.7 518.8,347.0 518.9,347.4 519.0,348.1 519.1,348.3 519.2,349.2 519.3,348.5 519.3,348.1 519.4,347.2 519.5,346.2 519.6,346.4 519.7,345.8 519.8,344.7 519.9,343.8 520.0,344.0 520.0,343.1 520.1,342.0 520.2,341.5 520.3,340.8 520.4,340.9 520.5,339.7 520.6,339.8 520.7,339.0 520.7,337.7 520.8,337.5 521.3,337.6 521.8,336.6 522.3,337.0 522.8,336.8 523.3,335.8 523.7,334.9 524.0,334.1 524.3,334.9 524.7,333.5 525.0,333.7 525.3,332.5 525.6,332.2 525.8,331.6 526.0,331.2 526.2,330.3 526.4,329.5 526.6,328.4 526.9,328.7 527.1,327.7 527.3,327.3 527.5,326.7 527.6,326.4 527.6,325.1 527.7,325.0 527.7,323.7 527.8,323.7 527.8,323.2 527.9,322.1 527.9,321.7 528.0,321.5 528.0,320.5 528.1,319.8 528.1,318.9 528.2,318.1 528.2,317.8 528.3,317.2 528.3,316.7 528.4,315.8 528.4,315.3 528.4,314.5 528.4,314.4 528.5,313.7 528.5,312.8 528.5,312.1 528.6,311.8 528.6,311.1 528.6,310.9 528.6,309.8 528.7,309.1 528.7,309.0 528.7,307.8 528.8,307.5 528.8,306.7 528.8,306.5 528.8,305.7 528.9,305.2 528.9,304.4 528.9,303.5 529.0,303.3 529.0,302.6 529.1,301.9 529.1,301.5 529.2,301.0 529.2,299.7 529.3,299.2 529.4,298.6 529.4,297.9 529.5,297.1 529.5,296.7 529.6,296.0 529.6,295.8 529.7,295.0 529.7,294.4 529.7,293.5 529.7,293.0 529.8,292.6 529.8,291.9 529.8,291.1 529.8,290.4 529.9,289.8 529.9,290.0 529.9,289.2 529.9,288.0 530.0,288.0 530.0,287.6 530.0,286.7 530.0,285.7 530.1,285.4 530.1,284.7 530.1,283.9 530.1,283.6 530.2,282.6 530.2,282.8 530.2,281.9 530.2,281.3 530.3,281.0 530.3,280.1 530.3,279.2 530.3,278.6 530.4,277.9 530.4,277.2 530.4,277.2 530.4,276.7 530.5,275.6 530.5,274.9 530.5,274.7 530.5,274.3 530.6,273.8 530.6,272.5 530.6,272.2 530.6,271.8 530.6,271.3 530.6,270.6 530.6,269.7 530.7,268.9 530.7,268.9 530.7,267.9 530.7,267.3 530.7,266.8 530.7,266.1 530.7,265.9 530.7,264.8 530.7,264.0 530.8,263.9 530.8,263.3 530.8,262.9 530.8,262.2 530.8,261.7 530.8,261.2 530.8,260.2 530.8,259.6 530.8,258.7 530.8,258.2 530.9,257.9 530.9,256.9 530.9,256.8 530.9,255.7 530.9,255.4 530.9,255.2 530.9,253.9 530.9,253.2 530.9,252.9 531.0,252.1 531.0,252.0 531.0,250.8 531.0,250.9 531.0,250.0 531.0,249.7 531.0,249.0 531.0,248.1 531.1,247.4 531.1,247.1 531.1,246.3 531.1,245.6 531.1,244.9 531.1,244.4 531.2,244.0 531.2,243.5 531.2,243.0 531.2,241.7 531.2,241.2 531.2,240.7 531.3,240.2 531.3,239.4 531.3,238.7 531.3,238.3 531.3,237.3 531.3,236.9 531.3,236.4 531.4,236.2 531.4,235.6 531.4,234.9 531.4,234.4 531.4,233.8 531.4,232.9 531.4,232.4 531.5,231.2 531.5,231.1 531.5,230.4 531.5,229.5 531.5,229.1 531.5,228.8 531.6,227.8 531.6,227.4 531.6,226.4 531.6,225.9 531.6,225.7 531.6,224.4 531.6,223.9 531.7,223.7 531.7,222.9 531.7,222.0 531.7,221.7 531.7,221.2 531.7,220.4 531.7,219.9 531.7,219.2 531.7,218.6 531.7,218.0 531.7,217.3 531.7,216.4 531.7,215.9 531.7,215.8 531.7,214.9 531.7,214.0 531.7,214.0 531.8,212.8 531.8,212.1 531.8,211.8 531.8,211.0 531.8,210.6 531.8,210.0 531.8,209.1 531.8,208.8 531.8,207.8 531.8,207.5 531.8,206.9 531.8,205.9 531.8,205.5 531.8,205.0 531.8,204.0 531.8,203.7 531.8,203.5 531.8,202.6 531.9,202.1 531.9,201.5 531.9,200.4 531.9,200.5 531.9,199.6 531.9,198.5 531.9,198.5 531.9,197.5 531.9,196.7 531.9,196.8 532.0,195.8 532.0,195.4 532.0,194.2 532.0,194.1 532.0,193.3 532.0,192.3 532.0,191.8 532.1,191.3 532.1,190.4 532.1,190.3 532.1,189.3 532.2,188.8 532.2,188.5 532.2,187.6 532.2,187.4 532.3,186.5 532.3,186.1 532.3,185.2 532.4,184.9 532.4,184.2 532.4,183.0 532.4,182.9 532.5,181.9 532.5,181.7 532.5,180.8 532.5,180.3 532.6,179.9 532.6,178.6 532.6,178.2 532.7,177.9 532.7,177.5 532.7,176.7 532.8,175.5 532.8,175.4 532.8,174.3 532.8,174.1 532.9,173.7 532.9,172.5 532.9,172.6 533.0,171.8 533.0,171.0 533.0,170.1 533.1,169.5 533.1,169.1 533.2,168.8 533.2,168.0 533.3,166.9 533.4,166.2 533.4,166.0 533.5,166.2 533.6,167.5 533.8,167.5 533.9,168.5 534.0,169.0 534.0,168.2 534.0,168.0 534.0,167.1 534.1,166.3 534.1,166.3 534.1,165.4 534.1,165.0 534.1,164.5 534.1,164.0 534.1,162.6 534.1,162.3 534.2,161.5 534.2,161.2 534.2,160.9 534.2,160.0 534.2,159.6 534.2,158.4 534.3,157.9 534.3,157.8 534.3,157.1 534.3,156.2 534.3,155.7 534.4,154.8 534.4,154.8 534.4,153.8 534.4,153.5 534.5,152.7 534.5,151.6 534.5,151.2 534.5,150.5 534.5,150.5 534.6,149.6 534.6,148.5 534.6,148.3 534.6,148.6 534.7,149.4 534.7,150.1 534.7,150.8 534.8,151.3 534.8,151.9 534.8,152.2 534.9,153.3 534.9,153.7 534.9,154.0 534.9,155.0 535.0,156.1 535.0,155.9 535.0,156.6 535.1,157.7 535.1,158.0 535.1,158.6 535.2,159.4 535.2,160.0 535.2,160.4 535.3,161.3 535.3,161.9 535.3,162.9 535.4,163.5 535.4,163.3 535.4,164.4 535.4,165.2 535.5,165.9 535.5,166.4 535.5,166.9 535.6,167.5 535.6,168.0 535.6,167.3 535.7,166.6 535.7,166.5 535.8,165.9 535.8,165.4 535.8,164.6 535.9,163.6 535.9,163.4 536.0,162.8 536.0,162.0 536.2,161.3 536.4,160.8 536.6,160.0 536.7,159.2 536.7,158.8 536.8,158.0 536.9,157.1 536.9,156.7 537.0,156.1 537.0,156.1 537.1,155.0 537.1,154.4 537.2,153.6 537.2,152.9 537.3,152.3 537.3,151.7 537.3,150.9 537.4,150.2 537.4,150.3 537.5,149.3 537.5,148.7 537.5,148.2 537.6,147.3 537.6,146.6 537.7,145.9 537.7,145.4 537.7,144.8 537.8,144.6 537.8,143.8 537.9,143.5 537.9,142.5 537.9,141.7 537.9,141.6 538.0,140.7 538.0,139.6 538.0,139.1 538.0,138.8 538.0,138.5 538.1,137.4 538.1,137.1 538.1,136.2 538.1,135.9 538.1,134.6 538.2,134.4 538.2,134.1 538.2,132.9 538.2,132.3 538.2,131.5 538.3,131.0 538.3,130.4 538.3,130.0 538.3,129.6 538.3,128.6 538.3,128.1 538.3,127.3 538.4,127.1 538.4,126.7 538.4,125.9 538.4,124.9 538.4,124.8 538.4,124.4 538.4,123.5 538.4,122.4 538.5,122.5 538.5,121.9 538.5,120.9 538.5,120.1 538.5,119.5 538.5,119.2 538.5,118.9 538.5,118.1 538.6,117.8 538.6,116.6 538.6,116.1 538.6,115.8 538.6,115.0 538.6,114.5 538.6,113.7 538.6,113.3 538.6,112.4 538.6,111.6 538.6,111.2 538.6,110.3 538.6,110.2 538.6,109.3 538.7,108.8 538.7,108.3 538.7,107.4 538.7,107.0 538.7,106.0 538.7,106.1 538.7,105.2 538.7,104.9 538.7,103.6 538.7,103.3 538.7,102.8 538.7,102.3 538.7,101.3 538.8,100.5 538.8,100.0 538.8,99.4 538.8,99.3 538.8,98.1 538.8,98.1 538.9,97.2 538.9,96.7 538.9,96.1 538.9,95.5 538.9,95.0 538.9,94.3 539.0,93.5 539.0,93.3 539.0,92.2 539.0,92.0 539.0,91.5 539.0,90.9 539.0,89.9 539.1,89.7 539.1,89.2 539.1,88.2 539.1,87.4 539.1,87.0 539.1,86.8 539.2,85.5 539.2,84.8 539.2,84.6 539.2,84.0 539.3,83.5 539.5,83.0 539.6,81.8 539.7,81.9 539.9,80.4 540.0,80.0 540.1,79.6 540.1,78.4 540.2,77.8 540.2,77.3 540.3,76.6 540.3,76.4 540.4,75.9 540.4,74.9 540.5,75.0 540.5,73.9 540.6,73.1 540.6,72.5 540.7,72.4 540.7,72.0 540.8,71.0 540.8,70.1 540.8,69.4 540.8,69.4 540.8,68.3 540.9,68.3 540.9,67.3 540.9,66.8 540.9,66.0 540.9,65.8 540.9,64.9 540.9,64.1 540.9,64.0 540.9,62.7 541.0,62.6 541.0,61.5 541.0,61.3 541.0,60.5 541.0,60.0 541.2,59.8 541.4,58.2 541.6,58.2 541.8,57.5 541.8,56.8 541.8,56.6 541.9,56.0 541.9,55.1 541.9,54.2 541.9,53.6 541.9,53.0 542.0,52.5 542.0,51.7 542.0,51.1 542.0,50.9 542.1,50.2 542.1,49.3 542.1,49.3 542.1,48.0 542.1,47.7 542.2,46.7 542.2,46.7 542.2,45.8 542.2,45.5 542.3,44.3 542.3,44.1 542.4,43.6 542.4,42.4 542.4,41.8 542.5,41.4 542.5,41.1 542.6,39.8 542.6,39.6 542.6,38.9 542.7,38.2 542.7,37.6 542.8,37.3 542.8,36.3 542.8,36.7 542.9,37.8 542.9,38.0 542.9,39.0 542.9,39.6 543.0,39.6 543.0,40.8 543.0,41.6 543.0,41.6 543.1,41.9 543.1,42.6 543.1,44.0 543.1,43.7 543.2,45.1 543.2,45.0 543.2,46.2 543.2,46.2 543.3,46.9 543.3,47.9 543.3,48.0 543.3,48.8 543.4,49.9 543.4,50.4 543.4,51.1 543.4,51.8 543.5,51.6 543.5,52.4 543.5,53.4 543.5,54.0 543.6,54.0 543.6,55.0 543.6,55.6 543.6,56.0 543.7,56.7 543.7,57.1 543.7,57.6 543.7,59.0 543.8,59.0 543.8,60.1 543.8,60.1 543.8,61.0 543.9,61.3 543.9,62.1 543.9,62.5 543.9,63.6 544.0,63.7 544.0,64.8 544.0,65.2 544.0,65.5 544.1,66.3 544.1,67.0 544.1,68.0 544.1,68.1 544.2,68.6 544.2,69.8 544.2,70.0 544.2,70.9 544.2,71.4 544.3,71.6 544.3,72.1 544.3,72.8 544.3,73.3 544.3,73.8 544.3,74.8 544.4,75.4 544.4,76.1 544.4,76.5 544.4,76.8 544.4,78.0 544.4,78.6 544.5,79.1 544.5,79.7 544.5,80.4 544.5,81.3 544.5,81.8 544.5,82.3 544.6,82.6 544.6,83.1 544.6,83.8 544.6,84.9 544.6,85.0 544.6,85.6 544.7,86.2 544.7,86.6 544.7,87.9 544.7,87.7 544.7,88.8 544.8,89.7 544.8,89.7 544.8,90.6 544.8,91.0 544.8,91.5 544.8,92.1 544.9,92.6 544.9,93.8 544.9,94.4 544.9,95.1 544.9,95.0 544.9,96.1 545.0,96.4 545.0,97.3 545.0,97.8 545.0,98.2 545.0,99.4 545.0,99.1 545.1,100.4 545.1,101.1 545.1,101.4 545.1,102.1 545.1,103.0 545.1,103.0 545.2,103.9 545.2,104.6 545.2,105.0 545.2,104.3 545.2,104.0 545.2,103.1 545.2,102.6 545.2,102.1 545.2,101.5 545.2,100.6 545.3,100.3 545.3,99.6 545.3,98.7 545.3,98.5 545.3,97.6 545.3,97.5 545.3,96.5 545.3,96.1 545.3,95.4 545.3,94.7 545.3,93.9 545.3,93.2 545.3,93.3 545.3,92.4 545.4,91.7 545.4,91.1 545.4,90.8 545.4,89.7 545.4,89.0 545.4,89.0 545.4,88.1 545.4,87.6 545.4,87.2 545.4,86.6 545.4,86.0 545.4,84.7 545.4,84.4 545.4,84.2 545.4,83.5 545.5,82.4 545.5,81.8 545.5,81.3 545.5,80.5 545.5,80.1 545.5,79.9 545.5,79.1 545.5,78.4 545.5,77.5 545.5,77.2 545.5,77.0 545.5,76.2 545.5,75.4 545.5,74.8 545.6,74.5 545.6,73.8 545.6,72.7 545.6,72.6 545.6,71.7 545.6,71.2 545.6,70.4 545.6,70.0 545.6,69.3 545.6,68.7 545.6,68.1 545.6,67.2 545.6,66.7 545.6,66.4 545.6,65.4 545.6,64.9 545.6,64.7 545.6,63.7 545.6,63.2 545.6,62.5 545.6,62.4 545.7,61.2 545.7,61.0 545.7,60.6 545.7,59.4 545.7,59.0 545.7,58.7 545.7,57.9 545.7,57.1 545.7,56.3 545.7,56.0 545.7,55.3 545.7,55.0 545.7,54.0 545.7,53.5 545.7,53.1 545.7,52.6 545.7,51.7 545.7,51.1 545.7,50.6 545.7,50.3 545.7,49.1 545.7,49.1 545.7,48.3 545.7,47.4 545.7,47.1 545.7,46.2 545.7,45.4 545.8,45.3 545.8,44.4 545.8,43.9 545.8,43.3 545.8,43.0 545.8,42.3 545.8,41.1 545.8,40.9 545.8,40.2 545.8,39.6 545.8,39.3 545.8,38.3 545.8,37.8 545.8,37.2 545.8,38.2 545.9,38.4 545.9,39.1 545.9,39.7 545.9,40.6 546.0,41.1 546.0,41.8 546.0,42.2 546.0,42.5 546.1,43.7 546.1,44.2 546.1,45.0 546.1,45.7 546.2,45.7 546.2,46.7 546.2,47.1 546.2,47.6 546.2,48.8 546.2,48.8 546.3,49.4 546.3,50.6 546.3,51.0 546.3,51.2 546.3,52.3 546.3,53.0 546.3,53.4 546.3,53.7 546.3,54.8 546.3,55.2 546.4,55.9 546.4,56.9 546.4,57.3 546.4,58.0 546.4,58.3 546.4,58.6 546.4,59.4 546.4,60.2 546.4,60.4 546.4,61.8 546.4,61.9 546.4,62.5 546.4,63.1 546.4,63.7 546.4,64.8 546.5,65.2 546.5,65.8 546.5,66.3 546.5,66.7 546.5,67.5 546.5,68.6 546.5,69.1 546.5,69.8 546.5,69.9 546.5,70.5 546.5,71.0 546.5,72.0 546.5,72.6 546.5,73.1 546.5,73.8 546.5,74.4 546.5,75.1 546.5,75.5 546.5,76.4 546.5,76.6 546.5,77.7 546.5,78.0 546.5,78.2 546.5,79.1 546.5,79.8 546.5,80.3 546.5,81.1 546.5,81.5 546.5,82.0 546.5,83.0 546.5,83.2 546.5,84.2 546.5,84.8 546.5,85.3 546.5,85.8 546.5,86.8 546.5,87.0 546.5,87.9 546.5,87.8 546.5,88.7 546.5,89.5 546.5,89.6 546.5,90.9 546.5,90.9 546.5,91.9 546.5,92.1 546.5,93.3 546.5,93.6 546.5,94.4 546.5,94.8 546.5,95.5 546.5,96.1 546.5,96.4 546.5,97.0 546.5,98.1 546.5,98.1 546.5,99.3 546.5,99.4 546.5,99.9 546.5,100.5 546.5,101.6 546.5,102.4 546.5,102.5 546.5,103.3 546.5,103.6 546.5,104.7 546.5,105.1 546.5,105.3 546.5,105.8 546.5,107.0 546.5,107.0 546.5,108.3 546.5,108.4 546.5,109.0 546.5,109.9 546.5,110.3 546.5,111.0 546.5,111.3 546.5,112.5 546.5,112.7 546.5,113.7 546.5,113.7 546.5,114.8 546.5,115.6 546.5,115.7 546.5,116.0 546.5,117.0 546.5,117.5 546.5,118.3 546.5,118.6 546.5,119.5 546.5,119.7 546.5,120.6 546.5,121.4 546.5,121.8 546.5,122.6 546.5,122.8 546.5,123.9 546.5,124.0 546.5,125.2 546.5,125.9 546.5,126.4 546.5,126.7 546.5,127.1 546.5,127.8 546.5,128.7 546.5,129.1 546.5,130.1 546.5,130.0 546.5,130.9 546.5,131.8 546.5,132.2 546.5,132.8 546.5,133.0 546.5,133.7 546.5,134.4 546.5,135.5 546.5,136.1 546.5,136.2 546.4,137.3 546.4,137.2 546.4,138.3 546.4,139.2 546.4,139.3 546.4,140.4 546.4,140.8 546.4,140.9 546.4,141.7 546.4,142.4 546.4,142.9 546.4,143.9 546.4,144.0 546.4,145.1 546.4,145.3 546.4,145.8 546.4,146.8 546.4,147.0 546.4,148.0 546.4,148.8 546.4,149.2 546.4,149.7 546.4,150.0 546.4,151.0 546.4,151.2 546.4,152.3 546.4,152.5 546.4,153.4 546.4,153.9 546.4,154.5 546.4,155.3 546.4,155.8 546.4,154.9 546.5,154.3 546.5,154.4 546.6,153.2 546.6,153.0 546.6,152.5 546.7,151.5 546.7,150.6 546.8,149.9 546.8,150.0 546.8,148.7 546.9,148.4 546.9,147.9 546.9,146.9 547.0,146.6 547.0,145.7 547.1,145.4 547.1,144.8 547.1,144.0 547.2,143.3 547.2,142.8 547.3,142.0 547.3,141.7 548.3,141.7 548.4,142.0 548.4,142.7 548.5,143.9 548.5,144.2 548.6,145.2 548.7,145.0 548.7,146.5 548.8,146.7 549.1,147.3 549.4,148.4 549.7,148.7 550.0,149.2 550.1,150.0 550.1,150.2 550.2,151.3 550.3,151.4 550.3,152.1 550.4,152.5 550.5,153.5 550.5,154.2 550.6,154.6 550.7,155.8 550.7,155.7 550.8,156.7 550.9,157.4 551.0,157.7 551.1,158.7 551.2,159.5 551.2,160.1 551.3,160.0 551.4,160.9 551.5,161.8 551.6,162.9 551.7,163.0 551.7,163.3 551.7,164.4 551.7,165.1 551.8,165.8 551.8,166.1 551.8,167.1 551.8,167.5 551.9,166.9 551.9,166.7 552.0,165.2 552.0,165.5 552.1,164.4 552.2,163.8 552.2,162.9 552.3,162.5 552.3,162.3 552.4,161.7 552.5,160.6 552.5,160.2 552.6,159.4 552.7,158.8 552.7,158.2 552.8,157.7 552.8,157.8 552.9,156.7 553.0,156.5 553.0,155.7 553.1,154.8 553.1,154.2 553.2,153.8 553.2,153.3 553.3,152.6 553.3,151.8 553.4,150.8 553.5,150.6 553.5,150.1 553.6,149.5 553.6,148.2 553.7,148.2 553.7,147.2 553.8,146.7 553.8,145.8 553.9,145.9 553.9,145.0 554.0,144.5 554.0,143.3 554.1,143.4 554.1,142.9 554.2,142.2 554.2,141.5 554.2,140.9 554.3,140.3 554.3,139.5 554.4,138.8 554.4,138.5 554.5,137.9 554.5,137.4 554.6,136.2 554.6,135.8 554.6,135.6 554.7,134.6 554.7,134.3 554.8,133.0 554.8,133.1 554.8,132.3 554.9,131.2 554.9,131.1 555.0,129.9 555.0,129.3 555.0,128.9 555.1,128.1 555.1,127.7 555.2,127.4 555.2,126.6 555.2,126.0 555.3,125.1 555.3,124.8 555.4,124.2 555.4,123.3 555.4,122.8 555.4,122.4 555.5,121.7 555.5,120.7 555.5,119.8 555.5,119.6 555.6,119.1 555.6,118.1 555.6,117.6 555.6,117.2 555.7,116.5 555.7,115.2 555.7,115.0 555.7,114.4 555.7,113.3 555.7,112.8 555.7,112.7 555.7,111.7 555.7,111.3 555.6,110.5 555.6,109.8 555.6,109.0 555.6,108.5 555.6,108.3 555.6,107.4 555.6,106.7 555.7,105.9 555.8,105.0 555.9,104.6 556.0,104.4 556.1,103.5 556.2,103.1 556.2,102.6 556.3,101.3 556.4,101.3 556.5,100.0 556.6,100.2 556.7,99.2 556.8,99.5 556.8,100.2 556.9,101.5 557.0,101.6 557.0,102.1 557.1,103.3 557.2,103.7 557.2,104.6 557.3,104.7 557.4,105.4 557.4,106.5 557.5,106.7 557.5,107.3 557.5,108.3 557.6,108.2 557.6,109.4 557.6,109.4 557.6,110.4 557.7,110.5 557.7,111.3 557.7,112.5 557.7,112.7 557.8,113.6 557.8,113.8 557.8,114.4 557.8,114.8 557.9,115.8 557.9,116.7 557.9,117.0 558.0,117.6 558.1,118.1 558.1,119.2 558.2,119.8 558.3,120.0 558.3,120.8 558.4,120.9 558.4,122.0 558.4,122.5 558.5,123.5 558.5,123.6 558.5,124.5 558.5,125.1 558.6,125.5 558.6,126.3 558.6,127.0 558.7,127.9 558.7,128.1 558.7,128.6 558.8,129.8 558.8,130.0 559.1,129.9 559.3,131.6 559.6,131.7 559.6,132.5 559.7,133.0 559.7,133.6 559.7,134.5 559.8,135.2 559.8,135.7 559.8,136.4 559.8,136.4 559.9,137.3 559.9,137.8 559.9,139.1 560.0,139.7 560.0,140.0 560.2,140.2 560.4,141.4 560.6,142.0 560.8,142.5 560.8,142.7 560.8,143.7 560.8,144.6 560.8,145.1 560.9,145.4 560.9,146.5 560.9,146.7 560.9,147.5 560.9,148.1 560.9,149.1 560.9,149.5 561.0,150.3 561.0,150.8 561.0,151.2 561.0,152.3 561.0,152.5 561.1,153.4 561.2,154.0 561.4,154.2 561.5,154.7 561.6,155.8 561.7,156.7 561.9,157.3 562.0,157.5 562.1,158.3 562.1,158.6 562.1,159.5 562.2,160.4 562.2,160.4 562.2,161.5 562.2,161.7 562.2,162.4 562.2,162.8 562.3,163.6 562.3,164.3 562.3,165.0 562.3,166.0 562.3,166.6 562.4,166.6 562.4,167.3 562.4,168.5 562.4,168.4 562.4,169.2 562.5,169.9 562.5,170.2 562.5,171.0 562.5,171.7 562.6,172.3 562.6,173.4 562.6,173.4 562.6,174.0 562.6,175.2 562.7,175.4 562.7,176.4 562.7,176.7 562.7,177.5 562.8,178.2 562.8,178.4 562.9,178.9 562.9,180.1 563.0,180.5 563.0,181.2 563.1,182.0 563.1,182.7 563.2,182.9 563.2,183.6 563.3,184.7 563.3,185.0 563.4,185.7 563.4,186.1 563.5,187.1 563.5,187.4 563.6,188.5 563.6,188.4 563.7,189.8 563.7,190.2 563.8,190.8 563.9,191.3 564.1,192.6 564.2,192.4 564.4,193.0 564.5,193.4 564.7,194.6 564.9,195.5 565.0,195.8 565.0,196.5 565.0,196.9 565.0,197.9 565.0,197.9 565.0,198.6 565.0,199.5 565.0,200.4 565.0,200.7 565.1,201.4 565.1,202.0 565.1,202.3 565.1,203.4 565.1,203.8 565.1,204.1 565.1,204.7 565.1,205.7 565.1,206.0 565.1,206.5 565.1,206.9 565.1,208.1 565.1,208.4 565.1,209.0 565.1,209.8 565.2,210.6 565.2,210.5 565.2,211.3 565.2,211.7 565.2,212.6 565.2,213.2 565.2,214.1 565.2,214.6 565.2,215.1 565.2,215.6 565.2,216.3 565.2,216.7 565.3,217.7 565.3,218.3 565.3,218.9 565.3,219.0 565.3,220.0 565.3,220.7 565.3,221.1 565.3,222.0 565.3,222.6 565.3,223.1 565.3,223.7 565.3,224.2 565.4,225.0 565.4,225.0 565.4,226.1 565.4,226.7 565.4,227.2 565.4,227.5 565.4,228.3 565.5,228.5 565.6,229.6 565.6,230.4 565.7,230.5 565.8,231.0 565.9,231.6 566.0,232.1 566.0,233.3 566.1,234.2 566.2,234.6 566.3,234.8 566.3,235.7 566.4,235.7 566.5,236.7 566.5,237.6 566.5,237.8 566.5,238.2 566.5,239.3 566.5,239.5 566.6,240.3 566.6,240.7 566.6,241.6 566.6,242.3 566.6,243.2 566.6,243.2 566.6,244.4 566.6,244.5 566.6,245.2 566.6,246.1 566.6,246.5 566.7,247.1 566.7,248.0 566.7,248.3 566.7,249.4 566.7,249.5 566.7,250.4 566.7,250.1 566.8,249.5 566.8,248.6 566.9,247.6 566.9,247.6 566.9,246.3 567.0,246.2 567.0,245.5 567.1,244.6 567.1,244.5 567.1,243.9 567.2,243.2 567.2,242.4 567.3,241.9 567.3,241.4 567.3,240.5 567.4,240.4 567.4,240.0 567.5,239.2 567.5,238.3 567.5,239.3 567.5,239.4 567.6,240.5 567.6,240.3 567.6,241.3 567.6,241.6 567.7,242.5 567.7,243.3 567.7,243.9 567.7,244.3 567.8,244.8 567.8,245.3 567.8,246.1 567.8,246.6 567.9,247.1 567.9,248.2 567.9,248.6 567.9,249.1 568.0,249.5 568.0,250.6 568.0,251.0 568.1,251.3 568.1,252.0 568.2,252.9 568.3,253.6 568.3,254.5 568.4,254.9 568.5,255.7 568.6,256.3 568.6,256.7 568.7,257.3 568.8,257.3 568.8,258.0 568.9,258.9 569.0,259.0 569.0,260.5 569.1,261.0 569.2,261.5 569.2,261.8 569.3,262.5 569.4,262.9 569.4,264.0 569.5,265.0 569.6,264.9 569.6,265.3 569.7,266.0 569.8,266.8 569.9,268.0 569.9,268.5 570.0,268.8 570.1,269.1 570.1,269.7 570.2,270.3 570.3,271.6 570.3,271.9 570.4,273.0 570.5,273.6 570.5,274.1 570.6,274.4 570.6,275.0 570.7,275.9 570.8,275.9 570.8,276.5 570.9,277.5 570.9,278.1 571.0,278.4 571.0,279.0 571.1,279.4 571.1,280.9 571.2,281.3 571.2,282.1 571.2,282.8 571.3,282.9 571.4,283.8 571.4,284.0 571.5,285.0 571.5,285.7 571.6,285.6 571.6,286.1 571.7,286.9 571.7,287.8 571.7,288.5 571.8,288.9 571.8,289.2 571.8,290.6 571.9,291.2 571.9,291.5 571.9,291.8 572.0,293.2 572.0,293.5 572.0,293.7 572.1,294.5 572.1,295.4 572.1,296.3 572.2,296.6 572.2,297.2 572.3,296.7 572.4,295.7 572.5,295.1 572.6,295.2 572.7,294.0 572.8,293.1 572.9,293.0 573.0,291.9 573.1,291.3 573.2,291.0 573.3,290.5 573.4,289.9 573.5,289.4 573.6,288.5 573.7,287.5 573.8,287.6 573.9,286.7 574.0,285.6 574.1,285.5 574.1,284.8 574.2,284.4 574.3,283.9 574.4,282.8 574.5,282.6 574.6,282.0 574.6,281.2 574.7,280.2 574.8,280.0 574.8,281.0 574.9,281.3 574.9,281.4 575.0,282.2 575.0,283.5 575.0,283.4 575.1,284.2 575.1,285.1 575.2,285.8 575.2,286.2 575.2,286.9 575.3,286.9 575.3,287.6 575.4,289.0 575.4,289.4 575.4,289.3 575.5,290.0 575.5,290.7 575.6,292.0 575.6,292.2 575.7,291.3 575.8,291.2 576.0,290.9 576.1,290.0 576.2,289.7 576.3,288.3 576.5,287.6 576.6,286.9 576.7,287.1 576.8,285.8 577.0,286.1 577.1,285.2 577.2,284.4 577.2,284.8 577.3,285.9 577.3,286.0 577.4,287.0 577.4,287.2 577.5,288.5 577.5,289.2 577.5,289.9 577.6,289.7 577.6,291.1 577.7,291.4 577.7,292.3 577.8,292.7 577.8,293.3 577.9,294.0 578.0,294.6 578.1,295.4 578.1,295.3 578.2,295.8 578.3,296.9 578.4,297.3 578.5,298.0 578.6,298.2 578.6,299.5 578.7,299.4 578.8,300.8 578.9,301.1 578.9,302.0 579.0,302.3 579.0,302.6 579.0,303.7 579.1,303.9 579.1,304.7 579.2,305.1 579.2,306.5 579.2,306.7 579.3,307.2 579.3,307.5 579.4,308.7 579.4,309.5 579.4,310.1 579.5,310.0 579.5,311.0 579.6,311.5 579.7,312.1 579.7,313.1 579.8,313.2 579.9,314.2 580.0,315.2 580.0,315.7 580.1,315.5 580.2,316.2 580.3,316.9 580.4,318.1 580.4,318.6 580.5,319.2 580.6,319.7 580.7,320.3 580.8,321.1 580.8,321.7 580.9,322.4 580.9,323.3 581.0,323.7 581.0,324.4 581.1,325.1 581.1,325.6 581.1,326.1 581.2,326.1 581.2,327.3 581.3,328.1 581.3,328.3 581.4,329.3 581.4,329.3 581.5,330.6 581.5,330.7 581.6,331.6 581.6,331.8 581.6,332.4 581.7,333.1 581.7,333.7 581.8,334.1 581.8,335.0 581.9,336.1 581.9,336.4 582.0,337.3 582.0,337.5 582.1,337.1 582.1,336.6 582.2,336.1 582.3,335.3 582.3,334.2 582.4,333.6 582.4,333.2 582.5,332.2 582.6,331.8 582.6,331.8 582.7,331.2 582.8,330.0 582.8,329.8 582.9,329.2 583.0,328.7 583.0,328.0 583.1,327.2 583.2,326.2 583.2,326.2 583.3,325.1 583.3,324.8 583.4,324.0 583.5,323.5 583.5,323.3 583.6,321.9 583.7,321.7 584.4,322.0 585.1,322.6 585.8,322.5 585.9,323.2 586.0,324.2 586.1,324.2 586.2,325.4 586.3,325.8 586.4,326.7 586.4,326.4 586.5,327.1 586.6,327.8 586.7,329.1 586.8,328.8 586.9,329.6 587.0,330.7 587.1,331.6 587.1,331.4 587.2,332.3 587.3,333.1 587.4,333.7 587.5,334.2 587.6,335.0 587.6,335.6 587.7,335.7 587.7,336.3 587.8,336.7 587.8,337.9 587.9,338.1 587.9,338.7 588.0,340.0 588.0,340.3 588.1,340.9 588.1,341.5 588.2,342.1 588.2,342.7 588.3,343.0 588.4,343.4 588.4,344.0 588.5,344.5 588.5,345.4 588.6,345.8 588.6,346.4 588.7,347.4 588.7,348.4 588.8,348.7 588.8,349.2 589.0,349.5 589.1,350.7 589.2,350.6 589.3,351.1 589.4,351.9 589.5,352.6 589.7,353.3 589.8,352.9 589.9,352.1 590.0,351.8 590.1,350.5 590.2,350.8 590.3,349.5 590.4,349.4 590.5,348.0 590.6,348.2 590.7,347.0 590.8,346.7 591.0,347.7 591.1,348.3 591.2,348.7 591.4,348.9 591.5,349.2 591.7,350.1 591.8,351.5 591.9,351.3 592.1,352.5 592.2,353.0 592.4,353.7 592.5,354.2 592.6,354.4 592.8,355.0 592.9,355.6 593.0,357.2 593.2,357.1 593.3,358.0 593.4,358.5 593.6,358.8 593.7,359.2 593.8,359.8 593.9,361.3 594.1,361.1 594.2,362.7 594.3,362.6 594.5,363.6 594.6,363.6 594.7,364.9 594.9,364.9 595.0,365.8 595.1,365.0 595.2,364.6 595.3,363.5 595.4,363.0 595.5,362.9 595.6,361.7 595.6,361.2 595.7,360.9 595.8,360.0 596.3,359.8 596.8,360.0 597.3,360.4 597.8,361.1 598.3,361.7 598.8,361.0 599.3,361.1 599.8,360.4 600.3,360.0 600.4,361.0 600.5,360.7 600.6,362.0 600.7,362.7 600.8,362.7 601.0,363.1 601.1,364.1 601.2,364.4 601.3,365.3 601.4,366.2 601.5,366.1 601.6,366.7 601.7,367.7 601.8,368.0 601.9,368.6 602.0,369.5 602.1,369.7 602.2,370.3 602.3,371.2 602.4,371.9 602.5,372.5 602.6,373.6 602.7,373.8 602.9,373.8 603.0,374.6 603.1,375.7 603.2,376.1 603.3,377.1 603.5,377.8 603.6,378.3 603.7,378.0 603.8,379.5 603.9,379.7 604.0,380.0 604.2,380.5 604.3,381.8 604.4,381.7 604.5,382.2 604.6,383.0 604.8,384.3 604.9,384.4 605.0,385.0 605.2,385.9 605.3,385.7 605.5,386.8 605.7,387.3 605.8,387.8 606.0,388.9 606.2,389.2 606.3,390.0 606.4,390.2 606.5,391.7 606.6,391.8 606.6,392.1 606.7,392.6 606.8,393.8 606.9,394.3 607.0,394.4 607.0,395.5 607.1,396.4 607.2,396.8 607.3,397.1 607.3,397.9 607.4,398.7 607.5,399.2 607.7,398.8 607.9,397.5 608.1,397.7 608.3,397.3 608.5,396.4 608.7,396.0 608.9,394.8 609.1,394.8 609.3,393.3 609.5,392.8 609.7,392.5 609.8,392.0 610.0,391.7 610.2,390.1 610.3,389.7 610.5,388.8 610.7,388.7 610.8,387.7 611.0,387.1 611.2,387.2 611.3,386.3 611.5,386.1 611.7,385.0 611.8,384.3 611.9,383.9 612.0,382.6 612.1,383.0 612.2,381.6 612.3,381.2 612.4,380.6 612.6,380.5 612.7,379.4 612.8,379.3 612.9,378.3 613.0,377.5 613.1,377.8 613.2,379.0 613.2,379.0 613.3,380.4 613.4,380.4 613.5,380.8 613.6,382.1 613.7,382.1 613.8,382.8 613.8,383.3 613.9,384.2 614.0,384.2 614.1,385.1 614.2,385.8 614.8,384.7 615.3,385.0 615.4,385.9 615.5,385.7 615.6,386.9 615.7,387.2 615.8,388.0 615.9,388.7 616.0,389.5 616.0,389.5 616.1,390.2 616.2,390.7 616.3,392.2 616.4,392.0 616.5,392.6 616.6,393.6 616.7,394.2 616.9,394.9 617.1,395.9 617.4,395.3 617.6,396.2 617.9,396.7 618.1,397.9 618.3,398.3 618.5,398.9 618.8,399.5 619.0,400.7 619.2,401.0 619.4,401.9 619.6,402.7 619.8,402.4 620.0,403.3 620.3,404.6 620.6,404.4 620.9,404.5 621.1,406.3 621.4,405.7 621.7,406.2 622.0,407.5 622.4,407.6 622.8,408.1 623.1,409.7 623.5,410.0 623.9,409.7 624.3,410.4 624.7,410.8 624.8,410.6 624.9,409.9 625.1,409.1 625.2,408.3 625.3,407.2 625.4,406.7 625.6,406.5 625.7,405.7 625.8,405.0 625.9,404.7 625.9,404.1 625.9,403.6 625.9,402.3 626.0,401.6 626.0,401.7 626.0,400.8 626.1,399.9 626.1,399.7 626.1,398.8 626.1,398.1 626.2,397.6 626.2,397.2 626.2,396.7 626.3,395.6 626.3,395.6 626.3,394.9 626.4,394.1 626.4,393.7 626.4,393.2 626.4,391.9 626.5,391.7 626.5,391.3 626.5,390.7 626.6,390.0 626.6,389.0 626.6,389.1 626.6,388.4 626.7,387.5 626.9,387.8 627.2,388.7 627.5,390.1 627.7,389.8 628.0,390.8 628.0,390.1 628.1,390.0 628.1,389.3 628.1,388.1 628.1,388.0 628.2,387.0 628.2,386.7 628.2,386.1 628.3,385.0 628.3,384.4 628.3,383.8 628.3,383.2 628.4,382.4 628.4,381.9 628.4,381.5 628.5,380.9 628.5,380.0 628.5,379.8 628.6,379.5 628.6,378.6 628.6,377.8 628.6,377.5 628.7,376.7 628.7,376.0 628.8,375.1 628.9,374.7 629.0,373.6 629.1,373.6 629.1,372.5 629.2,372.1 629.3,372.0 629.4,371.2 629.4,370.6 629.5,369.8 629.6,369.1 629.7,368.3 629.8,369.2 629.9,370.1 630.1,369.9 630.2,371.2 630.3,371.4 630.4,372.0 630.6,373.2 630.7,373.6 630.8,374.2 630.9,373.9 631.0,373.4 631.2,372.4 631.3,371.4 631.4,370.6 631.5,370.6 631.6,370.2 631.7,369.1 631.8,368.3 631.9,367.6 632.0,367.5 632.2,367.7 632.4,368.9 632.6,368.7 632.8,369.5 633.0,370.2 633.1,371.3 633.3,371.7 633.4,372.8 633.5,372.5 633.5,373.2 633.6,374.6 633.7,375.3 633.7,375.2 633.8,376.0 633.8,376.8 633.9,377.3 634.0,378.0 634.0,378.7 634.1,379.1 634.2,380.0 634.2,378.9 634.3,378.3 634.4,377.8 634.5,377.1 634.5,377.0 634.6,376.4 634.7,375.4 634.8,375.3 634.8,374.6 634.9,373.6 635.0,373.1 635.0,372.2 635.1,372.3 635.2,371.3 635.3,370.2 635.3,370.0 635.8,370.0 636.2,371.4 636.7,371.7 636.7,372.2 636.8,373.1 636.9,373.3 636.9,374.5 637.0,375.1 637.1,375.0 637.2,376.1 637.2,376.4 637.3,377.5 637.4,378.2 637.4,378.8 637.5,379.2 637.8,379.2 638.2,379.5 638.5,380.9 638.8,381.3 639.2,381.7 639.2,381.9 639.3,382.6 639.4,383.6 639.5,383.7 639.5,384.8 639.6,385.0 639.7,385.7 639.8,386.4 639.8,387.2 639.9,387.9 640.0,388.3 640.6,387.1 641.1,388.3 641.7,387.5 641.7,386.6 641.8,386.0 641.9,385.8 642.0,385.2 642.0,384.5 642.1,384.1 642.2,382.8 642.2,382.3 642.3,382.0 642.4,381.0 642.5,380.3 642.5,379.7 642.6,379.6 642.7,379.1 642.8,378.3 642.8,377.5 643.3,377.7 643.7,376.9 644.2,375.8 644.5,374.9 644.8,374.3 645.2,374.3 645.5,373.3 645.6,373.5 645.7,374.7 645.8,374.7 645.9,375.3 646.0,376.4 646.1,376.6 646.2,378.0 646.3,378.6 646.5,378.7 646.6,379.1 646.7,380.0 646.8,380.2 646.9,381.3 647.0,381.9 647.1,382.4 647.2,383.4 647.3,383.8 647.4,384.7 647.5,384.6 647.6,385.2 647.7,386.1 647.8,386.9 647.9,387.2 648.0,388.3 648.1,388.5 648.2,389.2 648.3,390.0 648.9,389.4 649.4,389.3 650.0,388.3 650.2,389.3 650.5,389.3 650.7,390.0 651.0,391.3 651.2,391.9 651.4,392.1 651.7,392.5 651.9,392.6 652.1,393.6 652.3,394.4 652.5,394.5 652.7,394.8 652.9,396.6 653.1,397.1 653.3,396.7 653.5,397.7 653.7,398.3 653.9,399.1 654.1,399.3 654.3,399.7 654.5,401.2 654.7,401.8 654.9,402.0 655.1,402.2 655.3,403.3 655.8,402.6 656.2,401.5 656.7,401.7 656.9,402.9 657.1,402.3 657.3,403.2 657.6,404.5 657.8,404.2 658.0,405.3 658.1,404.3 658.3,403.7 658.4,403.2 658.5,403.0 658.6,402.7 658.8,401.4 658.9,400.8 659.0,400.9 659.2,400.0 659.3,399.3 659.4,398.6 659.5,397.7 659.6,397.2 659.7,397.4 659.8,395.8 659.9,395.4 660.1,395.3 660.2,394.8 660.3,394.2 660.4,393.1 660.5,392.5 660.6,393.6 660.7,393.8 660.7,394.1 660.8,394.9 660.9,395.8 661.0,396.4 661.0,396.4 661.1,397.1 661.2,398.5 661.3,398.2 661.4,399.5 661.4,399.7 661.5,400.2 661.6,400.8 661.7,401.7 661.8,402.3 661.8,403.4 661.9,403.2 662.0,404.5 662.1,404.6 662.2,405.1 662.2,406.3 662.3,406.5 662.4,407.0 662.5,407.8 662.6,408.9 662.7,409.5 662.8,409.9 662.8,409.9 662.9,411.3 663.0,411.7 663.4,411.3 663.8,411.2 664.2,410.0 664.7,411.4 665.3,410.8 665.8,411.7 666.0,412.7 666.2,413.3 666.5,413.2 666.7,414.0 666.9,414.6 667.1,415.2 667.3,415.9 667.5,416.7 667.7,416.7 668.0,417.5 668.2,419.0 668.5,418.9 668.7,419.8 668.9,420.8 669.2,420.8 669.7,421.9 670.3,421.5 670.8,422.5 670.9,423.6 671.0,424.0 671.2,424.8 671.3,425.2 671.4,425.8 671.5,426.5 671.6,426.5 671.7,427.5 671.8,427.8 671.9,428.9 672.0,429.2 672.2,429.3 672.5,430.5 672.8,430.8 673.0,431.7 673.3,431.6 673.7,430.3 674.0,430.5 674.3,430.0 674.7,429.5 675.0,428.3 675.3,427.2 675.7,428.0 676.0,427.2 676.3,426.6 676.7,425.8 676.8,425.4 676.9,424.2 677.0,424.4 677.0,423.5 677.1,422.8 677.2,422.1 677.3,422.0 677.4,421.4 677.5,420.9 677.6,419.6 677.7,419.1 677.8,418.4 677.9,417.7 678.0,417.5 678.2,417.9 678.3,418.2 678.5,419.7 678.6,419.6 678.8,420.0 678.9,420.6 679.1,422.0 679.2,422.0 679.4,422.9 679.5,423.4 679.7,424.2 679.9,425.2 680.2,426.0 680.4,425.7 680.7,426.8 681.0,427.8 681.2,427.8 681.5,429.0 681.7,429.4 682.0,429.7 682.4,428.8 682.7,429.3 683.1,428.3 683.4,427.0 683.8,427.3 684.2,426.7 684.6,426.8 685.0,425.7 685.5,425.1 685.9,424.5 686.3,424.2 686.9,424.8 687.5,424.1 688.1,422.9 688.7,423.3 688.9,422.6 689.1,421.9 689.3,422.1 689.5,421.2 689.7,419.8 689.8,420.2 690.0,418.5 690.2,418.6 690.4,417.8 690.6,417.5 690.8,416.7 691.0,416.0 691.1,415.0 691.3,414.9 691.4,414.6 691.6,414.0 691.7,412.9 691.9,412.1 692.0,412.1 692.2,411.6 692.3,410.3 692.5,410.0 692.7,409.9 692.9,409.4 693.1,408.1 693.3,407.4 693.5,407.2 693.7,406.9 693.9,405.4 694.1,404.9 694.3,404.3 694.5,404.2 694.7,403.3 694.8,403.6 694.9,404.6 695.0,405.2 695.1,406.0 695.2,406.0 695.3,407.5 695.4,408.1 695.6,408.3 695.7,409.1 695.8,409.1 695.9,410.5 696.0,410.7 696.1,411.6 696.2,412.3 696.3,412.5 696.5,411.7 696.6,411.7 696.8,410.3 696.9,409.5 697.1,409.4 697.2,409.2 697.4,408.6 697.5,407.5 697.7,408.7 697.9,408.8 698.1,409.9 698.3,410.1 698.5,410.2 698.8,411.4 699.0,412.3 699.2,412.5 700.0,413.3 700.1,412.6 700.1,412.2 700.2,411.3 700.2,410.7 700.3,410.2 700.4,409.7 700.4,409.0 700.5,408.0 700.6,407.3 700.6,407.0 700.7,406.8 700.7,406.2 700.8,405.1 700.9,404.5 700.9,404.1 701.0,403.2 701.0,403.0 701.1,402.7 701.2,401.7 701.2,400.8 701.2,400.5 701.2,400.0 701.2,399.4 701.2,398.8 701.2,398.2 701.3,397.2 701.3,397.0 701.3,396.5 701.3,395.2 701.3,395.3 701.3,394.3 701.3,393.3 701.4,392.7 701.4,392.7 701.4,392.0 701.4,390.9 701.4,390.6 701.4,390.1 701.4,389.8 701.4,388.6 701.5,388.4 701.5,387.3 701.5,386.7 701.5,386.0 701.5,385.6 701.5,385.2 701.5,384.3 701.5,383.6 701.6,383.0 701.6,382.3 701.6,381.8 701.6,381.2 701.6,380.8 701.6,379.9 701.6,379.5 701.7,378.9 701.7,378.3 701.7,378.2 701.7,377.1 701.8,376.9 701.8,375.9 701.9,375.0 701.9,374.8 701.9,373.8 702.0,373.2 702.0,372.5 702.0,372.5 702.1,372.1 702.1,371.0 702.2,370.3 702.2,369.8 702.2,369.1 702.3,368.8 702.3,367.9 702.3,367.1 702.4,367.1 702.4,366.3 702.5,365.2 702.5,365.0 702.9,366.1 703.3,366.5 703.7,366.7 703.8,365.9 704.0,365.6 704.2,365.3 704.3,364.0 704.5,363.5 704.7,362.7 704.8,362.4 705.0,361.7 705.4,362.5 705.9,363.2 706.3,363.3 706.4,363.2 706.5,361.7 706.7,361.4 706.8,361.3 706.9,360.6 707.0,359.8 707.1,359.3 707.2,358.3 707.3,358.4 707.4,357.3 707.5,356.7 707.6,355.9 707.7,355.0 707.8,354.3 707.8,354.4 707.9,353.3 708.3,353.3 708.8,351.4 709.2,351.7 709.2,350.9 709.3,350.4 709.3,349.8 709.4,349.0 709.4,348.9 709.5,347.8 709.6,347.3 709.6,347.1 709.7,346.2 709.7,345.4 709.8,344.6 709.8,344.2 710.0,343.4 710.2,343.1 710.5,342.7 710.7,341.7 710.7,340.9 710.7,340.4 710.7,339.8 710.7,339.1 710.8,339.0 710.8,338.1 710.8,337.3 710.8,336.7 710.8,336.5 710.9,335.4 710.9,335.2 710.9,334.0 710.9,333.6 710.9,332.9 710.9,332.9 711.0,331.7 711.0,331.2 711.0,330.8 711.0,329.8 711.0,329.4 711.1,329.2 711.1,328.5 711.1,328.1 711.1,327.5 711.2,326.5 711.2,326.2 711.2,324.9 711.2,325.0 711.3,323.9 711.3,323.1 711.3,322.9 711.4,322.4 711.4,321.4 711.4,320.5 711.4,320.5 711.5,319.8 711.5,319.0 711.5,318.3 711.5,319.4 711.6,319.2 711.6,319.8 711.7,320.5 711.7,321.0 711.8,322.3 711.8,322.8 711.8,323.0 711.9,323.7 711.9,324.3 712.0,325.3 712.0,326.0 712.0,326.9 712.1,327.0 712.1,328.1 712.2,328.3 712.2,328.9 712.2,329.4 712.3,330.0 712.3,330.8 712.4,331.9 712.4,332.5 712.4,332.9 712.5,333.0 712.5,333.7 712.5,334.3 712.5,335.1 712.6,336.0 712.6,336.1 712.6,337.1 712.7,337.9 712.7,337.9 712.7,338.9 712.7,339.8 712.8,340.3 712.8,340.8 712.8,341.8 712.9,342.2 712.9,342.6 712.9,343.3 713.0,343.8 713.1,345.0 713.2,345.5 713.3,346.1 713.4,346.4 713.5,346.5 713.5,347.2 713.6,348.0 713.7,348.9 713.8,348.8 713.9,350.2 714.0,350.8 714.1,351.1 714.2,351.7 714.2,351.8 714.3,353.1 714.3,353.4 714.4,354.2 714.4,354.7 714.4,355.5 714.5,355.8 714.5,356.9 714.6,357.1 714.6,358.1 714.6,358.7 714.6,359.1 714.6,359.4 714.6,360.1 714.6,360.6 714.6,361.8 714.6,362.3 714.7,362.9 714.7,363.3 714.7,364.2 714.7,365.0 714.8,365.3 714.8,365.6 714.8,366.6 714.9,366.8 714.9,367.7 714.9,367.9 715.0,369.2 715.0,369.5 715.1,369.9 715.1,371.1 715.1,370.9 715.2,372.3 715.2,372.8 715.2,372.8 715.3,374.0 715.3,374.5 715.3,375.0 715.4,374.8 715.4,373.9 715.5,373.1 715.5,372.9 715.6,371.5 715.6,371.6 715.7,370.3 715.8,369.9 715.8,369.1 715.9,369.2 715.9,368.2 716.0,367.8 716.0,366.8 716.1,366.6 716.1,365.9 716.2,364.8 716.2,364.6 716.3,364.2 716.3,363.3 716.6,362.3 716.8,362.4 717.0,361.2 717.3,360.8 717.5,360.9 717.8,360.4 718.0,359.2 718.2,359.1 718.5,357.7 718.8,357.1 718.8,356.5 718.8,356.1 718.9,355.4 718.9,354.5 718.9,354.2 719.0,353.1 719.0,353.0 719.1,351.9 719.1,350.9 719.1,350.9 719.2,350.0 719.2,349.1 719.3,349.0 719.3,347.8 719.4,348.0 719.4,347.0 719.4,346.6 719.5,345.4 719.5,345.3 719.6,344.6 719.9,344.9 720.2,345.2 720.5,346.6 720.8,346.7 720.9,346.8 721.0,347.9 721.1,348.1 721.1,349.4 721.2,350.1 721.3,349.8 721.4,350.9 721.4,351.5 721.5,352.3 721.6,353.0 721.7,353.3 721.8,353.8 722.0,355.2 722.2,355.0 722.3,355.6 722.5,356.7 722.8,356.5 723.0,354.9 723.2,354.4 723.5,354.2 723.8,353.3 724.0,352.9 724.1,353.1 724.3,354.6 724.4,354.7 724.6,355.6 724.7,355.6 724.9,357.0 725.0,357.1 725.0,357.6 725.0,358.9 725.0,359.4 725.0,360.0 725.4,361.4 725.9,361.6 726.3,361.7 726.4,362.4 726.5,363.0 726.6,363.9 726.7,364.1 726.8,364.4 726.9,365.8 727.0,366.4 727.1,366.9 727.2,367.5 727.3,367.6 727.4,368.5 727.5,369.2 728.2,370.3 728.8,370.0 728.9,371.1 729.0,371.7 729.1,371.5 729.2,372.7 729.3,373.2 729.4,373.7 729.5,374.0 729.6,374.6 729.7,375.6 729.8,376.2 729.9,376.6 730.0,377.5 730.7,377.6 731.3,378.3 731.5,379.0 731.6,379.9 731.8,380.3 731.9,380.4 732.1,381.8 732.2,381.8 732.4,383.1 732.5,383.7 732.7,383.4 732.8,384.5 733.0,385.0 733.3,386.3 733.6,386.0 733.9,386.9 734.1,387.1 734.4,387.3 734.7,388.1 735.0,389.2 735.4,388.0 735.8,387.8 736.2,387.9 736.6,387.3 737.0,386.7 737.1,387.7 737.2,388.1 737.2,388.5 737.3,389.7 737.4,390.0 737.5,390.6 737.5,391.5 737.6,392.0 737.7,392.3 737.8,393.2 737.8,393.5 737.9,394.8 738.0,395.0 738.2,395.3 738.5,396.9 738.7,396.4 738.9,397.0 739.2,398.3 739.4,397.8 739.6,396.7 739.9,396.6 740.1,395.4 740.4,395.8 740.6,395.0 740.8,394.2 741.0,393.8 741.1,393.4 741.2,392.9 741.4,391.9 741.5,391.4 741.6,389.9 741.8,389.4 741.9,389.2 742.0,389.2 742.2,387.8 742.3,387.5 742.4,386.3 742.6,386.1 742.7,386.1 742.8,385.0 743.1,385.7 743.4,386.6 743.6,386.1 743.9,387.0 744.1,387.5 744.4,389.0 744.7,389.2 745.0,389.1 745.3,391.0 745.7,390.5 746.0,392.0 746.3,392.0 746.7,392.5 746.8,391.7 747.0,391.8 747.2,390.5 747.3,390.2 747.5,388.9 747.7,389.1 747.8,388.7 748.0,387.5 748.1,386.5 748.1,386.5 748.2,385.5 748.3,384.8 748.3,384.4 748.4,384.0 748.5,383.7 748.5,383.2 748.6,382.6 748.6,381.6 748.7,381.0 748.8,380.0 748.8,379.9 748.9,379.1 749.0,378.3 749.0,378.3 749.1,377.0 749.2,376.7 749.5,375.5 749.8,374.9 750.2,374.3 750.5,374.2 750.6,373.6 750.6,373.2 750.7,372.0 750.7,371.7 750.8,371.2 750.8,370.5 750.9,369.8 750.9,369.3 751.0,368.2 751.0,367.6 751.1,367.3 751.1,366.5 751.2,366.4 751.2,365.3 751.3,365.2 751.3,364.1 751.4,363.3 751.4,363.1 751.5,362.4 751.5,361.7 751.6,361.5 751.6,360.4 751.7,360.0 751.8,360.8 751.9,361.5 752.0,361.7 752.0,362.4 752.1,363.4 752.2,363.7 752.3,363.8 752.4,364.3 752.5,364.9 752.6,365.8 752.7,366.1 752.8,367.3 752.9,367.7 753.0,368.3 753.2,368.7 753.3,369.5 753.5,370.6 753.7,370.4 753.8,370.9 754.0,371.7 754.2,372.5 754.3,372.9 754.5,374.2 754.7,374.5 754.8,374.7 755.0,375.0 755.2,375.4 755.3,376.1 755.5,377.6 755.7,377.9 755.8,378.3 756.6,377.5 757.3,378.6 758.0,378.3 758.7,377.3 759.3,378.3 760.0,378.3 760.1,378.8 760.2,379.1 760.4,380.4 760.5,381.0 760.6,381.4 760.7,381.6 760.8,382.8 761.0,383.1 761.1,384.0 761.2,383.9 761.3,385.0 761.5,386.1 761.8,385.6 762.0,386.5 762.2,387.4 762.4,387.7 762.6,388.2 762.8,389.6 763.0,390.0 763.3,391.3 763.7,390.7 764.0,391.1 764.3,392.3 764.7,392.5 765.0,391.5 765.3,391.2 765.7,391.1 766.0,390.2 766.3,389.2 766.7,389.2 766.7,389.3 766.8,390.4 766.9,391.5 767.0,392.0 767.0,391.8 767.1,392.8 767.2,393.4 767.3,393.7 767.3,394.8 767.4,395.2 767.5,396.1 767.6,396.2 767.6,397.4 767.7,397.9 767.8,398.2 767.9,398.4 767.9,399.4 768.0,400.0 768.1,400.2 768.2,401.4 768.2,402.0 768.3,402.5 768.4,403.5 768.5,403.2 768.5,404.5 768.6,405.1 768.7,405.1 768.8,405.9 768.8,406.7 768.9,405.6 769.0,405.6 769.1,405.1 769.2,404.1 769.2,403.9 769.3,403.0 769.4,402.7 769.5,401.7 769.5,401.8 769.6,400.7 769.7,399.6 769.8,399.1 769.9,399.2 769.9,398.7 770.0,397.9 770.1,396.8 770.2,396.9 770.3,396.2 770.3,395.0 770.4,394.6 770.5,394.2 770.9,395.1 771.2,394.6 771.6,395.3 772.0,396.7 772.1,397.1 772.2,398.3 772.3,399.1 772.4,399.0 772.5,400.2 772.6,400.7 772.7,401.4 772.8,401.8 772.9,402.8 773.0,403.1 773.1,404.0 773.2,404.2 773.4,404.5 773.5,405.4 773.6,406.0 773.7,406.7 773.9,405.9 774.0,405.3 774.2,404.9 774.4,404.4 774.6,403.3 774.8,402.8 775.0,402.5 775.2,401.9 775.5,401.3 775.7,400.6 776.0,400.3 776.2,399.1 776.4,399.0 776.7,398.3 776.8,397.5 777.0,397.4 777.1,396.7 777.2,396.2 777.4,395.3 777.5,394.4 777.7,394.5 777.8,393.5 778.0,392.7 778.1,392.0 778.3,391.5 778.4,391.2 778.5,390.8 778.7,389.8 778.8,389.2 779.0,390.0 779.1,390.1 779.2,390.9 779.4,391.4 779.5,392.0 779.7,392.6 779.8,393.7 779.9,394.3 780.1,394.3 780.2,394.9 780.3,395.8 780.6,396.8 780.9,397.2 781.2,397.8 781.4,398.3 781.7,398.9 782.0,399.2 782.2,399.5 782.3,399.8 782.5,400.7 782.7,400.9 782.8,402.6 783.0,402.7 783.2,403.4 783.3,404.4 783.5,404.7 783.7,404.6 783.8,405.3 784.0,405.6 784.2,406.7 784.7,407.0 785.3,406.6 785.8,405.8 786.0,406.4 786.1,406.9 786.3,407.4 786.4,408.2 786.6,409.1 786.7,409.9 786.9,410.5 787.0,411.1 787.2,411.2 787.3,411.8 787.5,412.5 787.9,412.8 788.2,414.4 788.6,413.7 788.9,414.2 789.3,414.9 789.7,415.8 789.9,417.0 790.1,417.6 790.4,417.6 790.6,419.0 790.8,419.2 791.0,419.1 791.2,417.9 791.3,417.0 791.5,417.2 791.7,416.1 791.8,415.2 792.0,415.6 792.2,414.4 792.3,413.8 792.5,413.3 793.0,413.9 793.6,413.7 794.1,413.6 794.7,415.0 795.1,414.3 795.4,413.7 795.8,413.3 796.0,413.3 796.2,414.4 796.5,415.5 796.7,415.6 796.9,416.7 797.1,417.2 797.3,417.3 797.5,418.3 798.1,418.0 798.6,419.8 799.2,420.0 799.5,419.7 799.8,418.7 800.2,418.0 800.5,418.6 800.8,417.5 801.1,417.4 801.3,415.8 801.5,415.6 801.8,414.9 802.0,414.2 802.2,414.5 802.4,414.8 802.6,415.7 802.8,416.7 803.0,417.3 803.1,417.8 803.3,418.3 804.0,417.1 804.7,417.5 804.8,417.8 805.0,418.5 805.1,419.2 805.3,419.8 805.4,421.0 805.6,420.7 805.7,422.3 805.9,422.0 806.0,423.4 806.2,423.3 806.3,424.2 806.5,424.9 806.6,425.3 806.8,425.5 806.9,427.0 807.1,427.6 807.2,427.7 807.4,428.9 807.5,429.2 808.1,428.6 808.6,429.0 809.2,427.5 809.6,427.3 809.9,428.4 810.3,429.2 810.4,428.3 810.4,428.1 810.5,427.6 810.5,427.0 810.6,426.2 810.6,425.4 810.7,425.2 810.7,423.9 810.8,423.5 810.8,423.3 810.9,422.4 810.9,422.3 811.0,420.9 811.1,420.6 811.1,419.8 811.2,419.0 811.2,418.4 811.3,417.8 811.3,417.5 811.4,416.9 811.4,416.4 811.5,415.6 811.5,415.3 811.6,414.6 811.6,414.4 811.7,413.3 812.2,413.3 812.8,414.5 813.3,415.0 813.5,414.4 813.6,413.6 813.8,413.6 813.9,412.2 814.1,412.4 814.2,411.2 814.4,410.6 814.5,410.3 814.7,409.6 814.8,408.7 815.0,408.3 815.2,408.4 815.5,410.2 815.8,410.0 816.0,410.3 816.2,411.7 816.5,412.1 816.8,412.5 817.0,413.3 817.1,413.7 817.2,414.9 817.3,415.0 817.4,415.6 817.5,416.8 817.6,416.8 817.7,417.4 817.8,417.7 817.9,418.9 818.0,419.5 818.0,419.8 818.1,420.4 818.2,420.8 818.3,421.7 818.5,422.6 818.7,422.9 818.8,423.9 819.0,424.0 819.2,425.1 819.3,424.9 819.5,425.7 819.7,426.7 820.0,426.9 820.3,426.0 820.7,425.5 821.0,424.7 821.3,424.2 821.7,423.6 822.0,422.7 822.3,422.1 822.7,422.4 823.0,421.7 823.3,422.5 823.7,422.3 824.0,423.4 824.3,423.1 824.7,424.2 825.0,423.7 825.2,422.4 825.5,422.3 825.8,421.7 826.2,421.9 826.5,422.7 826.8,422.6 827.2,423.6 827.5,424.2 827.8,424.9 828.1,424.7 828.4,425.5 828.7,426.6 829.0,427.0 829.4,427.6 829.7,428.0 829.8,427.7 830.0,426.8 830.2,425.8 830.3,425.4 830.5,425.2 830.7,424.3 830.8,423.9 831.0,422.8 831.2,422.2 831.3,421.7 831.6,422.9 831.8,423.3 832.0,423.7 832.3,423.5 832.5,424.8 832.8,424.6 833.0,425.8 833.3,427.1 833.6,427.7 833.9,428.0 834.1,427.9 834.4,429.3 834.7,428.9 835.0,430.0 835.3,431.0 835.7,431.0 836.0,430.7 836.3,432.6 836.7,432.5 837.5,432.4 838.3,432.5 838.7,433.6 839.0,433.9 839.3,434.2 839.7,435.3 840.0,434.8 840.3,435.8 840.8,437.0 841.2,436.5 841.6,436.5 842.1,437.5 842.5,438.3 842.9,438.1 843.4,438.6 843.8,440.1 844.2,439.7 844.7,440.8 845.2,440.6 845.7,441.3 846.2,441.7 846.7,442.5 847.3,443.6 848.0,443.6 848.7,443.6 849.3,444.0 850.0,443.0 850.1,442.3 850.2,442.1 850.3,440.9 850.4,441.0 850.5,440.3 850.6,439.6 850.6,438.4 850.7,437.7 850.8,437.5 851.0,437.4 851.1,436.3 851.3,435.8 851.4,435.4 851.6,434.0 851.7,434.0 851.9,433.1 852.0,432.5 852.2,433.5 852.3,433.7 852.5,434.0 852.7,435.5 852.8,435.4 853.0,436.5 853.2,437.3 853.3,437.5 853.6,437.8 853.8,439.0 854.0,439.1 854.3,439.5 854.5,440.1 854.8,441.7 855.0,441.7 855.5,441.7 856.0,442.4 856.5,442.7 857.0,443.0 857.3,441.7 857.7,442.3 858.0,441.8 858.3,440.8 858.9,442.1 859.4,441.7 860.0,442.5 860.6,442.4 861.1,443.1 861.7,443.8 862.2,443.8 862.8,443.3 863.3,442.5 863.9,442.9 864.4,443.7 865.0,444.2 865.6,443.0 866.1,443.8 866.7,442.5 867.5,442.3 868.3,442.2 869.0,442.0 869.6,442.4 870.2,440.9 870.8,441.3 871.0,442.2 871.2,442.3 871.4,443.5 871.6,443.2 871.8,444.0 871.9,445.1 872.1,445.5 872.3,445.9 872.5,446.7 872.9,447.4 873.3,447.3 873.8,448.2 874.2,448.0 874.6,450.0 875.0,450.0 875.3,449.1 875.6,449.4 875.8,448.4 876.1,447.9 876.4,447.4 876.7,446.7 876.9,445.6 877.2,446.0 877.5,444.7 877.8,445.0 878.1,444.3 878.3,443.3 878.5,442.9 878.7,442.5 878.8,441.4 879.0,441.0 879.2,440.7 879.3,439.2 879.5,438.5 879.7,438.3 880.1,437.6 880.4,437.2 880.8,436.7 880.9,435.7 881.0,435.1 881.0,435.1 881.1,434.0 881.2,433.1 881.2,432.5 881.3,432.3 881.3,431.2 881.4,430.9 881.5,430.3 881.5,429.6 881.6,429.0 881.7,428.3 882.1,429.5 882.6,428.6 883.0,430.0 883.2,431.1 883.3,430.9 883.5,431.3 883.6,432.7 883.8,433.1 883.9,433.7 884.1,433.9 884.2,435.2 884.4,435.2 884.5,436.3 884.7,436.7 885.2,435.7 885.7,436.0 886.2,435.7 886.7,435.0 886.9,434.3 887.2,433.9 887.5,432.7 887.8,433.0 888.1,432.5 888.3,431.7 888.6,430.6 888.9,430.6 889.2,430.3 889.4,428.9 889.7,429.4 890.0,428.3 890.1,428.1 890.1,426.7 890.2,426.3 890.3,425.5 890.4,425.1 890.4,424.3 890.5,424.1 890.6,423.3 890.7,422.7 890.7,422.3 890.8,421.6 890.9,421.4 891.0,420.7 891.0,419.5 891.1,419.0 891.2,418.2 891.3,417.9 891.3,417.5 891.4,417.7 891.5,418.9 891.7,419.6 891.8,420.5 891.9,420.2 892.0,420.6 892.1,422.0 892.2,422.3 892.3,423.4 892.4,423.4 892.5,424.2 892.6,423.4 892.6,422.6 892.7,422.8 892.7,421.8 892.8,421.1 892.8,420.5 892.9,420.2 892.9,419.7 893.0,418.7 893.0,417.9 893.1,417.5 893.1,417.3 893.2,416.3 893.2,415.9 893.3,415.2 893.4,414.5 893.4,414.0 893.5,413.1 893.5,412.8 893.6,412.5 893.6,411.2 893.7,410.8 893.7,410.7 893.8,410.2 893.8,409.2 893.9,409.3 894.0,410.5 894.0,411.2 894.1,412.0 894.1,412.3 894.2,412.6 894.2,413.4 894.3,414.4 894.4,415.0 894.4,415.1 894.5,416.2 894.5,416.8 894.6,417.4 894.6,417.5 894.7,418.5 894.8,419.0 894.8,419.9 894.9,420.3 894.9,420.7 895.0,421.7 895.3,422.4 895.7,422.3 896.0,423.6 896.3,423.3 896.7,424.2 897.2,424.0 897.8,424.3 898.3,423.3 898.6,422.2 898.8,422.4 899.1,420.9 899.3,421.4 899.6,419.6 899.8,419.9 900.1,418.8 900.3,418.3 900.5,417.3 900.8,416.9 901.0,416.5 901.2,415.7 901.4,414.7 901.6,414.6 901.8,413.7 902.0,413.3 902.1,413.2 902.2,412.0 902.3,411.5 902.4,410.7 902.5,410.8 902.6,409.6 902.7,409.3 902.8,408.9 902.9,407.9 903.0,407.6 903.0,406.6 903.1,405.8 903.2,405.1 903.3,405.0 903.4,404.4 903.4,404.1 903.4,402.9 903.5,402.5 903.5,402.2 903.5,401.2 903.6,400.5 903.6,400.2 903.6,399.5 903.7,399.4 903.7,398.8 903.7,397.6 903.8,397.3 903.8,396.5 903.8,395.6 903.9,395.4 903.9,395.2 903.9,394.0 904.0,393.7 904.0,393.2 904.0,392.0 904.1,392.2 904.1,390.9 904.1,390.4 904.2,390.0 904.2,390.8 904.3,390.8 904.3,391.7 904.3,392.1 904.4,393.0 904.4,393.2 904.5,393.9 904.5,394.6 904.6,395.1 904.6,395.7 904.7,396.4 904.7,397.3 904.8,397.6 904.8,398.8 904.8,399.1 904.9,399.5 904.9,400.1 905.0,401.3 905.0,401.2 905.1,402.4 905.1,402.4 905.2,403.8 905.2,403.9 905.2,404.7 905.3,405.6 905.3,405.8 905.8,404.6 906.2,404.0 906.7,404.2 906.8,403.8 906.9,403.1 907.0,402.6 907.2,401.5 907.3,401.1 907.4,400.2 907.5,399.9 907.6,399.1 907.8,398.8 907.9,397.9 908.0,397.5 908.6,396.7 909.1,397.2 909.7,396.7 910.3,395.7 911.0,397.4 911.7,396.7 911.7,397.3 911.8,397.7 911.8,398.2 911.9,399.2 911.9,399.8 912.0,400.6 912.0,400.9 912.1,401.6 912.1,402.7 912.2,402.7 912.2,404.0 912.3,404.5 912.3,405.2 912.4,405.8 912.4,405.8 912.5,406.7 912.7,407.6 912.8,408.0 913.0,408.1 913.1,409.7 913.3,409.9 913.4,410.7 913.6,411.0 913.7,411.0 913.9,412.5 914.0,412.3 914.2,413.3 914.4,413.6 914.6,414.7 914.9,414.7 915.1,415.7 915.4,416.6 915.6,416.4 915.8,417.5 916.7,417.9 917.5,417.5 917.6,416.5 917.7,416.3 917.8,415.8 917.9,415.3 918.1,414.0 918.2,413.5 918.3,413.7 918.4,412.5 918.5,411.9 918.6,411.3 918.7,411.0 918.8,410.4 918.9,409.7 919.1,408.8 919.2,408.3 919.9,408.8 920.6,408.9 921.3,409.2 921.6,409.3 921.8,411.0 922.0,411.6 922.3,411.9 922.5,412.8 922.8,412.7 923.0,413.3 923.4,414.4 923.8,413.9 924.2,415.3 924.6,415.7 925.0,415.8 925.5,417.2 926.0,417.5 926.5,418.0 927.0,417.4 927.5,418.3 928.1,419.3 928.6,419.2 929.2,419.7 929.8,419.1 930.4,419.1 931.0,420.0 931.7,419.2 931.9,419.1 932.2,418.6 932.5,417.7 932.8,416.5 933.1,415.9 933.3,415.9 933.6,414.9 933.9,414.5 934.2,414.2 934.5,414.0 934.8,414.6 935.2,416.0 935.5,415.7 935.8,416.7 935.9,416.4 936.0,415.3 936.1,415.2 936.2,414.0 936.3,413.4 936.4,412.9 936.4,411.9 936.5,411.7 936.6,411.0 936.7,410.0 936.8,410.3 936.9,409.2 937.0,408.2 937.1,408.5 937.1,407.2 937.2,406.6 937.3,405.7 937.4,405.2 937.5,405.0 937.7,405.9 938.0,406.3 938.2,406.8 938.5,407.0 938.7,407.7 938.9,409.2 939.2,409.2 939.2,408.4 939.3,408.4 939.4,407.7 939.4,406.3 939.5,406.4 939.6,405.0 939.7,405.0 939.7,404.5 939.8,403.7 939.9,403.0 939.9,402.6 940.0,401.7 940.1,400.6 940.3,400.4 940.4,399.5 940.6,399.0 940.7,398.1 940.8,398.0 941.0,397.2 941.1,396.8 941.2,395.8 941.7,396.6 942.1,397.1 942.5,397.5 942.6,397.3 942.6,396.5 942.7,395.6 942.8,394.8 942.8,394.7 942.9,393.5 942.9,392.6 943.0,392.2 943.1,391.9 943.1,391.5 943.2,390.6 943.3,390.0 943.3,389.2 944.0,390.5 944.6,390.0 944.6,389.6 944.7,388.7 944.7,388.1 944.8,387.8 944.8,386.8 944.9,386.0 944.9,385.8 945.0,385.4 945.0,384.3 945.1,384.0 945.1,383.6 945.2,382.3 945.2,381.7 945.3,381.4 945.3,380.7 945.4,380.6 945.4,379.6 945.5,380.7 945.5,380.8 945.6,381.7 945.7,382.2 945.7,382.4 945.8,383.8 945.8,383.7 945.9,384.2 946.0,385.2 946.0,385.4 946.1,386.4 946.1,387.0 946.2,388.1 946.2,388.3 946.6,388.8 946.9,390.1 947.2,390.6 947.5,390.8 947.7,391.5 948.0,391.7 948.2,392.4 948.5,393.2 948.7,393.7 948.9,394.6 949.2,395.0 949.3,394.4 949.4,393.6 949.5,393.3 949.6,393.1 949.7,391.6 949.8,391.2 950.0,390.2 950.1,389.7 950.2,389.1 950.3,388.9 950.4,388.3 950.5,388.0 950.5,387.3 950.5,386.9 950.6,386.1 950.6,385.3 950.7,384.7 950.7,383.5 950.8,383.2 950.8,382.5 950.8,382.2 950.9,381.1 950.9,380.9 951.0,380.1 951.0,379.6 951.0,378.9 951.1,378.0 951.1,377.9 951.2,377.4 951.2,376.5 951.2,375.8 951.3,374.9 951.3,374.7 951.4,374.3 951.4,373.8 951.5,372.9 951.5,371.7 951.5,371.8 951.6,371.0 951.6,370.0 951.7,370.0 951.7,369.3 951.8,368.7 951.8,367.5 951.8,367.2 951.9,366.3 951.9,365.8 952.0,366.3 952.0,367.3 952.1,367.8 952.1,368.2 952.2,369.0 952.2,370.0 952.3,370.3 952.3,371.2 952.4,371.5 952.4,372.5 952.5,372.3 952.5,373.3 952.6,374.0 952.6,374.8 952.7,375.6 952.7,375.9 952.8,376.4 952.8,377.2 952.9,377.7 952.9,378.3 953.5,379.3 954.2,379.6 954.4,380.7 954.5,380.2 954.7,381.2 954.9,382.5 955.1,382.0 955.3,383.6 955.5,383.2 955.6,384.6 955.8,385.0 956.0,386.0 956.2,385.9 956.5,386.7 956.7,387.2 956.9,388.4 957.1,388.8 957.3,389.5 957.5,390.0 957.6,389.2 957.7,388.9 957.8,388.7 958.0,387.9 958.1,387.5 958.2,386.1 958.3,385.8 958.4,385.0 958.5,384.4 958.6,384.3 958.8,383.3 958.9,382.4 959.0,382.1 959.1,381.7 959.2,381.3 959.3,379.7 959.4,379.3 959.5,379.0 959.6,378.3 959.8,378.2 960.1,376.6 960.3,376.8 960.6,375.5 960.8,375.0 961.5,374.5 962.1,373.8" fill="none" stroke="#0000ff" stroke-width="2.3" stroke-linejoin="round" stroke-linecap="round"/>
<line x1="51" x2="63" y1="507.40" y2="507.40" stroke="#000" stroke-width="1" shape-rendering="crispEdges"/>
<line x1="1028" x2="1040" y1="507.40" y2="507.40" stroke="#000" stroke-width="1" shape-rendering="crispEdges"/>
<text x="47.8" y="512.60" text-anchor="end" class="ax">0</text>
<text x="1043" y="512.60" text-anchor="start" class="ax">0</text>
<line x1="57" x2="63" y1="484.72" y2="484.72" stroke="#000" stroke-width="1" shape-rendering="crispEdges"/>
<line x1="1028" x2="1034" y1="484.72" y2="484.72" stroke="#000" stroke-width="1" shape-rendering="crispEdges"/>
<line x1="51" x2="63" y1="462.04" y2="462.04" stroke="#000" stroke-width="1" shape-rendering="crispEdges"/>
<line x1="1028" x2="1040" y1="462.04" y2="462.04" stroke="#000" stroke-width="1" shape-rendering="crispEdges"/>
<text x="47.8" y="467.24" text-anchor="end" class="ax">200</text>
<text x="1043" y="467.24" text-anchor="start" class="ax">200</text>
<line x1="57" x2="63" y1="439.35" y2="439.35" stroke="#000" stroke-width="1" shape-rendering="crispEdges"/>
<line x1="1028" x2="1034" y1="439.35" y2="439.35" stroke="#000" stroke-width="1" shape-rendering="crispEdges"/>
<line x1="51" x2="63" y1="416.67" y2="416.67" stroke="#000" stroke-width="1" shape-rendering="crispEdges"/>
<line x1="1028" x2="1040" y1="416.67" y2="416.67" stroke="#000" stroke-width="1" shape-rendering="crispEdges"/>
<text x="47.8" y="421.87" text-anchor="end" class="ax">400</text>
<text x="1043" y="421.87" text-anchor="start" class="ax">400</text>
<line x1="57" x2="63" y1="393.99" y2="393.99" stroke="#000" stroke-width="1" shape-rendering="crispEdges"/>
<line x1="1028" x2="1034" y1="393.99" y2="393.99" stroke="#000" stroke-width="1" shape-rendering="crispEdges"/>
<line x1="51" x2="63" y1="371.31" y2="371.31" stroke="#000" stroke-width="1" shape-rendering="crispEdges"/>
<line x1="1028" x2="1040" y1="371.31" y2="371.31" stroke="#000" stroke-width="1" shape-rendering="crispEdges"/>
<text x="47.8" y="376.51" text-anchor="end" class="ax">600</text>
<text x="1043" y="376.51" text-anchor="start" class="ax">600</text>
<line x1="57" x2="63" y1="348.63" y2="348.63" stroke="#000" stroke-width="1" shape-rendering="crispEdges"/>
<line x1="1028" x2="1034" y1="348.63" y2="348.63" stroke="#000" stroke-width="1" shape-rendering="crispEdges"/>
<line x1="51" x2="63" y1="325.95" y2="325.95" stroke="#000" stroke-width="1" shape-rendering="crispEdges"/>
<line x1="1028" x2="1040" y1="325.95" y2="325.95" stroke="#000" stroke-width="1" shape-rendering="crispEdges"/>
<text x="47.8" y="331.15" text-anchor="end" class="ax">800</text>
<text x="1043" y="331.15" text-anchor="start" class="ax">800</text>
<line x1="57" x2="63" y1="303.26" y2="303.26" stroke="#000" stroke-width="1" shape-rendering="crispEdges"/>
<line x1="1028" x2="1034" y1="303.26" y2="303.26" stroke="#000" stroke-width="1" shape-rendering="crispEdges"/>
<line x1="51" x2="63" y1="280.58" y2="280.58" stroke="#000" stroke-width="1" shape-rendering="crispEdges"/>
<line x1="1028" x2="1040" y1="280.58" y2="280.58" stroke="#000" stroke-width="1" shape-rendering="crispEdges"/>
<text x="47.8" y="285.78" text-anchor="end" class="ax">1000</text>
<text x="1043" y="285.78" text-anchor="start" class="ax">1000</text>
<line x1="57" x2="63" y1="257.90" y2="257.90" stroke="#000" stroke-width="1" shape-rendering="crispEdges"/>
<line x1="1028" x2="1034" y1="257.90" y2="257.90" stroke="#000" stroke-width="1" shape-rendering="crispEdges"/>
<line x1="51" x2="63" y1="235.22" y2="235.22" stroke="#000" stroke-width="1" shape-rendering="crispEdges"/>
<line x1="1028" x2="1040" y1="235.22" y2="235.22" stroke="#000" stroke-width="1" shape-rendering="crispEdges"/>
<text x="47.8" y="240.42" text-anchor="end" class="ax">1200</text>
<text x="1043" y="240.42" text-anchor="start" class="ax">1200</text>
<line x1="57" x2="63" y1="212.54" y2="212.54" stroke="#000" stroke-width="1" shape-rendering="crispEdges"/>
<line x1="1028" x2="1034" y1="212.54" y2="212.54" stroke="#000" stroke-width="1" shape-rendering="crispEdges"/>
<line x1="51" x2="63" y1="189.85" y2="189.85" stroke="#000" stroke-width="1" shape-rendering="crispEdges"/>
<line x1="1028" x2="1040" y1="189.85" y2="189.85" stroke="#000" stroke-width="1" shape-rendering="crispEdges"/>
<text x="47.8" y="195.05" text-anchor="end" class="ax">1400</text>
<text x="1043" y="195.05" text-anchor="start" class="ax">1400</text>
<line x1="57" x2="63" y1="167.17" y2="167.17" stroke="#000" stroke-width="1" shape-rendering="crispEdges"/>
<line x1="1028" x2="1034" y1="167.17" y2="167.17" stroke="#000" stroke-width="1" shape-rendering="crispEdges"/>
<line x1="51" x2="63" y1="144.49" y2="144.49" stroke="#000" stroke-width="1" shape-rendering="crispEdges"/>
<line x1="1028" x2="1040" y1="144.49" y2="144.49" stroke="#000" stroke-width="1" shape-rendering="crispEdges"/>
<text x="47.8" y="149.69" text-anchor="end" class="ax">1600</text>
<text x="1043" y="149.69" text-anchor="start" class="ax">1600</text>
<line x1="57" x2="63" y1="121.81" y2="121.81" stroke="#000" stroke-width="1" shape-rendering="crispEdges"/>
<line x1="1028" x2="1034" y1="121.81" y2="121.81" stroke="#000" stroke-width="1" shape-rendering="crispEdges"/>
<line x1="51" x2="63" y1="99.13" y2="99.13" stroke="#000" stroke-width="1" shape-rendering="crispEdges"/>
<line x1="1028" x2="1040" y1="99.13" y2="99.13" stroke="#000" stroke-width="1" shape-rendering="crispEdges"/>
<text x="47.8" y="104.33" text-anchor="end" class="ax">1800</text>
<text x="1043" y="104.33" text-anchor="start" class="ax">1800</text>
<line x1="57" x2="63" y1="76.45" y2="76.45" stroke="#000" stroke-width="1" shape-rendering="crispEdges"/>
<line x1="1028" x2="1034" y1="76.45" y2="76.45" stroke="#000" stroke-width="1" shape-rendering="crispEdges"/>
<line x1="51" x2="63" y1="53.76" y2="53.76" stroke="#000" stroke-width="1" shape-rendering="crispEdges"/>
<line x1="1028" x2="1040" y1="53.76" y2="53.76" stroke="#000" stroke-width="1" shape-rendering="crispEdges"/>
<text x="47.8" y="58.96" text-anchor="end" class="ax">2000</text>
<text x="1043" y="58.96" text-anchor="start" class="ax">2000</text>
<line x1="57" x2="63" y1="31.08" y2="31.08" stroke="#000" stroke-width="1" shape-rendering="crispEdges"/>
<line x1="1028" x2="1034" y1="31.08" y2="31.08" stroke="#000" stroke-width="1" shape-rendering="crispEdges"/>
<line x1="51" x2="63" y1="8.40" y2="8.40" stroke="#000" stroke-width="1" shape-rendering="crispEdges"/>
<line x1="1028" x2="1040" y1="8.40" y2="8.40" stroke="#000" stroke-width="1" shape-rendering="crispEdges"/>
<text x="47.8" y="13.60" text-anchor="end" class="ax">2200</text>
<text x="1043" y="13.60" text-anchor="start" class="ax">2200</text>
<line x1="64.00" x2="64.00" y1="508" y2="521.8" stroke="#000" stroke-width="2"/>
<text x="94.09" y="527.6" text-anchor="middle" class="ax">2001</text>
<line x1="124.19" x2="124.19" y1="508" y2="521.8" stroke="#000" stroke-width="2"/>
<text x="154.28" y="527.6" text-anchor="middle" class="ax">2002</text>
<line x1="184.38" x2="184.38" y1="508" y2="521.8" stroke="#000" stroke-width="2"/>
<text x="214.47" y="527.6" text-anchor="middle" class="ax">2003</text>
<line x1="244.56" x2="244.56" y1="508" y2="521.8" stroke="#000" stroke-width="2"/>
<text x="274.66" y="527.6" text-anchor="middle" class="ax">2004</text>
<line x1="304.75" x2="304.75" y1="508" y2="521.8" stroke="#000" stroke-width="2"/>
<text x="334.84" y="527.6" text-anchor="middle" class="ax">2005</text>
<line x1="364.94" x2="364.94" y1="508" y2="521.8" stroke="#000" stroke-width="2"/>
<text x="395.03" y="527.6" text-anchor="middle" class="ax">2006</text>
<line x1="425.12" x2="425.12" y1="508" y2="521.8" stroke="#000" stroke-width="2"/>
<text x="455.22" y="527.6" text-anchor="middle" class="ax">2007</text>
<line x1="485.31" x2="485.31" y1="508" y2="521.8" stroke="#000" stroke-width="2"/>
<text x="515.41" y="527.6" text-anchor="middle" class="ax">2008</text>
<line x1="545.50" x2="545.50" y1="508" y2="521.8" stroke="#000" stroke-width="2"/>
<text x="575.59" y="527.6" text-anchor="middle" class="ax">2009</text>
<line x1="605.69" x2="605.69" y1="508" y2="521.8" stroke="#000" stroke-width="2"/>
<text x="635.78" y="527.6" text-anchor="middle" class="ax">2010</text>
<line x1="665.88" x2="665.88" y1="508" y2="521.8" stroke="#000" stroke-width="2"/>
<text x="695.97" y="527.6" text-anchor="middle" class="ax">2011</text>
<line x1="726.06" x2="726.06" y1="508" y2="521.8" stroke="#000" stroke-width="2"/>
<text x="756.16" y="527.6" text-anchor="middle" class="ax">2012</text>
<line x1="786.25" x2="786.25" y1="508" y2="521.8" stroke="#000" stroke-width="2"/>
<text x="816.34" y="527.6" text-anchor="middle" class="ax">2013</text>
<line x1="846.44" x2="846.44" y1="508" y2="521.8" stroke="#000" stroke-width="2"/>
<text x="876.53" y="527.6" text-anchor="middle" class="ax">2014</text>
<line x1="906.62" x2="906.62" y1="508" y2="521.8" stroke="#000" stroke-width="2"/>
<text x="936.72" y="527.6" text-anchor="middle" class="ax">2015</text>
<line x1="966.81" x2="966.81" y1="508" y2="521.8" stroke="#000" stroke-width="2"/>
<text x="996.91" y="527.6" text-anchor="middle" class="ax">2016</text>
<line x1="1027.00" x2="1027.00" y1="508" y2="521.8" stroke="#000" stroke-width="2"/>
<text x="75.0" y="29.0" class="tt" textLength="399.6" lengthAdjust="spacingAndGlyphs">US HIGH YIELD CORPORATE YIELD LESS</text>
<text x="75.0" y="48.8" class="tt" textLength="350" lengthAdjust="spacingAndGlyphs">10-YEAR TREASURY YIELD SPREAD</text>
<text x="74.6" y="71.8" class="sub">(basis points)</text>
<text x="352.6" y="228.8" class="sub">Spread (580)</text>
<text x="967.3" y="381.9" class="lab">12/3</text>
<text x="73.2" y="501" class="yd" textLength="94" lengthAdjust="spacingAndGlyphs">yardeni.com</text>
<text x="64.2" y="562.7" class="src">Source: Merrill Lynch, Board of Governors of the Federal Reserve System.</text>
</svg>
</body></html>
